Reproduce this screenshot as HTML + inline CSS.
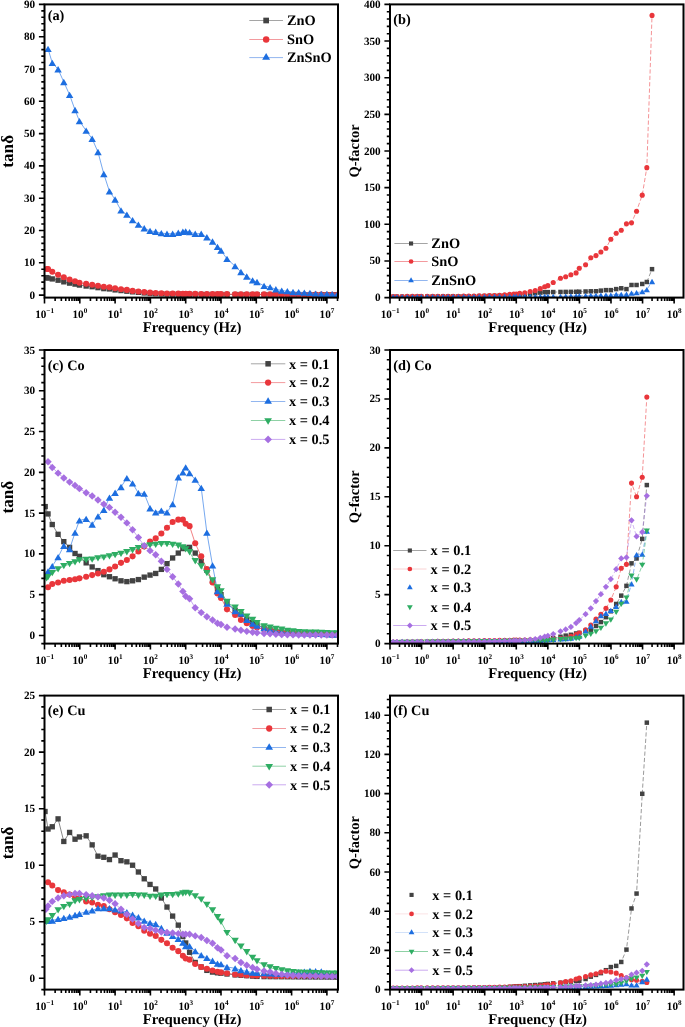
<!DOCTYPE html>
<html><head><meta charset="utf-8"><style>
html,body{margin:0;padding:0;background:#fff;width:685px;height:1027px;overflow:hidden}
svg{display:block;will-change:transform}
text{font-family:"Liberation Serif", serif;font-weight:bold;fill:#000;text-rendering:geometricPrecision}
</style></head><body>
<svg width="685" height="1027" viewBox="0 0 685 1027">
<defs><clipPath id="clip00"><rect x="44.5" y="4.4" width="293.5" height="293.2"/></clipPath><clipPath id="clip10"><rect x="390" y="4.4" width="293.5" height="293.2"/></clipPath><clipPath id="clip01"><rect x="44.5" y="350" width="293.5" height="293.6"/></clipPath><clipPath id="clip11"><rect x="390" y="350" width="293.5" height="293.6"/></clipPath><clipPath id="clip02"><rect x="44.5" y="695.6" width="293.5" height="294"/></clipPath><clipPath id="clip12"><rect x="390" y="695.6" width="293.5" height="294"/></clipPath></defs>
<rect width="685" height="1027" fill="#fff"/>
<g clip-path="url(#clip00)">
<polyline points="46.27,277.64 48.03,278.04 52.27,278.93 58.09,280.22 63.81,281.84 69.6,283.13 75.03,284.1 79.45,285.07 86.15,286.04 92.16,286.68 97.98,287.65 103.8,288.62 109.45,288.94 115.1,289.91 121,290.56 126.85,291.21 132.57,291.85 138.4,292.34 144.22,292.92 150.05,293.47 155.69,293.7 161.34,293.92 166.99,294.11 172.64,294.17 178.29,294.23 182.88,294.27 185.7,294.3 189.58,294.34 195.23,294.39 201.23,294.43 206.88,294.45 212.53,294.46 217.47,294.48 221,294.49 227,294.5 235.12,294.52 240.94,294.53 246.77,294.55 252.59,294.56 257.01,294.57 264.07,294.59 270.07,294.6 275.89,294.62 281.72,294.63 287.36,294.64 293.01,294.66 298.66,294.67 304.31,294.68 309.96,294.7 315.6,294.71 321.25,294.72 326.9,294.74 332.19,294.75 337.49,294.76" fill="none" stroke="#555555" stroke-width="0.7" />
<rect x="43.6" y="274.97" width="5.33" height="5.33" fill="#424242"/>
<rect x="45.36" y="275.38" width="5.33" height="5.33" fill="#424242"/>
<rect x="49.6" y="276.27" width="5.33" height="5.33" fill="#424242"/>
<rect x="55.42" y="277.56" width="5.33" height="5.33" fill="#424242"/>
<rect x="61.14" y="279.17" width="5.33" height="5.33" fill="#424242"/>
<rect x="66.93" y="280.46" width="5.33" height="5.33" fill="#424242"/>
<rect x="72.37" y="281.43" width="5.33" height="5.33" fill="#424242"/>
<rect x="76.78" y="282.4" width="5.33" height="5.33" fill="#424242"/>
<rect x="83.49" y="283.37" width="5.33" height="5.33" fill="#424242"/>
<rect x="89.49" y="284.02" width="5.33" height="5.33" fill="#424242"/>
<rect x="95.31" y="284.99" width="5.33" height="5.33" fill="#424242"/>
<rect x="101.14" y="285.96" width="5.33" height="5.33" fill="#424242"/>
<rect x="106.79" y="286.28" width="5.33" height="5.33" fill="#424242"/>
<rect x="112.43" y="287.25" width="5.33" height="5.33" fill="#424242"/>
<rect x="118.33" y="287.89" width="5.33" height="5.33" fill="#424242"/>
<rect x="124.19" y="288.54" width="5.33" height="5.33" fill="#424242"/>
<rect x="129.91" y="289.18" width="5.33" height="5.33" fill="#424242"/>
<rect x="135.73" y="289.67" width="5.33" height="5.33" fill="#424242"/>
<rect x="141.56" y="290.26" width="5.33" height="5.33" fill="#424242"/>
<rect x="147.38" y="290.8" width="5.33" height="5.33" fill="#424242"/>
<rect x="153.03" y="291.03" width="5.33" height="5.33" fill="#424242"/>
<rect x="158.68" y="291.26" width="5.33" height="5.33" fill="#424242"/>
<rect x="164.32" y="291.45" width="5.33" height="5.33" fill="#424242"/>
<rect x="169.97" y="291.51" width="5.33" height="5.33" fill="#424242"/>
<rect x="175.62" y="291.56" width="5.33" height="5.33" fill="#424242"/>
<rect x="180.21" y="291.61" width="5.33" height="5.33" fill="#424242"/>
<rect x="183.03" y="291.63" width="5.33" height="5.33" fill="#424242"/>
<rect x="186.92" y="291.67" width="5.33" height="5.33" fill="#424242"/>
<rect x="192.56" y="291.72" width="5.33" height="5.33" fill="#424242"/>
<rect x="198.57" y="291.77" width="5.33" height="5.33" fill="#424242"/>
<rect x="204.21" y="291.79" width="5.33" height="5.33" fill="#424242"/>
<rect x="209.86" y="291.8" width="5.33" height="5.33" fill="#424242"/>
<rect x="214.8" y="291.81" width="5.33" height="5.33" fill="#424242"/>
<rect x="218.33" y="291.82" width="5.33" height="5.33" fill="#424242"/>
<rect x="224.33" y="291.83" width="5.33" height="5.33" fill="#424242"/>
<rect x="232.45" y="291.85" width="5.33" height="5.33" fill="#424242"/>
<rect x="238.28" y="291.87" width="5.33" height="5.33" fill="#424242"/>
<rect x="244.1" y="291.88" width="5.33" height="5.33" fill="#424242"/>
<rect x="249.93" y="291.89" width="5.33" height="5.33" fill="#424242"/>
<rect x="254.34" y="291.91" width="5.33" height="5.33" fill="#424242"/>
<rect x="261.4" y="291.92" width="5.33" height="5.33" fill="#424242"/>
<rect x="267.4" y="291.94" width="5.33" height="5.33" fill="#424242"/>
<rect x="273.23" y="291.95" width="5.33" height="5.33" fill="#424242"/>
<rect x="279.05" y="291.96" width="5.33" height="5.33" fill="#424242"/>
<rect x="284.7" y="291.98" width="5.33" height="5.33" fill="#424242"/>
<rect x="290.35" y="291.99" width="5.33" height="5.33" fill="#424242"/>
<rect x="295.99" y="292" width="5.33" height="5.33" fill="#424242"/>
<rect x="301.64" y="292.02" width="5.33" height="5.33" fill="#424242"/>
<rect x="307.29" y="292.03" width="5.33" height="5.33" fill="#424242"/>
<rect x="312.94" y="292.05" width="5.33" height="5.33" fill="#424242"/>
<rect x="318.59" y="292.06" width="5.33" height="5.33" fill="#424242"/>
<rect x="324.23" y="292.07" width="5.33" height="5.33" fill="#424242"/>
<rect x="329.53" y="292.09" width="5.33" height="5.33" fill="#424242"/>
<rect x="334.82" y="292.09" width="5.33" height="5.33" fill="#424242"/>
<polyline points="46.97,268.92 48.03,268.92 52.27,271.83 58.09,274.73 63.81,277.32 69.6,279.58 75.03,281.19 79.45,282.81 86.15,283.78 92.16,284.75 97.98,285.71 103.8,286.68 109.45,287.33 115.1,288.3 121,289.27 126.85,289.91 132.57,290.88 138.4,291.53 144.22,292.11 150.05,292.66 155.69,292.95 161.34,293.23 166.99,293.47 172.64,293.56 178.29,293.64 182.88,293.71 185.7,293.75 189.58,293.8 195.23,293.88 201.23,293.95 206.88,293.99 212.53,294.03 217.47,294.06 221,294.09 227,294.12 235.12,294.18 240.94,294.21 246.77,294.25 252.59,294.28 257.01,294.3 264.07,294.33 270.07,294.35 275.89,294.38 281.72,294.4 287.36,294.42 293.01,294.46 298.66,294.5 304.31,294.54 309.96,294.58 315.6,294.62 321.25,294.66 326.9,294.7 332.19,294.74 337.49,294.76" fill="none" stroke="#ec4a4f" stroke-width="0.7" />
<circle cx="46.97" cy="268.92" r="3.04" fill="#e9363b"/>
<circle cx="48.03" cy="268.92" r="3.04" fill="#e9363b"/>
<circle cx="52.27" cy="271.83" r="3.04" fill="#e9363b"/>
<circle cx="58.09" cy="274.73" r="3.04" fill="#e9363b"/>
<circle cx="63.81" cy="277.32" r="3.04" fill="#e9363b"/>
<circle cx="69.6" cy="279.58" r="3.04" fill="#e9363b"/>
<circle cx="75.03" cy="281.19" r="3.04" fill="#e9363b"/>
<circle cx="79.45" cy="282.81" r="3.04" fill="#e9363b"/>
<circle cx="86.15" cy="283.78" r="3.04" fill="#e9363b"/>
<circle cx="92.16" cy="284.75" r="3.04" fill="#e9363b"/>
<circle cx="97.98" cy="285.71" r="3.04" fill="#e9363b"/>
<circle cx="103.8" cy="286.68" r="3.04" fill="#e9363b"/>
<circle cx="109.45" cy="287.33" r="3.04" fill="#e9363b"/>
<circle cx="115.1" cy="288.3" r="3.04" fill="#e9363b"/>
<circle cx="121" cy="289.27" r="3.04" fill="#e9363b"/>
<circle cx="126.85" cy="289.91" r="3.04" fill="#e9363b"/>
<circle cx="132.57" cy="290.88" r="3.04" fill="#e9363b"/>
<circle cx="138.4" cy="291.53" r="3.04" fill="#e9363b"/>
<circle cx="144.22" cy="292.11" r="3.04" fill="#e9363b"/>
<circle cx="150.05" cy="292.66" r="3.04" fill="#e9363b"/>
<circle cx="155.69" cy="292.95" r="3.04" fill="#e9363b"/>
<circle cx="161.34" cy="293.23" r="3.04" fill="#e9363b"/>
<circle cx="166.99" cy="293.47" r="3.04" fill="#e9363b"/>
<circle cx="172.64" cy="293.56" r="3.04" fill="#e9363b"/>
<circle cx="178.29" cy="293.64" r="3.04" fill="#e9363b"/>
<circle cx="182.88" cy="293.71" r="3.04" fill="#e9363b"/>
<circle cx="185.7" cy="293.75" r="3.04" fill="#e9363b"/>
<circle cx="189.58" cy="293.8" r="3.04" fill="#e9363b"/>
<circle cx="195.23" cy="293.88" r="3.04" fill="#e9363b"/>
<circle cx="201.23" cy="293.95" r="3.04" fill="#e9363b"/>
<circle cx="206.88" cy="293.99" r="3.04" fill="#e9363b"/>
<circle cx="212.53" cy="294.03" r="3.04" fill="#e9363b"/>
<circle cx="217.47" cy="294.06" r="3.04" fill="#e9363b"/>
<circle cx="221" cy="294.09" r="3.04" fill="#e9363b"/>
<circle cx="227" cy="294.12" r="3.04" fill="#e9363b"/>
<circle cx="235.12" cy="294.18" r="3.04" fill="#e9363b"/>
<circle cx="240.94" cy="294.21" r="3.04" fill="#e9363b"/>
<circle cx="246.77" cy="294.25" r="3.04" fill="#e9363b"/>
<circle cx="252.59" cy="294.28" r="3.04" fill="#e9363b"/>
<circle cx="257.01" cy="294.3" r="3.04" fill="#e9363b"/>
<circle cx="264.07" cy="294.33" r="3.04" fill="#e9363b"/>
<circle cx="270.07" cy="294.35" r="3.04" fill="#e9363b"/>
<circle cx="275.89" cy="294.38" r="3.04" fill="#e9363b"/>
<circle cx="281.72" cy="294.4" r="3.04" fill="#e9363b"/>
<circle cx="287.36" cy="294.42" r="3.04" fill="#e9363b"/>
<circle cx="293.01" cy="294.46" r="3.04" fill="#e9363b"/>
<circle cx="298.66" cy="294.5" r="3.04" fill="#e9363b"/>
<circle cx="304.31" cy="294.54" r="3.04" fill="#e9363b"/>
<circle cx="309.96" cy="294.58" r="3.04" fill="#e9363b"/>
<circle cx="315.6" cy="294.62" r="3.04" fill="#e9363b"/>
<circle cx="321.25" cy="294.66" r="3.04" fill="#e9363b"/>
<circle cx="326.9" cy="294.7" r="3.04" fill="#e9363b"/>
<circle cx="332.19" cy="294.74" r="3.04" fill="#e9363b"/>
<circle cx="337.49" cy="294.76" r="3.04" fill="#e9363b"/>
<polyline points="48.03,48.91 52.27,62.79 58.09,69.29 63.81,81.98 69.6,94.8 75.03,109.98 79.45,121.09 86.15,130.68 92.16,138.76 97.98,152 103.8,173.96 109.45,191.4 115.1,199.48 121,210.46 126.85,214.66 132.57,220.15 138.4,224.67 144.22,228.22 150.05,230.81 155.69,231.78 161.34,233.07 166.99,233.71 172.64,233.71 178.29,232.75 182.88,231.78 185.7,231.45 189.58,232.1 195.23,233.71 201.23,233.71 206.88,237.27 212.53,241.47 217.47,246.96 221,250.51 227,258.91 235.12,266.17 240.94,271.99 246.77,276.51 252.59,280.39 257.01,282 264.07,285.88 270.07,287.17 275.89,289.27 281.72,290.56 287.36,291.21 293.01,291.98 298.66,292.17 304.31,292.59 309.96,292.88 315.6,293.63 321.25,293.79 326.9,293.95 332.19,294.11 337.49,294.11" fill="none" stroke="#3b82e8" stroke-width="0.7" />
<polygon points="48.03,45.74 51.75,52.07 44.31,52.07" fill="#1d6ee0"/>
<polygon points="52.27,59.63 55.99,65.96 48.55,65.96" fill="#1d6ee0"/>
<polygon points="58.09,66.12 61.81,72.45 54.37,72.45" fill="#1d6ee0"/>
<polygon points="63.81,78.82 67.53,85.14 60.09,85.14" fill="#1d6ee0"/>
<polygon points="69.6,91.64 73.32,97.96 65.88,97.96" fill="#1d6ee0"/>
<polygon points="75.03,106.82 78.75,113.14 71.31,113.14" fill="#1d6ee0"/>
<polygon points="79.45,117.93 83.17,124.25 75.73,124.25" fill="#1d6ee0"/>
<polygon points="86.15,127.52 89.87,133.85 82.43,133.85" fill="#1d6ee0"/>
<polygon points="92.16,135.6 95.88,141.92 88.44,141.92" fill="#1d6ee0"/>
<polygon points="97.98,148.84 101.7,155.16 94.26,155.16" fill="#1d6ee0"/>
<polygon points="103.8,170.8 107.52,177.13 100.08,177.13" fill="#1d6ee0"/>
<polygon points="109.45,188.24 113.17,194.57 105.73,194.57" fill="#1d6ee0"/>
<polygon points="115.1,196.32 118.82,202.64 111.38,202.64" fill="#1d6ee0"/>
<polygon points="121,207.3 124.72,213.62 117.28,213.62" fill="#1d6ee0"/>
<polygon points="126.85,211.5 130.57,217.82 123.13,217.82" fill="#1d6ee0"/>
<polygon points="132.57,216.99 136.29,223.31 128.85,223.31" fill="#1d6ee0"/>
<polygon points="138.4,221.51 142.12,227.83 134.68,227.83" fill="#1d6ee0"/>
<polygon points="144.22,225.06 147.94,231.39 140.5,231.39" fill="#1d6ee0"/>
<polygon points="150.05,227.65 153.77,233.97 146.33,233.97" fill="#1d6ee0"/>
<polygon points="155.69,228.61 159.41,234.94 151.97,234.94" fill="#1d6ee0"/>
<polygon points="161.34,229.91 165.06,236.23 157.62,236.23" fill="#1d6ee0"/>
<polygon points="166.99,230.55 170.71,236.88 163.27,236.88" fill="#1d6ee0"/>
<polygon points="172.64,230.55 176.36,236.88 168.92,236.88" fill="#1d6ee0"/>
<polygon points="178.29,229.58 182.01,235.91 174.57,235.91" fill="#1d6ee0"/>
<polygon points="182.88,228.61 186.6,234.94 179.16,234.94" fill="#1d6ee0"/>
<polygon points="185.7,228.29 189.42,234.62 181.98,234.62" fill="#1d6ee0"/>
<polygon points="189.58,228.94 193.3,235.26 185.86,235.26" fill="#1d6ee0"/>
<polygon points="195.23,230.55 198.95,236.88 191.51,236.88" fill="#1d6ee0"/>
<polygon points="201.23,230.55 204.95,236.88 197.51,236.88" fill="#1d6ee0"/>
<polygon points="206.88,234.11 210.6,240.43 203.16,240.43" fill="#1d6ee0"/>
<polygon points="212.53,238.3 216.25,244.63 208.81,244.63" fill="#1d6ee0"/>
<polygon points="217.47,243.79 221.19,250.12 213.75,250.12" fill="#1d6ee0"/>
<polygon points="221,247.35 224.72,253.67 217.28,253.67" fill="#1d6ee0"/>
<polygon points="227,255.75 230.72,262.07 223.28,262.07" fill="#1d6ee0"/>
<polygon points="235.12,263.01 238.84,269.34 231.4,269.34" fill="#1d6ee0"/>
<polygon points="240.94,268.83 244.66,275.15 237.22,275.15" fill="#1d6ee0"/>
<polygon points="246.77,273.35 250.49,279.67 243.05,279.67" fill="#1d6ee0"/>
<polygon points="252.59,277.22 256.31,283.55 248.87,283.55" fill="#1d6ee0"/>
<polygon points="257.01,278.84 260.73,285.16 253.29,285.16" fill="#1d6ee0"/>
<polygon points="264.07,282.71 267.79,289.04 260.35,289.04" fill="#1d6ee0"/>
<polygon points="270.07,284.01 273.79,290.33 266.35,290.33" fill="#1d6ee0"/>
<polygon points="275.89,286.11 279.61,292.43 272.17,292.43" fill="#1d6ee0"/>
<polygon points="281.72,287.4 285.44,293.72 278,293.72" fill="#1d6ee0"/>
<polygon points="287.36,288.04 291.08,294.37 283.64,294.37" fill="#1d6ee0"/>
<polygon points="293.01,288.82 296.73,295.14 289.29,295.14" fill="#1d6ee0"/>
<polygon points="298.66,289.01 302.38,295.34 294.94,295.34" fill="#1d6ee0"/>
<polygon points="304.31,289.43 308.03,295.76 300.59,295.76" fill="#1d6ee0"/>
<polygon points="309.96,289.72 313.68,296.05 306.24,296.05" fill="#1d6ee0"/>
<polygon points="315.6,290.47 319.32,296.79 311.88,296.79" fill="#1d6ee0"/>
<polygon points="321.25,290.63 324.97,296.95 317.53,296.95" fill="#1d6ee0"/>
<polygon points="326.9,290.79 330.62,297.11 323.18,297.11" fill="#1d6ee0"/>
<polygon points="332.19,290.95 335.92,297.27 328.47,297.27" fill="#1d6ee0"/>
<polygon points="337.49,290.95 341.21,297.27 333.77,297.27" fill="#1d6ee0"/>
</g>
<rect x="44.5" y="4.4" width="293.5" height="293.2" fill="none" stroke="#000" stroke-width="2"/>
<text transform="translate(35.2 298.58) scale(1.0 1)" font-size="11.2" text-anchor="end" >0</text>
<text transform="translate(35.2 266.28) scale(1.0 1)" font-size="11.2" text-anchor="end" >10</text>
<text transform="translate(35.2 233.99) scale(1.0 1)" font-size="11.2" text-anchor="end" >20</text>
<text transform="translate(35.2 201.69) scale(1.0 1)" font-size="11.2" text-anchor="end" >30</text>
<text transform="translate(35.2 169.39) scale(1.0 1)" font-size="11.2" text-anchor="end" >40</text>
<text transform="translate(35.2 137.09) scale(1.0 1)" font-size="11.2" text-anchor="end" >50</text>
<text transform="translate(35.2 104.79) scale(1.0 1)" font-size="11.2" text-anchor="end" >60</text>
<text transform="translate(35.2 72.5) scale(1.0 1)" font-size="11.2" text-anchor="end" >70</text>
<text transform="translate(35.2 40.2) scale(1.0 1)" font-size="11.2" text-anchor="end" >80</text>
<text transform="translate(35.2 7.9) scale(1.0 1)" font-size="11.2" text-anchor="end" >90</text>
<text transform="translate(44.6 317.6) scale(1.0 1)" font-size="11.2" text-anchor="middle">10<tspan font-size="7.2" dy="-4.2">&#8722;1</tspan></text>
<text transform="translate(79.9 317.6) scale(1.0 1)" font-size="11.2" text-anchor="middle">10<tspan font-size="7.2" dy="-4.2">0</tspan></text>
<text transform="translate(115.2 317.6) scale(1.0 1)" font-size="11.2" text-anchor="middle">10<tspan font-size="7.2" dy="-4.2">1</tspan></text>
<text transform="translate(150.5 317.6) scale(1.0 1)" font-size="11.2" text-anchor="middle">10<tspan font-size="7.2" dy="-4.2">2</tspan></text>
<text transform="translate(185.8 317.6) scale(1.0 1)" font-size="11.2" text-anchor="middle">10<tspan font-size="7.2" dy="-4.2">3</tspan></text>
<text transform="translate(221.1 317.6) scale(1.0 1)" font-size="11.2" text-anchor="middle">10<tspan font-size="7.2" dy="-4.2">4</tspan></text>
<text transform="translate(256.4 317.6) scale(1.0 1)" font-size="11.2" text-anchor="middle">10<tspan font-size="7.2" dy="-4.2">5</tspan></text>
<text transform="translate(291.7 317.6) scale(1.0 1)" font-size="11.2" text-anchor="middle">10<tspan font-size="7.2" dy="-4.2">6</tspan></text>
<text transform="translate(327 317.6) scale(1.0 1)" font-size="11.2" text-anchor="middle">10<tspan font-size="7.2" dy="-4.2">7</tspan></text>
<path d="M38.9 295.08H44.5M41.3 288.62H44.5M41.3 282.16H44.5M41.3 275.7H44.5M41.3 269.24H44.5M38.9 262.78H44.5M41.3 256.32H44.5M41.3 249.86H44.5M41.3 243.4H44.5M41.3 236.94H44.5M38.9 230.49H44.5M41.3 224.03H44.5M41.3 217.57H44.5M41.3 211.11H44.5M41.3 204.65H44.5M38.9 198.19H44.5M41.3 191.73H44.5M41.3 185.27H44.5M41.3 178.81H44.5M41.3 172.35H44.5M38.9 165.89H44.5M41.3 159.43H44.5M41.3 152.97H44.5M41.3 146.51H44.5M41.3 140.05H44.5M38.9 133.59H44.5M41.3 127.13H44.5M41.3 120.67H44.5M41.3 114.21H44.5M41.3 107.75H44.5M38.9 101.29H44.5M41.3 94.83H44.5M41.3 88.37H44.5M41.3 81.91H44.5M41.3 75.46H44.5M38.9 69H44.5M41.3 62.54H44.5M41.3 56.08H44.5M41.3 49.62H44.5M41.3 43.16H44.5M38.9 36.7H44.5M41.3 30.24H44.5M41.3 23.78H44.5M41.3 17.32H44.5M41.3 10.86H44.5M38.9 4.4H44.5M44.5 297.6V303.4M55.13 297.6V300.9M61.34 297.6V300.9M65.75 297.6V300.9M69.17 297.6V300.9M71.97 297.6V300.9M74.33 297.6V300.9M76.38 297.6V300.9M78.18 297.6V300.9M79.8 297.6V303.4M90.43 297.6V300.9M96.64 297.6V300.9M101.05 297.6V300.9M104.47 297.6V300.9M107.27 297.6V300.9M109.63 297.6V300.9M111.68 297.6V300.9M113.48 297.6V300.9M115.1 297.6V303.4M125.73 297.6V300.9M131.94 297.6V300.9M136.35 297.6V300.9M139.77 297.6V300.9M142.57 297.6V300.9M144.93 297.6V300.9M146.98 297.6V300.9M148.78 297.6V300.9M150.4 297.6V303.4M161.03 297.6V300.9M167.24 297.6V300.9M171.65 297.6V300.9M175.07 297.6V300.9M177.87 297.6V300.9M180.23 297.6V300.9M182.28 297.6V300.9M184.08 297.6V300.9M185.7 297.6V303.4M196.33 297.6V300.9M202.54 297.6V300.9M206.95 297.6V300.9M210.37 297.6V300.9M213.17 297.6V300.9M215.53 297.6V300.9M217.58 297.6V300.9M219.38 297.6V300.9M221 297.6V303.4M231.63 297.6V300.9M237.84 297.6V300.9M242.25 297.6V300.9M245.67 297.6V300.9M248.47 297.6V300.9M250.83 297.6V300.9M252.88 297.6V300.9M254.68 297.6V300.9M256.3 297.6V303.4M266.93 297.6V300.9M273.14 297.6V300.9M277.55 297.6V300.9M280.97 297.6V300.9M283.77 297.6V300.9M286.13 297.6V300.9M288.18 297.6V300.9M289.98 297.6V300.9M291.6 297.6V303.4M302.23 297.6V300.9M308.44 297.6V300.9M312.85 297.6V300.9M316.27 297.6V300.9M319.07 297.6V300.9M321.43 297.6V300.9M323.48 297.6V300.9M325.28 297.6V300.9M326.9 297.6V303.4M337.53 297.6V300.9" stroke="#000" stroke-width="1.6" fill="none"/>
<text transform="translate(192.05 332.2) scale(1.0 1)" font-size="14.8" text-anchor="middle" >Frequency (Hz)</text>
<text transform="translate(13 151.3) scale(1.0 1) rotate(-90)" font-size="17.2" text-anchor="middle">tan&#948;</text>
<text transform="translate(47.7 19.9) scale(1.0 1)" font-size="14.3" text-anchor="start" >(a)</text>
<line x1="249.3" y1="20.5" x2="283" y2="20.5" stroke="#a5a5a5" stroke-width="1"/>
<rect x="263.31" y="17.66" width="5.68" height="5.68" fill="#424242"/>
<text transform="translate(287 25.3) scale(1.0 1)" font-size="14.4" text-anchor="start" >ZnO</text>
<line x1="249.3" y1="39.5" x2="283" y2="39.5" stroke="#f39a9e" stroke-width="1"/>
<circle cx="266.15" cy="39.5" r="3.23" fill="#e9363b"/>
<text transform="translate(287 44.3) scale(1.0 1)" font-size="14.4" text-anchor="start" >SnO</text>
<line x1="249.3" y1="57.6" x2="283" y2="57.6" stroke="#92b6ef" stroke-width="1"/>
<polygon points="266.15,53.11 270.11,59.84 262.19,59.84" fill="#1d6ee0"/>
<text transform="translate(287 62.4) scale(1.0 1)" font-size="14.4" text-anchor="start" >ZnSnO</text>
<g clip-path="url(#clip10)">
<polyline points="393.16,296.84 396.95,296.82 402.15,296.78 407.27,296.74 412.45,296.7 417.31,296.67 421.25,296.64 427.25,296.59 432.62,296.55 437.83,296.52 443.04,296.48 448.09,296.44 453.14,296.4 458.41,296.37 463.65,296.33 468.77,296.28 473.98,296.21 479.19,296.12 484.39,296.03 489.45,295.95 494.5,295.86 499.55,295.77 504.6,295.6 509.65,295.41 513.75,295.26 516.28,295.17 519.75,295.03 524.8,294.51 530.17,293.94 535.22,293.22 540.27,292.62 544.69,292.18 547.85,292.13 553.22,292.06 560.48,291.96 565.69,291.89 570.9,291.84 576.11,291.78 579.26,291.74 585.58,291.49 590.79,291.3 595.99,291.22 600.89,290.64 605.94,290.12 610.83,290.12 616.2,289.1 621.25,288.29 626.46,289.1 631.51,284.99 636.56,284.99 642.24,283.97 646.82,281.99 652.03,269.16" fill="none" stroke="#555555" stroke-width="0.6" stroke-dasharray="4.2 2.2"/>
<rect x="390.92" y="294.61" width="4.47" height="4.47" fill="#424242"/>
<rect x="394.71" y="294.58" width="4.47" height="4.47" fill="#424242"/>
<rect x="399.92" y="294.54" width="4.47" height="4.47" fill="#424242"/>
<rect x="405.03" y="294.5" width="4.47" height="4.47" fill="#424242"/>
<rect x="410.21" y="294.47" width="4.47" height="4.47" fill="#424242"/>
<rect x="415.07" y="294.43" width="4.47" height="4.47" fill="#424242"/>
<rect x="419.02" y="294.4" width="4.47" height="4.47" fill="#424242"/>
<rect x="425.02" y="294.36" width="4.47" height="4.47" fill="#424242"/>
<rect x="430.38" y="294.32" width="4.47" height="4.47" fill="#424242"/>
<rect x="435.59" y="294.28" width="4.47" height="4.47" fill="#424242"/>
<rect x="440.8" y="294.24" width="4.47" height="4.47" fill="#424242"/>
<rect x="445.85" y="294.21" width="4.47" height="4.47" fill="#424242"/>
<rect x="450.9" y="294.17" width="4.47" height="4.47" fill="#424242"/>
<rect x="456.18" y="294.13" width="4.47" height="4.47" fill="#424242"/>
<rect x="461.42" y="294.09" width="4.47" height="4.47" fill="#424242"/>
<rect x="466.53" y="294.04" width="4.47" height="4.47" fill="#424242"/>
<rect x="471.74" y="293.98" width="4.47" height="4.47" fill="#424242"/>
<rect x="476.95" y="293.89" width="4.47" height="4.47" fill="#424242"/>
<rect x="482.16" y="293.8" width="4.47" height="4.47" fill="#424242"/>
<rect x="487.21" y="293.71" width="4.47" height="4.47" fill="#424242"/>
<rect x="492.26" y="293.63" width="4.47" height="4.47" fill="#424242"/>
<rect x="497.31" y="293.53" width="4.47" height="4.47" fill="#424242"/>
<rect x="502.36" y="293.36" width="4.47" height="4.47" fill="#424242"/>
<rect x="507.41" y="293.18" width="4.47" height="4.47" fill="#424242"/>
<rect x="511.52" y="293.03" width="4.47" height="4.47" fill="#424242"/>
<rect x="514.04" y="292.93" width="4.47" height="4.47" fill="#424242"/>
<rect x="517.52" y="292.8" width="4.47" height="4.47" fill="#424242"/>
<rect x="522.57" y="292.27" width="4.47" height="4.47" fill="#424242"/>
<rect x="527.93" y="291.7" width="4.47" height="4.47" fill="#424242"/>
<rect x="532.99" y="290.98" width="4.47" height="4.47" fill="#424242"/>
<rect x="538.04" y="290.39" width="4.47" height="4.47" fill="#424242"/>
<rect x="542.46" y="289.94" width="4.47" height="4.47" fill="#424242"/>
<rect x="545.61" y="289.9" width="4.47" height="4.47" fill="#424242"/>
<rect x="550.98" y="289.82" width="4.47" height="4.47" fill="#424242"/>
<rect x="558.24" y="289.72" width="4.47" height="4.47" fill="#424242"/>
<rect x="563.45" y="289.66" width="4.47" height="4.47" fill="#424242"/>
<rect x="568.66" y="289.6" width="4.47" height="4.47" fill="#424242"/>
<rect x="573.87" y="289.54" width="4.47" height="4.47" fill="#424242"/>
<rect x="577.03" y="289.5" width="4.47" height="4.47" fill="#424242"/>
<rect x="583.34" y="289.25" width="4.47" height="4.47" fill="#424242"/>
<rect x="588.55" y="289.06" width="4.47" height="4.47" fill="#424242"/>
<rect x="593.76" y="288.99" width="4.47" height="4.47" fill="#424242"/>
<rect x="598.65" y="288.4" width="4.47" height="4.47" fill="#424242"/>
<rect x="603.7" y="287.89" width="4.47" height="4.47" fill="#424242"/>
<rect x="608.6" y="287.89" width="4.47" height="4.47" fill="#424242"/>
<rect x="613.96" y="286.86" width="4.47" height="4.47" fill="#424242"/>
<rect x="619.01" y="286.05" width="4.47" height="4.47" fill="#424242"/>
<rect x="624.22" y="286.86" width="4.47" height="4.47" fill="#424242"/>
<rect x="629.27" y="282.76" width="4.47" height="4.47" fill="#424242"/>
<rect x="634.33" y="282.76" width="4.47" height="4.47" fill="#424242"/>
<rect x="640.01" y="281.73" width="4.47" height="4.47" fill="#424242"/>
<rect x="644.59" y="279.75" width="4.47" height="4.47" fill="#424242"/>
<rect x="649.79" y="266.92" width="4.47" height="4.47" fill="#424242"/>
<polyline points="393.16,296.49 396.95,296.47 402.15,296.44 407.27,296.42 412.45,296.4 417.31,296.38 421.25,296.36 427.25,296.33 432.62,296.31 437.83,296.28 443.04,296.26 448.09,296.23 453.14,296.21 458.41,296.19 463.65,296.16 468.77,296.13 473.98,295.98 479.19,295.91 484.39,295.8 489.45,295.6 494.5,295.43 499.55,295.33 504.6,294.89 509.65,294.37 513.75,294.12 516.28,294.01 519.75,293.42 524.8,292.91 530.17,291.52 535.22,290.56 540.27,288.66 544.69,286.82 547.85,285.65 553.22,282.43 560.48,278.25 565.69,276.71 570.9,274.73 576.11,272.9 579.26,268.28 585.58,264.69 590.79,257.8 595.99,255.6 600.89,252.01 605.94,248.27 610.83,239.18 616.2,233.32 621.25,230.24 626.46,223.86 631.51,222.83 636.56,211.18 642.24,195.13 646.82,167.64 652.03,15.39" fill="none" stroke="#ec4a4f" stroke-width="0.6" stroke-dasharray="4.2 2.2"/>
<circle cx="393.16" cy="296.49" r="2.55" fill="#e9363b"/>
<circle cx="396.95" cy="296.47" r="2.55" fill="#e9363b"/>
<circle cx="402.15" cy="296.44" r="2.55" fill="#e9363b"/>
<circle cx="407.27" cy="296.42" r="2.55" fill="#e9363b"/>
<circle cx="412.45" cy="296.4" r="2.55" fill="#e9363b"/>
<circle cx="417.31" cy="296.38" r="2.55" fill="#e9363b"/>
<circle cx="421.25" cy="296.36" r="2.55" fill="#e9363b"/>
<circle cx="427.25" cy="296.33" r="2.55" fill="#e9363b"/>
<circle cx="432.62" cy="296.31" r="2.55" fill="#e9363b"/>
<circle cx="437.83" cy="296.28" r="2.55" fill="#e9363b"/>
<circle cx="443.04" cy="296.26" r="2.55" fill="#e9363b"/>
<circle cx="448.09" cy="296.23" r="2.55" fill="#e9363b"/>
<circle cx="453.14" cy="296.21" r="2.55" fill="#e9363b"/>
<circle cx="458.41" cy="296.19" r="2.55" fill="#e9363b"/>
<circle cx="463.65" cy="296.16" r="2.55" fill="#e9363b"/>
<circle cx="468.77" cy="296.13" r="2.55" fill="#e9363b"/>
<circle cx="473.98" cy="295.98" r="2.55" fill="#e9363b"/>
<circle cx="479.19" cy="295.91" r="2.55" fill="#e9363b"/>
<circle cx="484.39" cy="295.8" r="2.55" fill="#e9363b"/>
<circle cx="489.45" cy="295.6" r="2.55" fill="#e9363b"/>
<circle cx="494.5" cy="295.43" r="2.55" fill="#e9363b"/>
<circle cx="499.55" cy="295.33" r="2.55" fill="#e9363b"/>
<circle cx="504.6" cy="294.89" r="2.55" fill="#e9363b"/>
<circle cx="509.65" cy="294.37" r="2.55" fill="#e9363b"/>
<circle cx="513.75" cy="294.12" r="2.55" fill="#e9363b"/>
<circle cx="516.28" cy="294.01" r="2.55" fill="#e9363b"/>
<circle cx="519.75" cy="293.42" r="2.55" fill="#e9363b"/>
<circle cx="524.8" cy="292.91" r="2.55" fill="#e9363b"/>
<circle cx="530.17" cy="291.52" r="2.55" fill="#e9363b"/>
<circle cx="535.22" cy="290.56" r="2.55" fill="#e9363b"/>
<circle cx="540.27" cy="288.66" r="2.55" fill="#e9363b"/>
<circle cx="544.69" cy="286.82" r="2.55" fill="#e9363b"/>
<circle cx="547.85" cy="285.65" r="2.55" fill="#e9363b"/>
<circle cx="553.22" cy="282.43" r="2.55" fill="#e9363b"/>
<circle cx="560.48" cy="278.25" r="2.55" fill="#e9363b"/>
<circle cx="565.69" cy="276.71" r="2.55" fill="#e9363b"/>
<circle cx="570.9" cy="274.73" r="2.55" fill="#e9363b"/>
<circle cx="576.11" cy="272.9" r="2.55" fill="#e9363b"/>
<circle cx="579.26" cy="268.28" r="2.55" fill="#e9363b"/>
<circle cx="585.58" cy="264.69" r="2.55" fill="#e9363b"/>
<circle cx="590.79" cy="257.8" r="2.55" fill="#e9363b"/>
<circle cx="595.99" cy="255.6" r="2.55" fill="#e9363b"/>
<circle cx="600.89" cy="252.01" r="2.55" fill="#e9363b"/>
<circle cx="605.94" cy="248.27" r="2.55" fill="#e9363b"/>
<circle cx="610.83" cy="239.18" r="2.55" fill="#e9363b"/>
<circle cx="616.2" cy="233.32" r="2.55" fill="#e9363b"/>
<circle cx="621.25" cy="230.24" r="2.55" fill="#e9363b"/>
<circle cx="626.46" cy="223.86" r="2.55" fill="#e9363b"/>
<circle cx="631.51" cy="222.83" r="2.55" fill="#e9363b"/>
<circle cx="636.56" cy="211.18" r="2.55" fill="#e9363b"/>
<circle cx="642.24" cy="195.13" r="2.55" fill="#e9363b"/>
<circle cx="646.82" cy="167.64" r="2.55" fill="#e9363b"/>
<circle cx="652.03" cy="15.39" r="2.55" fill="#e9363b"/>
<polyline points="393.16,296.86 396.95,296.84 402.15,296.83 407.27,296.81 412.45,296.79 417.31,296.77 421.25,296.76 427.25,296.74 432.62,296.72 437.83,296.7 443.04,296.68 448.09,296.67 453.14,296.65 458.41,296.63 463.65,296.61 468.77,296.6 473.98,296.58 479.19,296.56 484.39,296.54 489.45,296.52 494.5,296.51 499.55,296.49 504.6,296.47 509.65,296.45 513.75,296.44 516.28,296.43 519.75,296.42 524.8,296.4 530.17,296.38 535.22,296.37 540.27,296.35 544.69,296.33 547.85,296.32 553.22,296.3 560.48,296.28 565.69,296.11 570.9,295.96 576.11,295.81 579.26,295.72 585.58,295.53 590.79,295.4 595.99,295.31 600.89,295.24 605.94,295.17 610.83,295.11 616.2,294.37 621.25,294.3 626.46,294.23 631.51,293.2 636.56,292.69 642.24,291.66 646.82,289.61 652.03,281.47" fill="none" stroke="#3b82e8" stroke-width="0.6" stroke-dasharray="4.2 2.2"/>
<polygon points="393.16,294.2 396.28,299.51 390.04,299.51" fill="#1d6ee0"/>
<polygon points="396.95,294.19 400.07,299.5 393.83,299.5" fill="#1d6ee0"/>
<polygon points="402.15,294.17 405.27,299.48 399.03,299.48" fill="#1d6ee0"/>
<polygon points="407.27,294.16 410.39,299.46 404.15,299.46" fill="#1d6ee0"/>
<polygon points="412.45,294.14 415.57,299.44 409.33,299.44" fill="#1d6ee0"/>
<polygon points="417.31,294.12 420.43,299.42 414.19,299.42" fill="#1d6ee0"/>
<polygon points="421.25,294.11 424.37,299.41 418.13,299.41" fill="#1d6ee0"/>
<polygon points="427.25,294.09 430.37,299.39 424.13,299.39" fill="#1d6ee0"/>
<polygon points="432.62,294.07 435.74,299.37 429.5,299.37" fill="#1d6ee0"/>
<polygon points="437.83,294.05 440.95,299.35 434.71,299.35" fill="#1d6ee0"/>
<polygon points="443.04,294.03 446.16,299.34 439.92,299.34" fill="#1d6ee0"/>
<polygon points="448.09,294.01 451.21,299.32 444.97,299.32" fill="#1d6ee0"/>
<polygon points="453.14,294 456.26,299.3 450.02,299.3" fill="#1d6ee0"/>
<polygon points="458.41,293.98 461.53,299.28 455.29,299.28" fill="#1d6ee0"/>
<polygon points="463.65,293.96 466.77,299.26 460.53,299.26" fill="#1d6ee0"/>
<polygon points="468.77,293.94 471.89,299.25 465.65,299.25" fill="#1d6ee0"/>
<polygon points="473.98,293.93 477.1,299.23 470.86,299.23" fill="#1d6ee0"/>
<polygon points="479.19,293.91 482.31,299.21 476.07,299.21" fill="#1d6ee0"/>
<polygon points="484.39,293.89 487.51,299.19 481.27,299.19" fill="#1d6ee0"/>
<polygon points="489.45,293.87 492.57,299.18 486.33,299.18" fill="#1d6ee0"/>
<polygon points="494.5,293.85 497.62,299.16 491.38,299.16" fill="#1d6ee0"/>
<polygon points="499.55,293.84 502.67,299.14 496.43,299.14" fill="#1d6ee0"/>
<polygon points="504.6,293.82 507.72,299.12 501.48,299.12" fill="#1d6ee0"/>
<polygon points="509.65,293.8 512.77,299.11 506.53,299.11" fill="#1d6ee0"/>
<polygon points="513.75,293.79 516.87,299.09 510.63,299.09" fill="#1d6ee0"/>
<polygon points="516.28,293.78 519.4,299.08 513.16,299.08" fill="#1d6ee0"/>
<polygon points="519.75,293.77 522.87,299.07 516.63,299.07" fill="#1d6ee0"/>
<polygon points="524.8,293.75 527.92,299.05 521.68,299.05" fill="#1d6ee0"/>
<polygon points="530.17,293.73 533.29,299.04 527.05,299.04" fill="#1d6ee0"/>
<polygon points="535.22,293.71 538.34,299.02 532.1,299.02" fill="#1d6ee0"/>
<polygon points="540.27,293.7 543.39,299 537.15,299" fill="#1d6ee0"/>
<polygon points="544.69,293.68 547.81,298.99 541.57,298.99" fill="#1d6ee0"/>
<polygon points="547.85,293.67 550.97,298.97 544.73,298.97" fill="#1d6ee0"/>
<polygon points="553.22,293.65 556.34,298.96 550.1,298.96" fill="#1d6ee0"/>
<polygon points="560.48,293.63 563.6,298.93 557.36,298.93" fill="#1d6ee0"/>
<polygon points="565.69,293.46 568.81,298.77 562.57,298.77" fill="#1d6ee0"/>
<polygon points="570.9,293.31 574.02,298.61 567.78,298.61" fill="#1d6ee0"/>
<polygon points="576.11,293.16 579.23,298.46 572.99,298.46" fill="#1d6ee0"/>
<polygon points="579.26,293.06 582.38,298.37 576.14,298.37" fill="#1d6ee0"/>
<polygon points="585.58,292.88 588.7,298.18 582.46,298.18" fill="#1d6ee0"/>
<polygon points="590.79,292.75 593.91,298.05 587.67,298.05" fill="#1d6ee0"/>
<polygon points="595.99,292.66 599.11,297.97 592.87,297.97" fill="#1d6ee0"/>
<polygon points="600.89,292.59 604.01,297.89 597.77,297.89" fill="#1d6ee0"/>
<polygon points="605.94,292.52 609.06,297.82 602.82,297.82" fill="#1d6ee0"/>
<polygon points="610.83,292.46 613.95,297.76 607.71,297.76" fill="#1d6ee0"/>
<polygon points="616.2,291.72 619.32,297.03 613.08,297.03" fill="#1d6ee0"/>
<polygon points="621.25,291.65 624.37,296.95 618.13,296.95" fill="#1d6ee0"/>
<polygon points="626.46,291.58 629.58,296.88 623.34,296.88" fill="#1d6ee0"/>
<polygon points="631.51,290.55 634.63,295.85 628.39,295.85" fill="#1d6ee0"/>
<polygon points="636.56,290.04 639.68,295.34 633.44,295.34" fill="#1d6ee0"/>
<polygon points="642.24,289.01 645.36,294.31 639.12,294.31" fill="#1d6ee0"/>
<polygon points="646.82,286.96 649.94,292.26 643.7,292.26" fill="#1d6ee0"/>
<polygon points="652.03,278.82 655.15,284.13 648.91,284.13" fill="#1d6ee0"/>
</g>
<rect x="390" y="4.4" width="293.5" height="293.2" fill="none" stroke="#000" stroke-width="2"/>
<text transform="translate(380.7 301.1) scale(1.0 1)" font-size="11.2" text-anchor="end" >0</text>
<text transform="translate(380.7 264.45) scale(1.0 1)" font-size="11.2" text-anchor="end" >50</text>
<text transform="translate(380.7 227.8) scale(1.0 1)" font-size="11.2" text-anchor="end" >100</text>
<text transform="translate(380.7 191.15) scale(1.0 1)" font-size="11.2" text-anchor="end" >150</text>
<text transform="translate(380.7 154.5) scale(1.0 1)" font-size="11.2" text-anchor="end" >200</text>
<text transform="translate(380.7 117.85) scale(1.0 1)" font-size="11.2" text-anchor="end" >250</text>
<text transform="translate(380.7 81.2) scale(1.0 1)" font-size="11.2" text-anchor="end" >300</text>
<text transform="translate(380.7 44.55) scale(1.0 1)" font-size="11.2" text-anchor="end" >350</text>
<text transform="translate(380.7 7.9) scale(1.0 1)" font-size="11.2" text-anchor="end" >400</text>
<text transform="translate(390.1 317.6) scale(1.0 1)" font-size="11.2" text-anchor="middle">10<tspan font-size="7.2" dy="-4.2">&#8722;1</tspan></text>
<text transform="translate(421.67 317.6) scale(1.0 1)" font-size="11.2" text-anchor="middle">10<tspan font-size="7.2" dy="-4.2">0</tspan></text>
<text transform="translate(453.24 317.6) scale(1.0 1)" font-size="11.2" text-anchor="middle">10<tspan font-size="7.2" dy="-4.2">1</tspan></text>
<text transform="translate(484.81 317.6) scale(1.0 1)" font-size="11.2" text-anchor="middle">10<tspan font-size="7.2" dy="-4.2">2</tspan></text>
<text transform="translate(516.38 317.6) scale(1.0 1)" font-size="11.2" text-anchor="middle">10<tspan font-size="7.2" dy="-4.2">3</tspan></text>
<text transform="translate(547.95 317.6) scale(1.0 1)" font-size="11.2" text-anchor="middle">10<tspan font-size="7.2" dy="-4.2">4</tspan></text>
<text transform="translate(579.52 317.6) scale(1.0 1)" font-size="11.2" text-anchor="middle">10<tspan font-size="7.2" dy="-4.2">5</tspan></text>
<text transform="translate(611.09 317.6) scale(1.0 1)" font-size="11.2" text-anchor="middle">10<tspan font-size="7.2" dy="-4.2">6</tspan></text>
<text transform="translate(642.66 317.6) scale(1.0 1)" font-size="11.2" text-anchor="middle">10<tspan font-size="7.2" dy="-4.2">7</tspan></text>
<text transform="translate(674.23 317.6) scale(1.0 1)" font-size="11.2" text-anchor="middle">10<tspan font-size="7.2" dy="-4.2">8</tspan></text>
<path d="M384.4 297.6H390M386.8 290.27H390M386.8 282.94H390M386.8 275.61H390M386.8 268.28H390M384.4 260.95H390M386.8 253.62H390M386.8 246.29H390M386.8 238.96H390M386.8 231.63H390M384.4 224.3H390M386.8 216.97H390M386.8 209.64H390M386.8 202.31H390M386.8 194.98H390M384.4 187.65H390M386.8 180.32H390M386.8 172.99H390M386.8 165.66H390M386.8 158.33H390M384.4 151H390M386.8 143.67H390M386.8 136.34H390M386.8 129.01H390M386.8 121.68H390M384.4 114.35H390M386.8 107.02H390M386.8 99.69H390M386.8 92.36H390M386.8 85.03H390M384.4 77.7H390M386.8 70.37H390M386.8 63.04H390M386.8 55.71H390M386.8 48.38H390M384.4 41.05H390M386.8 33.72H390M386.8 26.39H390M386.8 19.06H390M386.8 11.73H390M384.4 4.4H390M390 297.6V303.4M399.5 297.6V300.9M405.06 297.6V300.9M409.01 297.6V300.9M412.07 297.6V300.9M414.57 297.6V300.9M416.68 297.6V300.9M418.51 297.6V300.9M420.13 297.6V300.9M421.57 297.6V303.4M431.07 297.6V300.9M436.63 297.6V300.9M440.58 297.6V300.9M443.64 297.6V300.9M446.14 297.6V300.9M448.25 297.6V300.9M450.08 297.6V300.9M451.7 297.6V300.9M453.14 297.6V303.4M462.64 297.6V300.9M468.2 297.6V300.9M472.15 297.6V300.9M475.21 297.6V300.9M477.71 297.6V300.9M479.82 297.6V300.9M481.65 297.6V300.9M483.27 297.6V300.9M484.71 297.6V303.4M494.21 297.6V300.9M499.77 297.6V300.9M503.72 297.6V300.9M506.78 297.6V300.9M509.28 297.6V300.9M511.39 297.6V300.9M513.22 297.6V300.9M514.84 297.6V300.9M516.28 297.6V303.4M525.78 297.6V300.9M531.34 297.6V300.9M535.29 297.6V300.9M538.35 297.6V300.9M540.85 297.6V300.9M542.96 297.6V300.9M544.79 297.6V300.9M546.41 297.6V300.9M547.85 297.6V303.4M557.35 297.6V300.9M562.91 297.6V300.9M566.86 297.6V300.9M569.92 297.6V300.9M572.42 297.6V300.9M574.53 297.6V300.9M576.36 297.6V300.9M577.98 297.6V300.9M579.42 297.6V303.4M588.92 297.6V300.9M594.48 297.6V300.9M598.43 297.6V300.9M601.49 297.6V300.9M603.99 297.6V300.9M606.1 297.6V300.9M607.93 297.6V300.9M609.55 297.6V300.9M610.99 297.6V303.4M620.49 297.6V300.9M626.05 297.6V300.9M630 297.6V300.9M633.06 297.6V300.9M635.56 297.6V300.9M637.67 297.6V300.9M639.5 297.6V300.9M641.12 297.6V300.9M642.56 297.6V303.4M652.06 297.6V300.9M657.62 297.6V300.9M661.57 297.6V300.9M664.63 297.6V300.9M667.13 297.6V300.9M669.24 297.6V300.9M671.07 297.6V300.9M672.69 297.6V300.9M674.13 297.6V303.4" stroke="#000" stroke-width="1.6" fill="none"/>
<text transform="translate(537.55 332.2) scale(1.0 1)" font-size="14.8" text-anchor="middle" >Frequency (Hz)</text>
<text transform="translate(358.6 151) scale(1.0 1) rotate(-90)" font-size="14.5" text-anchor="middle">Q-factor</text>
<text transform="translate(393.2 24.3) scale(1.0 1)" font-size="14.3" text-anchor="start" >(b)</text>
<line x1="394.4" y1="243.5" x2="427.7" y2="243.5" stroke="#a5a5a5" stroke-width="1"/>
<rect x="408.99" y="241.44" width="4.13" height="4.13" fill="#424242"/>
<text transform="translate(431.3 248.3) scale(1.0 1)" font-size="14.4" text-anchor="start" >ZnO</text>
<line x1="394.4" y1="261.5" x2="427.7" y2="261.5" stroke="#f39a9e" stroke-width="1"/>
<circle cx="411.05" cy="261.5" r="2.35" fill="#e9363b"/>
<text transform="translate(431.3 266.3) scale(1.0 1)" font-size="14.4" text-anchor="start" >SnO</text>
<line x1="394.4" y1="280.5" x2="427.7" y2="280.5" stroke="#92b6ef" stroke-width="1"/>
<polygon points="411.05,277.24 413.93,282.13 408.17,282.13" fill="#1d6ee0"/>
<text transform="translate(431.3 285.3) scale(1.0 1)" font-size="14.4" text-anchor="start" >ZnSnO</text>
<g clip-path="url(#clip01)">
<polyline points="45.21,506.59 48.03,513.93 52.27,524.53 58.09,534.32 63.81,541.66 69.6,547.36 75.03,553.48 79.45,556.34 86.15,562.86 92.16,566.94 97.98,570.61 103.8,574.69 109.45,576.72 115.1,578.76 121,580.8 126.85,581.62 132.57,580.8 138.4,579.58 144.22,577.13 150.05,575.09 155.69,573.46 161.34,569.38 166.99,563.68 172.64,557.97 178.29,553.07 182.88,548.59 185.7,548.08 189.58,547.36 195.23,553.07 201.23,561.23 206.88,570.2 212.53,580.8 217.47,588.96 221,594.67 227,602.82 235.12,610.16 240.94,614.24 246.77,619.13 252.59,622.4 257.01,624.84 264.07,628.1 270.07,629.74 275.89,631.37 281.72,632 287.36,632.59 293.01,632.86 298.66,633.11 304.31,633.36 309.96,633.61 315.6,633.86 321.25,634.11 326.9,634.36 332.19,634.63 337.49,634.63" fill="none" stroke="#555555" stroke-width="0.7" />
<rect x="42.54" y="503.92" width="5.33" height="5.33" fill="#424242"/>
<rect x="45.36" y="511.26" width="5.33" height="5.33" fill="#424242"/>
<rect x="49.6" y="521.86" width="5.33" height="5.33" fill="#424242"/>
<rect x="55.42" y="531.65" width="5.33" height="5.33" fill="#424242"/>
<rect x="61.14" y="538.99" width="5.33" height="5.33" fill="#424242"/>
<rect x="66.93" y="544.7" width="5.33" height="5.33" fill="#424242"/>
<rect x="72.37" y="550.82" width="5.33" height="5.33" fill="#424242"/>
<rect x="76.78" y="553.67" width="5.33" height="5.33" fill="#424242"/>
<rect x="83.49" y="560.19" width="5.33" height="5.33" fill="#424242"/>
<rect x="89.49" y="564.27" width="5.33" height="5.33" fill="#424242"/>
<rect x="95.31" y="567.94" width="5.33" height="5.33" fill="#424242"/>
<rect x="101.14" y="572.02" width="5.33" height="5.33" fill="#424242"/>
<rect x="106.79" y="574.06" width="5.33" height="5.33" fill="#424242"/>
<rect x="112.43" y="576.1" width="5.33" height="5.33" fill="#424242"/>
<rect x="118.33" y="578.14" width="5.33" height="5.33" fill="#424242"/>
<rect x="124.19" y="578.95" width="5.33" height="5.33" fill="#424242"/>
<rect x="129.91" y="578.14" width="5.33" height="5.33" fill="#424242"/>
<rect x="135.73" y="576.91" width="5.33" height="5.33" fill="#424242"/>
<rect x="141.56" y="574.47" width="5.33" height="5.33" fill="#424242"/>
<rect x="147.38" y="572.43" width="5.33" height="5.33" fill="#424242"/>
<rect x="153.03" y="570.8" width="5.33" height="5.33" fill="#424242"/>
<rect x="158.68" y="566.72" width="5.33" height="5.33" fill="#424242"/>
<rect x="164.32" y="561.01" width="5.33" height="5.33" fill="#424242"/>
<rect x="169.97" y="555.3" width="5.33" height="5.33" fill="#424242"/>
<rect x="175.62" y="550.41" width="5.33" height="5.33" fill="#424242"/>
<rect x="180.21" y="545.92" width="5.33" height="5.33" fill="#424242"/>
<rect x="183.03" y="545.42" width="5.33" height="5.33" fill="#424242"/>
<rect x="186.92" y="544.7" width="5.33" height="5.33" fill="#424242"/>
<rect x="192.56" y="550.41" width="5.33" height="5.33" fill="#424242"/>
<rect x="198.57" y="558.56" width="5.33" height="5.33" fill="#424242"/>
<rect x="204.21" y="567.53" width="5.33" height="5.33" fill="#424242"/>
<rect x="209.86" y="578.14" width="5.33" height="5.33" fill="#424242"/>
<rect x="214.8" y="586.29" width="5.33" height="5.33" fill="#424242"/>
<rect x="218.33" y="592" width="5.33" height="5.33" fill="#424242"/>
<rect x="224.33" y="600.16" width="5.33" height="5.33" fill="#424242"/>
<rect x="232.45" y="607.5" width="5.33" height="5.33" fill="#424242"/>
<rect x="238.28" y="611.57" width="5.33" height="5.33" fill="#424242"/>
<rect x="244.1" y="616.47" width="5.33" height="5.33" fill="#424242"/>
<rect x="249.93" y="619.73" width="5.33" height="5.33" fill="#424242"/>
<rect x="254.34" y="622.18" width="5.33" height="5.33" fill="#424242"/>
<rect x="261.4" y="625.44" width="5.33" height="5.33" fill="#424242"/>
<rect x="267.4" y="627.07" width="5.33" height="5.33" fill="#424242"/>
<rect x="273.23" y="628.7" width="5.33" height="5.33" fill="#424242"/>
<rect x="279.05" y="629.34" width="5.33" height="5.33" fill="#424242"/>
<rect x="284.7" y="629.92" width="5.33" height="5.33" fill="#424242"/>
<rect x="290.35" y="630.19" width="5.33" height="5.33" fill="#424242"/>
<rect x="295.99" y="630.44" width="5.33" height="5.33" fill="#424242"/>
<rect x="301.64" y="630.69" width="5.33" height="5.33" fill="#424242"/>
<rect x="307.29" y="630.94" width="5.33" height="5.33" fill="#424242"/>
<rect x="312.94" y="631.19" width="5.33" height="5.33" fill="#424242"/>
<rect x="318.59" y="631.44" width="5.33" height="5.33" fill="#424242"/>
<rect x="324.23" y="631.69" width="5.33" height="5.33" fill="#424242"/>
<rect x="329.53" y="631.96" width="5.33" height="5.33" fill="#424242"/>
<rect x="334.82" y="631.96" width="5.33" height="5.33" fill="#424242"/>
<polyline points="48.03,587.33 52.27,584.06 58.09,582.43 63.81,580.8 69.6,579.99 75.03,579.17 79.45,578.36 86.15,576.72 92.16,575.09 97.98,573.46 103.8,571.83 109.45,569.38 115.1,566.53 121,562.86 126.85,560.01 132.57,556.34 138.4,551.44 144.22,546.55 150.05,541.66 155.69,538.39 161.34,533.5 166.99,527.79 172.64,522.08 178.29,519.64 182.88,519.64 185.7,523.71 189.58,526.16 195.23,543.29 201.23,556.34 206.88,568.98 212.53,582.43 217.47,593.44 221,597.93 227,609.35 235.12,615.06 240.94,619.95 246.77,623.21 252.59,626.07 257.01,627.53 264.07,629.41 270.07,630.55 275.89,631.77 281.72,632.41 287.36,633 293.01,633.21 298.66,633.41 304.31,633.61 309.96,633.81 315.6,634.01 321.25,634.21 326.9,634.41 332.19,634.63 337.49,634.63" fill="none" stroke="#ec4a4f" stroke-width="0.7" />
<circle cx="48.03" cy="587.33" r="3.04" fill="#e9363b"/>
<circle cx="52.27" cy="584.06" r="3.04" fill="#e9363b"/>
<circle cx="58.09" cy="582.43" r="3.04" fill="#e9363b"/>
<circle cx="63.81" cy="580.8" r="3.04" fill="#e9363b"/>
<circle cx="69.6" cy="579.99" r="3.04" fill="#e9363b"/>
<circle cx="75.03" cy="579.17" r="3.04" fill="#e9363b"/>
<circle cx="79.45" cy="578.36" r="3.04" fill="#e9363b"/>
<circle cx="86.15" cy="576.72" r="3.04" fill="#e9363b"/>
<circle cx="92.16" cy="575.09" r="3.04" fill="#e9363b"/>
<circle cx="97.98" cy="573.46" r="3.04" fill="#e9363b"/>
<circle cx="103.8" cy="571.83" r="3.04" fill="#e9363b"/>
<circle cx="109.45" cy="569.38" r="3.04" fill="#e9363b"/>
<circle cx="115.1" cy="566.53" r="3.04" fill="#e9363b"/>
<circle cx="121" cy="562.86" r="3.04" fill="#e9363b"/>
<circle cx="126.85" cy="560.01" r="3.04" fill="#e9363b"/>
<circle cx="132.57" cy="556.34" r="3.04" fill="#e9363b"/>
<circle cx="138.4" cy="551.44" r="3.04" fill="#e9363b"/>
<circle cx="144.22" cy="546.55" r="3.04" fill="#e9363b"/>
<circle cx="150.05" cy="541.66" r="3.04" fill="#e9363b"/>
<circle cx="155.69" cy="538.39" r="3.04" fill="#e9363b"/>
<circle cx="161.34" cy="533.5" r="3.04" fill="#e9363b"/>
<circle cx="166.99" cy="527.79" r="3.04" fill="#e9363b"/>
<circle cx="172.64" cy="522.08" r="3.04" fill="#e9363b"/>
<circle cx="178.29" cy="519.64" r="3.04" fill="#e9363b"/>
<circle cx="182.88" cy="519.64" r="3.04" fill="#e9363b"/>
<circle cx="185.7" cy="523.71" r="3.04" fill="#e9363b"/>
<circle cx="189.58" cy="526.16" r="3.04" fill="#e9363b"/>
<circle cx="195.23" cy="543.29" r="3.04" fill="#e9363b"/>
<circle cx="201.23" cy="556.34" r="3.04" fill="#e9363b"/>
<circle cx="206.88" cy="568.98" r="3.04" fill="#e9363b"/>
<circle cx="212.53" cy="582.43" r="3.04" fill="#e9363b"/>
<circle cx="217.47" cy="593.44" r="3.04" fill="#e9363b"/>
<circle cx="221" cy="597.93" r="3.04" fill="#e9363b"/>
<circle cx="227" cy="609.35" r="3.04" fill="#e9363b"/>
<circle cx="235.12" cy="615.06" r="3.04" fill="#e9363b"/>
<circle cx="240.94" cy="619.95" r="3.04" fill="#e9363b"/>
<circle cx="246.77" cy="623.21" r="3.04" fill="#e9363b"/>
<circle cx="252.59" cy="626.07" r="3.04" fill="#e9363b"/>
<circle cx="257.01" cy="627.53" r="3.04" fill="#e9363b"/>
<circle cx="264.07" cy="629.41" r="3.04" fill="#e9363b"/>
<circle cx="270.07" cy="630.55" r="3.04" fill="#e9363b"/>
<circle cx="275.89" cy="631.77" r="3.04" fill="#e9363b"/>
<circle cx="281.72" cy="632.41" r="3.04" fill="#e9363b"/>
<circle cx="287.36" cy="633" r="3.04" fill="#e9363b"/>
<circle cx="293.01" cy="633.21" r="3.04" fill="#e9363b"/>
<circle cx="298.66" cy="633.41" r="3.04" fill="#e9363b"/>
<circle cx="304.31" cy="633.61" r="3.04" fill="#e9363b"/>
<circle cx="309.96" cy="633.81" r="3.04" fill="#e9363b"/>
<circle cx="315.6" cy="634.01" r="3.04" fill="#e9363b"/>
<circle cx="321.25" cy="634.21" r="3.04" fill="#e9363b"/>
<circle cx="326.9" cy="634.41" r="3.04" fill="#e9363b"/>
<circle cx="332.19" cy="634.63" r="3.04" fill="#e9363b"/>
<circle cx="337.49" cy="634.63" r="3.04" fill="#e9363b"/>
<polyline points="48.03,571.42 52.27,566.12 58.09,557.15 63.81,545.73 69.6,549 75.03,532.68 79.45,520.45 86.15,518.82 92.16,524.53 97.98,516.37 103.8,509.85 109.45,497.62 115.1,492.72 121,487.01 126.85,478.04 132.57,483.34 138.4,493.13 144.22,493.54 150.05,508.22 155.69,512.3 161.34,510.66 166.99,512.3 172.64,504.14 178.29,477.23 182.88,472.33 185.7,467.44 189.58,473.15 195.23,479.67 201.23,487.83 206.88,532.68 212.53,565.31 217.47,591 221,594.67 227,603.64 235.12,610.98 240.94,613.42 246.77,619.95 252.59,623.62 257.01,625.66 264.07,628.1 270.07,629.74 275.89,631.37 281.72,632 287.36,632.59 293.01,632.8 298.66,633 304.31,633.2 309.96,633.4 315.6,633.6 321.25,633.8 326.9,634 332.19,634.22 337.49,634.22" fill="none" stroke="#3b82e8" stroke-width="0.7" />
<polygon points="48.03,568.26 51.75,574.59 44.31,574.59" fill="#1d6ee0"/>
<polygon points="52.27,562.96 55.99,569.28 48.55,569.28" fill="#1d6ee0"/>
<polygon points="58.09,553.99 61.81,560.31 54.37,560.31" fill="#1d6ee0"/>
<polygon points="63.81,542.57 67.53,548.9 60.09,548.9" fill="#1d6ee0"/>
<polygon points="69.6,545.83 73.32,552.16 65.88,552.16" fill="#1d6ee0"/>
<polygon points="75.03,529.52 78.75,535.85 71.31,535.85" fill="#1d6ee0"/>
<polygon points="79.45,517.29 83.17,523.61 75.73,523.61" fill="#1d6ee0"/>
<polygon points="86.15,515.66 89.87,521.98 82.43,521.98" fill="#1d6ee0"/>
<polygon points="92.16,521.37 95.88,527.69 88.44,527.69" fill="#1d6ee0"/>
<polygon points="97.98,513.21 101.7,519.54 94.26,519.54" fill="#1d6ee0"/>
<polygon points="103.8,506.69 107.52,513.01 100.08,513.01" fill="#1d6ee0"/>
<polygon points="109.45,494.45 113.17,500.78 105.73,500.78" fill="#1d6ee0"/>
<polygon points="115.1,489.56 118.82,495.88 111.38,495.88" fill="#1d6ee0"/>
<polygon points="121,483.85 124.72,490.18 117.28,490.18" fill="#1d6ee0"/>
<polygon points="126.85,474.88 130.57,481.2 123.13,481.2" fill="#1d6ee0"/>
<polygon points="132.57,480.18 136.29,486.51 128.85,486.51" fill="#1d6ee0"/>
<polygon points="138.4,489.97 142.12,496.29 134.68,496.29" fill="#1d6ee0"/>
<polygon points="144.22,490.38 147.94,496.7 140.5,496.7" fill="#1d6ee0"/>
<polygon points="150.05,505.06 153.77,511.38 146.33,511.38" fill="#1d6ee0"/>
<polygon points="155.69,509.13 159.41,515.46 151.97,515.46" fill="#1d6ee0"/>
<polygon points="161.34,507.5 165.06,513.83 157.62,513.83" fill="#1d6ee0"/>
<polygon points="166.99,509.13 170.71,515.46 163.27,515.46" fill="#1d6ee0"/>
<polygon points="172.64,500.98 176.36,507.3 168.92,507.3" fill="#1d6ee0"/>
<polygon points="178.29,474.06 182.01,480.39 174.57,480.39" fill="#1d6ee0"/>
<polygon points="182.88,469.17 186.6,475.5 179.16,475.5" fill="#1d6ee0"/>
<polygon points="185.7,464.28 189.42,470.6 181.98,470.6" fill="#1d6ee0"/>
<polygon points="189.58,469.99 193.3,476.31 185.86,476.31" fill="#1d6ee0"/>
<polygon points="195.23,476.51 198.95,482.84 191.51,482.84" fill="#1d6ee0"/>
<polygon points="201.23,484.67 204.95,490.99 197.51,490.99" fill="#1d6ee0"/>
<polygon points="206.88,529.52 210.6,535.85 203.16,535.85" fill="#1d6ee0"/>
<polygon points="212.53,562.14 216.25,568.47 208.81,568.47" fill="#1d6ee0"/>
<polygon points="217.47,587.83 221.19,594.16 213.75,594.16" fill="#1d6ee0"/>
<polygon points="221,591.5 224.72,597.83 217.28,597.83" fill="#1d6ee0"/>
<polygon points="227,600.48 230.72,606.8 223.28,606.8" fill="#1d6ee0"/>
<polygon points="235.12,607.82 238.84,614.14 231.4,614.14" fill="#1d6ee0"/>
<polygon points="240.94,610.26 244.66,616.59 237.22,616.59" fill="#1d6ee0"/>
<polygon points="246.77,616.79 250.49,623.11 243.05,623.11" fill="#1d6ee0"/>
<polygon points="252.59,620.46 256.31,626.78 248.87,626.78" fill="#1d6ee0"/>
<polygon points="257.01,622.5 260.73,628.82 253.29,628.82" fill="#1d6ee0"/>
<polygon points="264.07,624.94 267.79,631.27 260.35,631.27" fill="#1d6ee0"/>
<polygon points="270.07,626.57 273.79,632.9 266.35,632.9" fill="#1d6ee0"/>
<polygon points="275.89,628.2 279.61,634.53 272.17,634.53" fill="#1d6ee0"/>
<polygon points="281.72,628.84 285.44,635.16 278,635.16" fill="#1d6ee0"/>
<polygon points="287.36,629.43 291.08,635.75 283.64,635.75" fill="#1d6ee0"/>
<polygon points="293.01,629.64 296.73,635.97 289.29,635.97" fill="#1d6ee0"/>
<polygon points="298.66,629.84 302.38,636.17 294.94,636.17" fill="#1d6ee0"/>
<polygon points="304.31,630.04 308.03,636.37 300.59,636.37" fill="#1d6ee0"/>
<polygon points="309.96,630.24 313.68,636.57 306.24,636.57" fill="#1d6ee0"/>
<polygon points="315.6,630.44 319.32,636.77 311.88,636.77" fill="#1d6ee0"/>
<polygon points="321.25,630.64 324.97,636.97 317.53,636.97" fill="#1d6ee0"/>
<polygon points="326.9,630.84 330.62,637.17 323.18,637.17" fill="#1d6ee0"/>
<polygon points="332.19,631.06 335.92,637.38 328.47,637.38" fill="#1d6ee0"/>
<polygon points="337.49,631.06 341.21,637.38 333.77,637.38" fill="#1d6ee0"/>
<polyline points="46.62,578.36 48.03,577.05 52.27,573.05 58.09,569.38 63.81,566.12 69.6,564.08 75.03,562.45 79.45,560.41 86.15,560.01 92.16,559.6 97.98,558.37 103.8,557.56 109.45,556.34 115.1,555.11 121,553.89 126.85,552.26 132.57,550.22 138.4,548.18 144.22,546.55 150.05,545.33 155.69,544.92 161.34,544.1 166.99,544.1 172.64,544.92 178.29,545.73 182.88,547.36 185.7,549.3 189.58,552.26 195.23,561.23 201.23,566.53 206.88,573.05 212.53,580.39 217.47,587.33 221,591.4 227,602.01 235.12,607.72 240.94,612.2 246.77,616.69 252.59,619.95 257.01,623.21 264.07,626.47 270.07,627.7 275.89,628.92 281.72,629.74 287.36,630.96 293.01,631.52 298.66,632.06 304.31,632.34 309.96,632.55 315.6,632.76 321.25,632.97 326.9,633.18 332.19,633.41 337.49,633.41" fill="none" stroke="#3db670" stroke-width="0.7" />
<polygon points="46.62,581.52 50.34,575.19 42.9,575.19" fill="#2ead63"/>
<polygon points="48.03,580.21 51.75,573.89 44.31,573.89" fill="#2ead63"/>
<polygon points="52.27,576.22 55.99,569.89 48.55,569.89" fill="#2ead63"/>
<polygon points="58.09,572.55 61.81,566.22 54.37,566.22" fill="#2ead63"/>
<polygon points="63.81,569.28 67.53,562.96 60.09,562.96" fill="#2ead63"/>
<polygon points="69.6,567.25 73.32,560.92 65.88,560.92" fill="#2ead63"/>
<polygon points="75.03,565.61 78.75,559.29 71.31,559.29" fill="#2ead63"/>
<polygon points="79.45,563.58 83.17,557.25 75.73,557.25" fill="#2ead63"/>
<polygon points="86.15,563.17 89.87,556.84 82.43,556.84" fill="#2ead63"/>
<polygon points="92.16,562.76 95.88,556.44 88.44,556.44" fill="#2ead63"/>
<polygon points="97.98,561.54 101.7,555.21 94.26,555.21" fill="#2ead63"/>
<polygon points="103.8,560.72 107.52,554.4 100.08,554.4" fill="#2ead63"/>
<polygon points="109.45,559.5 113.17,553.17 105.73,553.17" fill="#2ead63"/>
<polygon points="115.1,558.27 118.82,551.95 111.38,551.95" fill="#2ead63"/>
<polygon points="121,557.05 124.72,550.73 117.28,550.73" fill="#2ead63"/>
<polygon points="126.85,555.42 130.57,549.1 123.13,549.1" fill="#2ead63"/>
<polygon points="132.57,553.38 136.29,547.06 128.85,547.06" fill="#2ead63"/>
<polygon points="138.4,551.34 142.12,545.02 134.68,545.02" fill="#2ead63"/>
<polygon points="144.22,549.71 147.94,543.39 140.5,543.39" fill="#2ead63"/>
<polygon points="150.05,548.49 153.77,542.16 146.33,542.16" fill="#2ead63"/>
<polygon points="155.69,548.08 159.41,541.76 151.97,541.76" fill="#2ead63"/>
<polygon points="161.34,547.26 165.06,540.94 157.62,540.94" fill="#2ead63"/>
<polygon points="166.99,547.26 170.71,540.94 163.27,540.94" fill="#2ead63"/>
<polygon points="172.64,548.08 176.36,541.76 168.92,541.76" fill="#2ead63"/>
<polygon points="178.29,548.9 182.01,542.57 174.57,542.57" fill="#2ead63"/>
<polygon points="182.88,550.53 186.6,544.2 179.16,544.2" fill="#2ead63"/>
<polygon points="185.7,552.46 189.42,546.13 181.98,546.13" fill="#2ead63"/>
<polygon points="189.58,555.42 193.3,549.1 185.86,549.1" fill="#2ead63"/>
<polygon points="195.23,564.39 198.95,558.07 191.51,558.07" fill="#2ead63"/>
<polygon points="201.23,569.69 204.95,563.37 197.51,563.37" fill="#2ead63"/>
<polygon points="206.88,576.22 210.6,569.89 203.16,569.89" fill="#2ead63"/>
<polygon points="212.53,583.56 216.25,577.23 208.81,577.23" fill="#2ead63"/>
<polygon points="217.47,590.49 221.19,584.16 213.75,584.16" fill="#2ead63"/>
<polygon points="221,594.57 224.72,588.24 217.28,588.24" fill="#2ead63"/>
<polygon points="227,605.17 230.72,598.84 223.28,598.84" fill="#2ead63"/>
<polygon points="235.12,610.88 238.84,604.55 231.4,604.55" fill="#2ead63"/>
<polygon points="240.94,615.36 244.66,609.04 237.22,609.04" fill="#2ead63"/>
<polygon points="246.77,619.85 250.49,613.52 243.05,613.52" fill="#2ead63"/>
<polygon points="252.59,623.11 256.31,616.79 248.87,616.79" fill="#2ead63"/>
<polygon points="257.01,626.37 260.73,620.05 253.29,620.05" fill="#2ead63"/>
<polygon points="264.07,629.64 267.79,623.31 260.35,623.31" fill="#2ead63"/>
<polygon points="270.07,630.86 273.79,624.53 266.35,624.53" fill="#2ead63"/>
<polygon points="275.89,632.08 279.61,625.76 272.17,625.76" fill="#2ead63"/>
<polygon points="281.72,632.9 285.44,626.57 278,626.57" fill="#2ead63"/>
<polygon points="287.36,634.12 291.08,627.8 283.64,627.8" fill="#2ead63"/>
<polygon points="293.01,634.68 296.73,628.36 289.29,628.36" fill="#2ead63"/>
<polygon points="298.66,635.22 302.38,628.89 294.94,628.89" fill="#2ead63"/>
<polygon points="304.31,635.5 308.03,629.18 300.59,629.18" fill="#2ead63"/>
<polygon points="309.96,635.71 313.68,629.39 306.24,629.39" fill="#2ead63"/>
<polygon points="315.6,635.92 319.32,629.6 311.88,629.6" fill="#2ead63"/>
<polygon points="321.25,636.13 324.97,629.81 317.53,629.81" fill="#2ead63"/>
<polygon points="326.9,636.34 330.62,630.02 323.18,630.02" fill="#2ead63"/>
<polygon points="332.19,636.57 335.92,630.24 328.47,630.24" fill="#2ead63"/>
<polygon points="337.49,636.57 341.21,630.24 333.77,630.24" fill="#2ead63"/>
<polyline points="48.03,461.73 52.27,467.44 58.09,473.15 63.81,478.04 69.6,482.12 75.03,485.38 79.45,488.64 86.15,492.72 92.16,495.98 97.98,500.06 103.8,504.14 109.45,507.4 115.1,512.3 121,517.19 126.85,522.9 132.57,529.83 138.4,537.58 144.22,545.73 150.05,550.63 155.69,554.7 161.34,561.23 166.99,569.38 172.64,576.72 178.29,584.06 182.88,591.4 185.7,596.3 189.58,598.74 195.23,607.72 201.23,612.61 206.88,616.69 212.53,619.95 217.47,623.21 221,624.43 227,627.29 235.12,628.92 240.94,630.22 246.77,631.37 252.59,632.18 257.01,632.75 264.07,633.57 270.07,633.81 275.89,634.3 281.72,634.63 287.36,634.87 293.01,634.89 298.66,634.91 304.31,634.93 309.96,634.95 315.6,634.97 321.25,634.99 326.9,635.01 332.19,635.04 337.49,635.04" fill="none" stroke="#b084e8" stroke-width="0.7" />
<polygon points="48.03,458.01 51.75,461.73 48.03,465.45 44.31,461.73" fill="#a66fe1"/>
<polygon points="52.27,463.72 55.99,467.44 52.27,471.16 48.55,467.44" fill="#a66fe1"/>
<polygon points="58.09,469.43 61.81,473.15 58.09,476.87 54.37,473.15" fill="#a66fe1"/>
<polygon points="63.81,474.32 67.53,478.04 63.81,481.76 60.09,478.04" fill="#a66fe1"/>
<polygon points="69.6,478.4 73.32,482.12 69.6,485.84 65.88,482.12" fill="#a66fe1"/>
<polygon points="75.03,481.66 78.75,485.38 75.03,489.1 71.31,485.38" fill="#a66fe1"/>
<polygon points="79.45,484.92 83.17,488.64 79.45,492.36 75.73,488.64" fill="#a66fe1"/>
<polygon points="86.15,489 89.87,492.72 86.15,496.44 82.43,492.72" fill="#a66fe1"/>
<polygon points="92.16,492.26 95.88,495.98 92.16,499.7 88.44,495.98" fill="#a66fe1"/>
<polygon points="97.98,496.34 101.7,500.06 97.98,503.78 94.26,500.06" fill="#a66fe1"/>
<polygon points="103.8,500.42 107.52,504.14 103.8,507.86 100.08,504.14" fill="#a66fe1"/>
<polygon points="109.45,503.68 113.17,507.4 109.45,511.12 105.73,507.4" fill="#a66fe1"/>
<polygon points="115.1,508.58 118.82,512.3 115.1,516.02 111.38,512.3" fill="#a66fe1"/>
<polygon points="121,513.47 124.72,517.19 121,520.91 117.28,517.19" fill="#a66fe1"/>
<polygon points="126.85,519.18 130.57,522.9 126.85,526.62 123.13,522.9" fill="#a66fe1"/>
<polygon points="132.57,526.11 136.29,529.83 132.57,533.55 128.85,529.83" fill="#a66fe1"/>
<polygon points="138.4,533.86 142.12,537.58 138.4,541.3 134.68,537.58" fill="#a66fe1"/>
<polygon points="144.22,542.01 147.94,545.73 144.22,549.45 140.5,545.73" fill="#a66fe1"/>
<polygon points="150.05,546.91 153.77,550.63 150.05,554.35 146.33,550.63" fill="#a66fe1"/>
<polygon points="155.69,550.98 159.41,554.7 155.69,558.42 151.97,554.7" fill="#a66fe1"/>
<polygon points="161.34,557.51 165.06,561.23 161.34,564.95 157.62,561.23" fill="#a66fe1"/>
<polygon points="166.99,565.66 170.71,569.38 166.99,573.1 163.27,569.38" fill="#a66fe1"/>
<polygon points="172.64,573 176.36,576.72 172.64,580.44 168.92,576.72" fill="#a66fe1"/>
<polygon points="178.29,580.34 182.01,584.06 178.29,587.78 174.57,584.06" fill="#a66fe1"/>
<polygon points="182.88,587.68 186.6,591.4 182.88,595.12 179.16,591.4" fill="#a66fe1"/>
<polygon points="185.7,592.58 189.42,596.3 185.7,600.02 181.98,596.3" fill="#a66fe1"/>
<polygon points="189.58,595.02 193.3,598.74 189.58,602.46 185.86,598.74" fill="#a66fe1"/>
<polygon points="195.23,604 198.95,607.72 195.23,611.44 191.51,607.72" fill="#a66fe1"/>
<polygon points="201.23,608.89 204.95,612.61 201.23,616.33 197.51,612.61" fill="#a66fe1"/>
<polygon points="206.88,612.97 210.6,616.69 206.88,620.41 203.16,616.69" fill="#a66fe1"/>
<polygon points="212.53,616.23 216.25,619.95 212.53,623.67 208.81,619.95" fill="#a66fe1"/>
<polygon points="217.47,619.49 221.19,623.21 217.47,626.93 213.75,623.21" fill="#a66fe1"/>
<polygon points="221,620.71 224.72,624.43 221,628.15 217.28,624.43" fill="#a66fe1"/>
<polygon points="227,623.57 230.72,627.29 227,631.01 223.28,627.29" fill="#a66fe1"/>
<polygon points="235.12,625.2 238.84,628.92 235.12,632.64 231.4,628.92" fill="#a66fe1"/>
<polygon points="240.94,626.5 244.66,630.22 240.94,633.94 237.22,630.22" fill="#a66fe1"/>
<polygon points="246.77,627.65 250.49,631.37 246.77,635.09 243.05,631.37" fill="#a66fe1"/>
<polygon points="252.59,628.46 256.31,632.18 252.59,635.9 248.87,632.18" fill="#a66fe1"/>
<polygon points="257.01,629.03 260.73,632.75 257.01,636.47 253.29,632.75" fill="#a66fe1"/>
<polygon points="264.07,629.85 267.79,633.57 264.07,637.29 260.35,633.57" fill="#a66fe1"/>
<polygon points="270.07,630.09 273.79,633.81 270.07,637.53 266.35,633.81" fill="#a66fe1"/>
<polygon points="275.89,630.58 279.61,634.3 275.89,638.02 272.17,634.3" fill="#a66fe1"/>
<polygon points="281.72,630.91 285.44,634.63 281.72,638.35 278,634.63" fill="#a66fe1"/>
<polygon points="287.36,631.15 291.08,634.87 287.36,638.59 283.64,634.87" fill="#a66fe1"/>
<polygon points="293.01,631.17 296.73,634.89 293.01,638.61 289.29,634.89" fill="#a66fe1"/>
<polygon points="298.66,631.19 302.38,634.91 298.66,638.63 294.94,634.91" fill="#a66fe1"/>
<polygon points="304.31,631.21 308.03,634.93 304.31,638.65 300.59,634.93" fill="#a66fe1"/>
<polygon points="309.96,631.23 313.68,634.95 309.96,638.67 306.24,634.95" fill="#a66fe1"/>
<polygon points="315.6,631.25 319.32,634.97 315.6,638.69 311.88,634.97" fill="#a66fe1"/>
<polygon points="321.25,631.27 324.97,634.99 321.25,638.71 317.53,634.99" fill="#a66fe1"/>
<polygon points="326.9,631.29 330.62,635.01 326.9,638.73 323.18,635.01" fill="#a66fe1"/>
<polygon points="332.19,631.32 335.92,635.04 332.19,638.76 328.47,635.04" fill="#a66fe1"/>
<polygon points="337.49,631.32 341.21,635.04 337.49,638.76 333.77,635.04" fill="#a66fe1"/>
</g>
<rect x="44.5" y="350" width="293.5" height="293.6" fill="none" stroke="#000" stroke-width="2"/>
<text transform="translate(35.2 638.94) scale(1.0 1)" font-size="11.2" text-anchor="end" >0</text>
<text transform="translate(35.2 598.17) scale(1.0 1)" font-size="11.2" text-anchor="end" >5</text>
<text transform="translate(35.2 557.39) scale(1.0 1)" font-size="11.2" text-anchor="end" >10</text>
<text transform="translate(35.2 516.61) scale(1.0 1)" font-size="11.2" text-anchor="end" >15</text>
<text transform="translate(35.2 475.83) scale(1.0 1)" font-size="11.2" text-anchor="end" >20</text>
<text transform="translate(35.2 435.06) scale(1.0 1)" font-size="11.2" text-anchor="end" >25</text>
<text transform="translate(35.2 394.28) scale(1.0 1)" font-size="11.2" text-anchor="end" >30</text>
<text transform="translate(35.2 353.5) scale(1.0 1)" font-size="11.2" text-anchor="end" >35</text>
<text transform="translate(44.6 663.6) scale(1.0 1)" font-size="11.2" text-anchor="middle">10<tspan font-size="7.2" dy="-4.2">&#8722;1</tspan></text>
<text transform="translate(79.9 663.6) scale(1.0 1)" font-size="11.2" text-anchor="middle">10<tspan font-size="7.2" dy="-4.2">0</tspan></text>
<text transform="translate(115.2 663.6) scale(1.0 1)" font-size="11.2" text-anchor="middle">10<tspan font-size="7.2" dy="-4.2">1</tspan></text>
<text transform="translate(150.5 663.6) scale(1.0 1)" font-size="11.2" text-anchor="middle">10<tspan font-size="7.2" dy="-4.2">2</tspan></text>
<text transform="translate(185.8 663.6) scale(1.0 1)" font-size="11.2" text-anchor="middle">10<tspan font-size="7.2" dy="-4.2">3</tspan></text>
<text transform="translate(221.1 663.6) scale(1.0 1)" font-size="11.2" text-anchor="middle">10<tspan font-size="7.2" dy="-4.2">4</tspan></text>
<text transform="translate(256.4 663.6) scale(1.0 1)" font-size="11.2" text-anchor="middle">10<tspan font-size="7.2" dy="-4.2">5</tspan></text>
<text transform="translate(291.7 663.6) scale(1.0 1)" font-size="11.2" text-anchor="middle">10<tspan font-size="7.2" dy="-4.2">6</tspan></text>
<text transform="translate(327 663.6) scale(1.0 1)" font-size="11.2" text-anchor="middle">10<tspan font-size="7.2" dy="-4.2">7</tspan></text>
<path d="M41.3 643.6H44.5M38.9 635.44H44.5M41.3 627.29H44.5M41.3 619.13H44.5M41.3 610.98H44.5M41.3 602.82H44.5M38.9 594.67H44.5M41.3 586.51H44.5M41.3 578.36H44.5M41.3 570.2H44.5M41.3 562.04H44.5M38.9 553.89H44.5M41.3 545.73H44.5M41.3 537.58H44.5M41.3 529.42H44.5M41.3 521.27H44.5M38.9 513.11H44.5M41.3 504.96H44.5M41.3 496.8H44.5M41.3 488.64H44.5M41.3 480.49H44.5M38.9 472.33H44.5M41.3 464.18H44.5M41.3 456.02H44.5M41.3 447.87H44.5M41.3 439.71H44.5M38.9 431.56H44.5M41.3 423.4H44.5M41.3 415.24H44.5M41.3 407.09H44.5M41.3 398.93H44.5M38.9 390.78H44.5M41.3 382.62H44.5M41.3 374.47H44.5M41.3 366.31H44.5M41.3 358.16H44.5M38.9 350H44.5M44.5 643.6V649.4M55.13 643.6V646.9M61.34 643.6V646.9M65.75 643.6V646.9M69.17 643.6V646.9M71.97 643.6V646.9M74.33 643.6V646.9M76.38 643.6V646.9M78.18 643.6V646.9M79.8 643.6V649.4M90.43 643.6V646.9M96.64 643.6V646.9M101.05 643.6V646.9M104.47 643.6V646.9M107.27 643.6V646.9M109.63 643.6V646.9M111.68 643.6V646.9M113.48 643.6V646.9M115.1 643.6V649.4M125.73 643.6V646.9M131.94 643.6V646.9M136.35 643.6V646.9M139.77 643.6V646.9M142.57 643.6V646.9M144.93 643.6V646.9M146.98 643.6V646.9M148.78 643.6V646.9M150.4 643.6V649.4M161.03 643.6V646.9M167.24 643.6V646.9M171.65 643.6V646.9M175.07 643.6V646.9M177.87 643.6V646.9M180.23 643.6V646.9M182.28 643.6V646.9M184.08 643.6V646.9M185.7 643.6V649.4M196.33 643.6V646.9M202.54 643.6V646.9M206.95 643.6V646.9M210.37 643.6V646.9M213.17 643.6V646.9M215.53 643.6V646.9M217.58 643.6V646.9M219.38 643.6V646.9M221 643.6V649.4M231.63 643.6V646.9M237.84 643.6V646.9M242.25 643.6V646.9M245.67 643.6V646.9M248.47 643.6V646.9M250.83 643.6V646.9M252.88 643.6V646.9M254.68 643.6V646.9M256.3 643.6V649.4M266.93 643.6V646.9M273.14 643.6V646.9M277.55 643.6V646.9M280.97 643.6V646.9M283.77 643.6V646.9M286.13 643.6V646.9M288.18 643.6V646.9M289.98 643.6V646.9M291.6 643.6V649.4M302.23 643.6V646.9M308.44 643.6V646.9M312.85 643.6V646.9M316.27 643.6V646.9M319.07 643.6V646.9M321.43 643.6V646.9M323.48 643.6V646.9M325.28 643.6V646.9M326.9 643.6V649.4M337.53 643.6V646.9" stroke="#000" stroke-width="1.6" fill="none"/>
<text transform="translate(192.05 678.2) scale(1.0 1)" font-size="14.8" text-anchor="middle" >Frequency (Hz)</text>
<text transform="translate(13 497.1) scale(1.0 1) rotate(-90)" font-size="17.2" text-anchor="middle">tan&#948;</text>
<text transform="translate(47.7 369.8) scale(1.0 1)" font-size="14.3" text-anchor="start" >(c) Co</text>
<line x1="250.9" y1="363.8" x2="285.3" y2="363.8" stroke="#a5a5a5" stroke-width="1"/>
<rect x="265.35" y="361.05" width="5.5" height="5.5" fill="#424242"/>
<text transform="translate(288.9 368.6) scale(1.0 1)" font-size="14.4" text-anchor="start" >x = 0.1</text>
<line x1="250.9" y1="382.6" x2="285.3" y2="382.6" stroke="#f39a9e" stroke-width="1"/>
<circle cx="268.1" cy="382.6" r="3.14" fill="#e9363b"/>
<text transform="translate(288.9 387.4) scale(1.0 1)" font-size="14.4" text-anchor="start" >x = 0.2</text>
<line x1="250.9" y1="401.5" x2="285.3" y2="401.5" stroke="#92b6ef" stroke-width="1"/>
<polygon points="268.1,397.15 271.94,403.68 264.26,403.68" fill="#1d6ee0"/>
<text transform="translate(288.9 406.3) scale(1.0 1)" font-size="14.4" text-anchor="start" >x = 0.3</text>
<line x1="250.9" y1="420.5" x2="285.3" y2="420.5" stroke="#8ed1a5" stroke-width="1"/>
<polygon points="268.1,424.85 271.94,418.32 264.26,418.32" fill="#2ead63"/>
<text transform="translate(288.9 425.3) scale(1.0 1)" font-size="14.4" text-anchor="start" >x = 0.4</text>
<line x1="250.9" y1="439.4" x2="285.3" y2="439.4" stroke="#cbaaf0" stroke-width="1"/>
<polygon points="268.1,435.56 271.94,439.4 268.1,443.24 264.26,439.4" fill="#a66fe1"/>
<text transform="translate(288.9 444.2) scale(1.0 1)" font-size="14.4" text-anchor="start" >x = 0.5</text>
<g clip-path="url(#clip11)">
<polyline points="393.16,642.58 396.95,642.53 402.15,642.46 407.27,642.4 412.45,642.33 417.31,642.26 421.25,642.21 427.25,642.14 432.62,642.07 437.83,642 443.04,641.93 448.09,641.86 453.14,641.8 458.41,641.73 463.65,641.66 468.77,641.59 473.98,641.53 479.19,641.46 484.39,641.39 489.45,641.32 494.5,641.26 499.55,641.19 504.6,641.13 509.65,641.06 513.75,641.01 516.28,640.97 519.75,640.93 524.8,640.86 530.17,640.79 535.22,640.73 540.27,640.66 544.69,639.75 547.85,639.13 553.22,638.08 560.48,636.75 565.69,635.64 570.9,634.79 576.11,633.46 579.26,632.83 585.58,630.88 590.79,629.9 595.99,625.98 600.89,622.07 605.94,617.18 610.83,611.3 616.2,603.96 621.25,595.65 626.46,585.86 631.51,563.35 636.56,558.46 642.24,538.88 646.82,485.06" fill="none" stroke="#555555" stroke-width="0.6" stroke-dasharray="4.2 2.2"/>
<rect x="390.92" y="640.34" width="4.47" height="4.47" fill="#424242"/>
<rect x="394.71" y="640.29" width="4.47" height="4.47" fill="#424242"/>
<rect x="399.92" y="640.23" width="4.47" height="4.47" fill="#424242"/>
<rect x="405.03" y="640.16" width="4.47" height="4.47" fill="#424242"/>
<rect x="410.21" y="640.09" width="4.47" height="4.47" fill="#424242"/>
<rect x="415.07" y="640.03" width="4.47" height="4.47" fill="#424242"/>
<rect x="419.02" y="639.98" width="4.47" height="4.47" fill="#424242"/>
<rect x="425.02" y="639.9" width="4.47" height="4.47" fill="#424242"/>
<rect x="430.38" y="639.83" width="4.47" height="4.47" fill="#424242"/>
<rect x="435.59" y="639.76" width="4.47" height="4.47" fill="#424242"/>
<rect x="440.8" y="639.69" width="4.47" height="4.47" fill="#424242"/>
<rect x="445.85" y="639.63" width="4.47" height="4.47" fill="#424242"/>
<rect x="450.9" y="639.56" width="4.47" height="4.47" fill="#424242"/>
<rect x="456.18" y="639.49" width="4.47" height="4.47" fill="#424242"/>
<rect x="461.42" y="639.42" width="4.47" height="4.47" fill="#424242"/>
<rect x="466.53" y="639.36" width="4.47" height="4.47" fill="#424242"/>
<rect x="471.74" y="639.29" width="4.47" height="4.47" fill="#424242"/>
<rect x="476.95" y="639.22" width="4.47" height="4.47" fill="#424242"/>
<rect x="482.16" y="639.15" width="4.47" height="4.47" fill="#424242"/>
<rect x="487.21" y="639.09" width="4.47" height="4.47" fill="#424242"/>
<rect x="492.26" y="639.02" width="4.47" height="4.47" fill="#424242"/>
<rect x="497.31" y="638.96" width="4.47" height="4.47" fill="#424242"/>
<rect x="502.36" y="638.89" width="4.47" height="4.47" fill="#424242"/>
<rect x="507.41" y="638.82" width="4.47" height="4.47" fill="#424242"/>
<rect x="511.52" y="638.77" width="4.47" height="4.47" fill="#424242"/>
<rect x="514.04" y="638.74" width="4.47" height="4.47" fill="#424242"/>
<rect x="517.52" y="638.69" width="4.47" height="4.47" fill="#424242"/>
<rect x="522.57" y="638.63" width="4.47" height="4.47" fill="#424242"/>
<rect x="527.93" y="638.56" width="4.47" height="4.47" fill="#424242"/>
<rect x="532.99" y="638.49" width="4.47" height="4.47" fill="#424242"/>
<rect x="538.04" y="638.43" width="4.47" height="4.47" fill="#424242"/>
<rect x="542.46" y="637.51" width="4.47" height="4.47" fill="#424242"/>
<rect x="545.61" y="636.89" width="4.47" height="4.47" fill="#424242"/>
<rect x="550.98" y="635.84" width="4.47" height="4.47" fill="#424242"/>
<rect x="558.24" y="634.51" width="4.47" height="4.47" fill="#424242"/>
<rect x="563.45" y="633.4" width="4.47" height="4.47" fill="#424242"/>
<rect x="568.66" y="632.56" width="4.47" height="4.47" fill="#424242"/>
<rect x="573.87" y="631.23" width="4.47" height="4.47" fill="#424242"/>
<rect x="577.03" y="630.6" width="4.47" height="4.47" fill="#424242"/>
<rect x="583.34" y="628.64" width="4.47" height="4.47" fill="#424242"/>
<rect x="588.55" y="627.66" width="4.47" height="4.47" fill="#424242"/>
<rect x="593.76" y="623.75" width="4.47" height="4.47" fill="#424242"/>
<rect x="598.65" y="619.83" width="4.47" height="4.47" fill="#424242"/>
<rect x="603.7" y="614.94" width="4.47" height="4.47" fill="#424242"/>
<rect x="608.6" y="609.07" width="4.47" height="4.47" fill="#424242"/>
<rect x="613.96" y="601.73" width="4.47" height="4.47" fill="#424242"/>
<rect x="619.01" y="593.41" width="4.47" height="4.47" fill="#424242"/>
<rect x="624.22" y="583.62" width="4.47" height="4.47" fill="#424242"/>
<rect x="629.27" y="561.11" width="4.47" height="4.47" fill="#424242"/>
<rect x="634.33" y="556.22" width="4.47" height="4.47" fill="#424242"/>
<rect x="640.01" y="536.65" width="4.47" height="4.47" fill="#424242"/>
<rect x="644.59" y="482.82" width="4.47" height="4.47" fill="#424242"/>
<polyline points="393.16,642.08 396.95,642.02 402.15,641.93 407.27,641.85 412.45,641.77 417.31,641.69 421.25,641.62 427.25,641.52 432.62,641.44 437.83,641.35 443.04,641.27 448.09,641.18 453.14,641.1 458.41,641.02 463.65,640.93 468.77,640.85 473.98,640.76 479.19,640.68 484.39,640.59 489.45,640.51 494.5,640.43 499.55,640.35 504.6,640.26 509.65,640.18 513.75,640.11 516.28,640.07 519.75,640.02 524.8,639.93 530.17,639.85 535.22,639.76 540.27,639.69 544.69,639.41 547.85,639.23 553.22,638.91 560.48,638.49 565.69,638.22 570.9,636.35 576.11,634.54 579.26,633.13 585.58,629.9 590.79,625.01 595.99,619.13 600.89,614.24 605.94,608.37 610.83,600.05 616.2,586.84 621.25,568.24 626.46,564.33 631.51,483.1 636.56,496.8 642.24,477.23 646.82,396.98" fill="none" stroke="#ec4a4f" stroke-width="0.6" stroke-dasharray="4.2 2.2"/>
<circle cx="393.16" cy="642.08" r="2.55" fill="#e9363b"/>
<circle cx="396.95" cy="642.02" r="2.55" fill="#e9363b"/>
<circle cx="402.15" cy="641.93" r="2.55" fill="#e9363b"/>
<circle cx="407.27" cy="641.85" r="2.55" fill="#e9363b"/>
<circle cx="412.45" cy="641.77" r="2.55" fill="#e9363b"/>
<circle cx="417.31" cy="641.69" r="2.55" fill="#e9363b"/>
<circle cx="421.25" cy="641.62" r="2.55" fill="#e9363b"/>
<circle cx="427.25" cy="641.52" r="2.55" fill="#e9363b"/>
<circle cx="432.62" cy="641.44" r="2.55" fill="#e9363b"/>
<circle cx="437.83" cy="641.35" r="2.55" fill="#e9363b"/>
<circle cx="443.04" cy="641.27" r="2.55" fill="#e9363b"/>
<circle cx="448.09" cy="641.18" r="2.55" fill="#e9363b"/>
<circle cx="453.14" cy="641.1" r="2.55" fill="#e9363b"/>
<circle cx="458.41" cy="641.02" r="2.55" fill="#e9363b"/>
<circle cx="463.65" cy="640.93" r="2.55" fill="#e9363b"/>
<circle cx="468.77" cy="640.85" r="2.55" fill="#e9363b"/>
<circle cx="473.98" cy="640.76" r="2.55" fill="#e9363b"/>
<circle cx="479.19" cy="640.68" r="2.55" fill="#e9363b"/>
<circle cx="484.39" cy="640.59" r="2.55" fill="#e9363b"/>
<circle cx="489.45" cy="640.51" r="2.55" fill="#e9363b"/>
<circle cx="494.5" cy="640.43" r="2.55" fill="#e9363b"/>
<circle cx="499.55" cy="640.35" r="2.55" fill="#e9363b"/>
<circle cx="504.6" cy="640.26" r="2.55" fill="#e9363b"/>
<circle cx="509.65" cy="640.18" r="2.55" fill="#e9363b"/>
<circle cx="513.75" cy="640.11" r="2.55" fill="#e9363b"/>
<circle cx="516.28" cy="640.07" r="2.55" fill="#e9363b"/>
<circle cx="519.75" cy="640.02" r="2.55" fill="#e9363b"/>
<circle cx="524.8" cy="639.93" r="2.55" fill="#e9363b"/>
<circle cx="530.17" cy="639.85" r="2.55" fill="#e9363b"/>
<circle cx="535.22" cy="639.76" r="2.55" fill="#e9363b"/>
<circle cx="540.27" cy="639.69" r="2.55" fill="#e9363b"/>
<circle cx="544.69" cy="639.41" r="2.55" fill="#e9363b"/>
<circle cx="547.85" cy="639.23" r="2.55" fill="#e9363b"/>
<circle cx="553.22" cy="638.91" r="2.55" fill="#e9363b"/>
<circle cx="560.48" cy="638.49" r="2.55" fill="#e9363b"/>
<circle cx="565.69" cy="638.22" r="2.55" fill="#e9363b"/>
<circle cx="570.9" cy="636.35" r="2.55" fill="#e9363b"/>
<circle cx="576.11" cy="634.54" r="2.55" fill="#e9363b"/>
<circle cx="579.26" cy="633.13" r="2.55" fill="#e9363b"/>
<circle cx="585.58" cy="629.9" r="2.55" fill="#e9363b"/>
<circle cx="590.79" cy="625.01" r="2.55" fill="#e9363b"/>
<circle cx="595.99" cy="619.13" r="2.55" fill="#e9363b"/>
<circle cx="600.89" cy="614.24" r="2.55" fill="#e9363b"/>
<circle cx="605.94" cy="608.37" r="2.55" fill="#e9363b"/>
<circle cx="610.83" cy="600.05" r="2.55" fill="#e9363b"/>
<circle cx="616.2" cy="586.84" r="2.55" fill="#e9363b"/>
<circle cx="621.25" cy="568.24" r="2.55" fill="#e9363b"/>
<circle cx="626.46" cy="564.33" r="2.55" fill="#e9363b"/>
<circle cx="631.51" cy="483.1" r="2.55" fill="#e9363b"/>
<circle cx="636.56" cy="496.8" r="2.55" fill="#e9363b"/>
<circle cx="642.24" cy="477.23" r="2.55" fill="#e9363b"/>
<circle cx="646.82" cy="396.98" r="2.55" fill="#e9363b"/>
<polyline points="393.16,641.61 396.95,641.57 402.15,641.52 407.27,641.47 412.45,641.42 417.31,641.38 421.25,641.34 427.25,641.28 432.62,641.23 437.83,641.17 443.04,641.12 448.09,641.07 453.14,641.02 458.41,640.97 463.65,640.92 468.77,640.87 473.98,640.82 479.19,640.77 484.39,640.72 489.45,640.67 494.5,640.62 499.55,640.57 504.6,640.52 509.65,640.47 513.75,640.43 516.28,640.41 519.75,640.37 524.8,640.32 530.17,640.27 535.22,640.22 540.27,640.17 544.69,639.87 547.85,639.66 553.22,639.31 560.48,638.84 565.69,638.5 570.9,638.22 576.11,636.76 579.26,636.06 585.58,630.88 590.79,625.98 595.99,620.6 600.89,615.71 605.94,613.26 610.83,610.33 616.2,606.41 621.25,601.52 626.46,601.03 631.51,583.9 636.56,554.54 642.24,554.05 646.82,531.05" fill="none" stroke="#3b82e8" stroke-width="0.6" stroke-dasharray="4.2 2.2"/>
<polygon points="393.16,638.96 396.28,644.26 390.04,644.26" fill="#1d6ee0"/>
<polygon points="396.95,638.92 400.07,644.23 393.83,644.23" fill="#1d6ee0"/>
<polygon points="402.15,638.87 405.27,644.18 399.03,644.18" fill="#1d6ee0"/>
<polygon points="407.27,638.82 410.39,644.13 404.15,644.13" fill="#1d6ee0"/>
<polygon points="412.45,638.77 415.57,644.07 409.33,644.07" fill="#1d6ee0"/>
<polygon points="417.31,638.72 420.43,644.03 414.19,644.03" fill="#1d6ee0"/>
<polygon points="421.25,638.68 424.37,643.99 418.13,643.99" fill="#1d6ee0"/>
<polygon points="427.25,638.63 430.37,643.93 424.13,643.93" fill="#1d6ee0"/>
<polygon points="432.62,638.57 435.74,643.88 429.5,643.88" fill="#1d6ee0"/>
<polygon points="437.83,638.52 440.95,643.83 434.71,643.83" fill="#1d6ee0"/>
<polygon points="443.04,638.47 446.16,643.78 439.92,643.78" fill="#1d6ee0"/>
<polygon points="448.09,638.42 451.21,643.73 444.97,643.73" fill="#1d6ee0"/>
<polygon points="453.14,638.37 456.26,643.68 450.02,643.68" fill="#1d6ee0"/>
<polygon points="458.41,638.32 461.53,643.63 455.29,643.63" fill="#1d6ee0"/>
<polygon points="463.65,638.27 466.77,643.57 460.53,643.57" fill="#1d6ee0"/>
<polygon points="468.77,638.22 471.89,643.52 465.65,643.52" fill="#1d6ee0"/>
<polygon points="473.98,638.17 477.1,643.47 470.86,643.47" fill="#1d6ee0"/>
<polygon points="479.19,638.12 482.31,643.42 476.07,643.42" fill="#1d6ee0"/>
<polygon points="484.39,638.07 487.51,643.37 481.27,643.37" fill="#1d6ee0"/>
<polygon points="489.45,638.02 492.57,643.32 486.33,643.32" fill="#1d6ee0"/>
<polygon points="494.5,637.97 497.62,643.27 491.38,643.27" fill="#1d6ee0"/>
<polygon points="499.55,637.92 502.67,643.22 496.43,643.22" fill="#1d6ee0"/>
<polygon points="504.6,637.87 507.72,643.17 501.48,643.17" fill="#1d6ee0"/>
<polygon points="509.65,637.82 512.77,643.12 506.53,643.12" fill="#1d6ee0"/>
<polygon points="513.75,637.78 516.87,643.08 510.63,643.08" fill="#1d6ee0"/>
<polygon points="516.28,637.75 519.4,643.06 513.16,643.06" fill="#1d6ee0"/>
<polygon points="519.75,637.72 522.87,643.02 516.63,643.02" fill="#1d6ee0"/>
<polygon points="524.8,637.67 527.92,642.98 521.68,642.98" fill="#1d6ee0"/>
<polygon points="530.17,637.62 533.29,642.92 527.05,642.92" fill="#1d6ee0"/>
<polygon points="535.22,637.57 538.34,642.87 532.1,642.87" fill="#1d6ee0"/>
<polygon points="540.27,637.52 543.39,642.83 537.15,642.83" fill="#1d6ee0"/>
<polygon points="544.69,637.22 547.81,642.52 541.57,642.52" fill="#1d6ee0"/>
<polygon points="547.85,637.01 550.97,642.31 544.73,642.31" fill="#1d6ee0"/>
<polygon points="553.22,636.66 556.34,641.96 550.1,641.96" fill="#1d6ee0"/>
<polygon points="560.48,636.19 563.6,641.49 557.36,641.49" fill="#1d6ee0"/>
<polygon points="565.69,635.85 568.81,641.15 562.57,641.15" fill="#1d6ee0"/>
<polygon points="570.9,635.57 574.02,640.87 567.78,640.87" fill="#1d6ee0"/>
<polygon points="576.11,634.1 579.23,639.41 572.99,639.41" fill="#1d6ee0"/>
<polygon points="579.26,633.41 582.38,638.72 576.14,638.72" fill="#1d6ee0"/>
<polygon points="585.58,628.23 588.7,633.53 582.46,633.53" fill="#1d6ee0"/>
<polygon points="590.79,623.33 593.91,628.64 587.67,628.64" fill="#1d6ee0"/>
<polygon points="595.99,617.95 599.11,623.25 592.87,623.25" fill="#1d6ee0"/>
<polygon points="600.89,613.06 604.01,618.36 597.77,618.36" fill="#1d6ee0"/>
<polygon points="605.94,610.61 609.06,615.91 602.82,615.91" fill="#1d6ee0"/>
<polygon points="610.83,607.67 613.95,612.98 607.71,612.98" fill="#1d6ee0"/>
<polygon points="616.2,603.76 619.32,609.06 613.08,609.06" fill="#1d6ee0"/>
<polygon points="621.25,598.87 624.37,604.17 618.13,604.17" fill="#1d6ee0"/>
<polygon points="626.46,598.38 629.58,603.68 623.34,603.68" fill="#1d6ee0"/>
<polygon points="631.51,581.25 634.63,586.55 628.39,586.55" fill="#1d6ee0"/>
<polygon points="636.56,551.89 639.68,557.19 633.44,557.19" fill="#1d6ee0"/>
<polygon points="642.24,551.4 645.36,556.7 639.12,556.7" fill="#1d6ee0"/>
<polygon points="646.82,528.4 649.94,533.71 643.7,533.71" fill="#1d6ee0"/>
<polyline points="393.16,642.59 396.95,642.55 402.15,642.5 407.27,642.45 412.45,642.4 417.31,642.35 421.25,642.32 427.25,642.26 432.62,642.2 437.83,642.15 443.04,642.1 448.09,642.05 453.14,642 458.41,641.95 463.65,641.9 468.77,641.85 473.98,641.8 479.19,641.75 484.39,641.7 489.45,641.65 494.5,641.6 499.55,641.55 504.6,641.5 509.65,641.45 513.75,641.41 516.28,641.39 519.75,641.35 524.8,641.3 530.17,641.25 535.22,641.2 540.27,641.15 544.69,640.84 547.85,640.62 553.22,640.26 560.48,639.77 565.69,639.41 570.9,639.06 576.11,638.71 579.26,638.51 585.58,636.06 590.79,634.3 595.99,631.86 600.89,628.43 605.94,624.03 610.83,620.11 616.2,612.28 621.25,604.45 626.46,598.09 631.51,576.07 636.56,579.99 642.24,565.31 646.82,531.05" fill="none" stroke="#3db670" stroke-width="0.6" stroke-dasharray="4.2 2.2"/>
<polygon points="393.16,645.24 396.28,639.94 390.04,639.94" fill="#2ead63"/>
<polygon points="396.95,645.21 400.07,639.9 393.83,639.9" fill="#2ead63"/>
<polygon points="402.15,645.15 405.27,639.85 399.03,639.85" fill="#2ead63"/>
<polygon points="407.27,645.1 410.39,639.8 404.15,639.8" fill="#2ead63"/>
<polygon points="412.45,645.05 415.57,639.75 409.33,639.75" fill="#2ead63"/>
<polygon points="417.31,645.01 420.43,639.7 414.19,639.7" fill="#2ead63"/>
<polygon points="421.25,644.97 424.37,639.66 418.13,639.66" fill="#2ead63"/>
<polygon points="427.25,644.91 430.37,639.6 424.13,639.6" fill="#2ead63"/>
<polygon points="432.62,644.86 435.74,639.55 429.5,639.55" fill="#2ead63"/>
<polygon points="437.83,644.81 440.95,639.5 434.71,639.5" fill="#2ead63"/>
<polygon points="443.04,644.75 446.16,639.45 439.92,639.45" fill="#2ead63"/>
<polygon points="448.09,644.7 451.21,639.4 444.97,639.4" fill="#2ead63"/>
<polygon points="453.14,644.66 456.26,639.35 450.02,639.35" fill="#2ead63"/>
<polygon points="458.41,644.6 461.53,639.3 455.29,639.3" fill="#2ead63"/>
<polygon points="463.65,644.55 466.77,639.25 460.53,639.25" fill="#2ead63"/>
<polygon points="468.77,644.5 471.89,639.2 465.65,639.2" fill="#2ead63"/>
<polygon points="473.98,644.45 477.1,639.15 470.86,639.15" fill="#2ead63"/>
<polygon points="479.19,644.4 482.31,639.1 476.07,639.1" fill="#2ead63"/>
<polygon points="484.39,644.35 487.51,639.05 481.27,639.05" fill="#2ead63"/>
<polygon points="489.45,644.3 492.57,639 486.33,639" fill="#2ead63"/>
<polygon points="494.5,644.25 497.62,638.95 491.38,638.95" fill="#2ead63"/>
<polygon points="499.55,644.2 502.67,638.9 496.43,638.9" fill="#2ead63"/>
<polygon points="504.6,644.15 507.72,638.85 501.48,638.85" fill="#2ead63"/>
<polygon points="509.65,644.1 512.77,638.8 506.53,638.8" fill="#2ead63"/>
<polygon points="513.75,644.06 516.87,638.76 510.63,638.76" fill="#2ead63"/>
<polygon points="516.28,644.04 519.4,638.73 513.16,638.73" fill="#2ead63"/>
<polygon points="519.75,644 522.87,638.7 516.63,638.7" fill="#2ead63"/>
<polygon points="524.8,643.95 527.92,638.65 521.68,638.65" fill="#2ead63"/>
<polygon points="530.17,643.9 533.29,638.6 527.05,638.6" fill="#2ead63"/>
<polygon points="535.22,643.85 538.34,638.55 532.1,638.55" fill="#2ead63"/>
<polygon points="540.27,643.81 543.39,638.5 537.15,638.5" fill="#2ead63"/>
<polygon points="544.69,643.49 547.81,638.18 541.57,638.18" fill="#2ead63"/>
<polygon points="547.85,643.27 550.97,637.97 544.73,637.97" fill="#2ead63"/>
<polygon points="553.22,642.91 556.34,637.61 550.1,637.61" fill="#2ead63"/>
<polygon points="560.48,642.42 563.6,637.11 557.36,637.11" fill="#2ead63"/>
<polygon points="565.69,642.06 568.81,636.76 562.57,636.76" fill="#2ead63"/>
<polygon points="570.9,641.71 574.02,636.41 567.78,636.41" fill="#2ead63"/>
<polygon points="576.11,641.36 579.23,636.06 572.99,636.06" fill="#2ead63"/>
<polygon points="579.26,641.16 582.38,635.86 576.14,635.86" fill="#2ead63"/>
<polygon points="585.58,638.72 588.7,633.41 582.46,633.41" fill="#2ead63"/>
<polygon points="590.79,636.95 593.91,631.65 587.67,631.65" fill="#2ead63"/>
<polygon points="595.99,634.51 599.11,629.2 592.87,629.2" fill="#2ead63"/>
<polygon points="600.89,631.08 604.01,625.78 597.77,625.78" fill="#2ead63"/>
<polygon points="605.94,626.68 609.06,621.37 602.82,621.37" fill="#2ead63"/>
<polygon points="610.83,622.76 613.95,617.46 607.71,617.46" fill="#2ead63"/>
<polygon points="616.2,614.93 619.32,609.63 613.08,609.63" fill="#2ead63"/>
<polygon points="621.25,607.11 624.37,601.8 618.13,601.8" fill="#2ead63"/>
<polygon points="626.46,600.74 629.58,595.44 623.34,595.44" fill="#2ead63"/>
<polygon points="631.51,578.72 634.63,573.42 628.39,573.42" fill="#2ead63"/>
<polygon points="636.56,582.64 639.68,577.33 633.44,577.33" fill="#2ead63"/>
<polygon points="642.24,567.96 645.36,562.65 639.12,562.65" fill="#2ead63"/>
<polygon points="646.82,533.71 649.94,528.4 643.7,528.4" fill="#2ead63"/>
<polyline points="393.16,642.11 396.95,642.09 402.15,642.07 407.27,642.04 412.45,642.01 417.31,641.98 421.25,641.96 427.25,641.93 432.62,641.9 437.83,641.87 443.04,641.84 448.09,641.82 453.14,641.79 458.41,641.76 463.65,641.73 468.77,641.7 473.98,641.68 479.19,641.64 484.39,641.54 489.45,641.41 494.5,641.29 499.55,641.16 504.6,641.04 509.65,640.92 513.75,640.86 516.28,640.86 519.75,640.66 524.8,640.14 530.17,639.69 535.22,639 540.27,637.83 544.69,636.61 547.85,635.87 553.22,634.01 560.48,631.37 565.69,629.41 570.9,626.96 576.11,623.05 579.26,620.11 585.58,614.24 590.79,608.37 595.99,601.03 600.89,594.18 605.94,586.84 610.83,579.01 616.2,569.22 621.25,558.46 626.46,557.48 631.51,520.29 636.56,536.44 642.24,532.03 646.82,495.82" fill="none" stroke="#b084e8" stroke-width="0.6" stroke-dasharray="4.2 2.2"/>
<polygon points="393.16,638.99 396.28,642.11 393.16,645.23 390.04,642.11" fill="#a66fe1"/>
<polygon points="396.95,638.97 400.07,642.09 396.95,645.21 393.83,642.09" fill="#a66fe1"/>
<polygon points="402.15,638.95 405.27,642.07 402.15,645.19 399.03,642.07" fill="#a66fe1"/>
<polygon points="407.27,638.92 410.39,642.04 407.27,645.16 404.15,642.04" fill="#a66fe1"/>
<polygon points="412.45,638.89 415.57,642.01 412.45,645.13 409.33,642.01" fill="#a66fe1"/>
<polygon points="417.31,638.86 420.43,641.98 417.31,645.1 414.19,641.98" fill="#a66fe1"/>
<polygon points="421.25,638.84 424.37,641.96 421.25,645.08 418.13,641.96" fill="#a66fe1"/>
<polygon points="427.25,638.81 430.37,641.93 427.25,645.05 424.13,641.93" fill="#a66fe1"/>
<polygon points="432.62,638.78 435.74,641.9 432.62,645.02 429.5,641.9" fill="#a66fe1"/>
<polygon points="437.83,638.75 440.95,641.87 437.83,644.99 434.71,641.87" fill="#a66fe1"/>
<polygon points="443.04,638.72 446.16,641.84 443.04,644.96 439.92,641.84" fill="#a66fe1"/>
<polygon points="448.09,638.7 451.21,641.82 448.09,644.94 444.97,641.82" fill="#a66fe1"/>
<polygon points="453.14,638.67 456.26,641.79 453.14,644.91 450.02,641.79" fill="#a66fe1"/>
<polygon points="458.41,638.64 461.53,641.76 458.41,644.88 455.29,641.76" fill="#a66fe1"/>
<polygon points="463.65,638.61 466.77,641.73 463.65,644.85 460.53,641.73" fill="#a66fe1"/>
<polygon points="468.77,638.58 471.89,641.7 468.77,644.82 465.65,641.7" fill="#a66fe1"/>
<polygon points="473.98,638.56 477.1,641.68 473.98,644.8 470.86,641.68" fill="#a66fe1"/>
<polygon points="479.19,638.52 482.31,641.64 479.19,644.76 476.07,641.64" fill="#a66fe1"/>
<polygon points="484.39,638.42 487.51,641.54 484.39,644.66 481.27,641.54" fill="#a66fe1"/>
<polygon points="489.45,638.29 492.57,641.41 489.45,644.53 486.33,641.41" fill="#a66fe1"/>
<polygon points="494.5,638.17 497.62,641.29 494.5,644.41 491.38,641.29" fill="#a66fe1"/>
<polygon points="499.55,638.04 502.67,641.16 499.55,644.28 496.43,641.16" fill="#a66fe1"/>
<polygon points="504.6,637.92 507.72,641.04 504.6,644.16 501.48,641.04" fill="#a66fe1"/>
<polygon points="509.65,637.8 512.77,640.92 509.65,644.04 506.53,640.92" fill="#a66fe1"/>
<polygon points="513.75,637.74 516.87,640.86 513.75,643.98 510.63,640.86" fill="#a66fe1"/>
<polygon points="516.28,637.74 519.4,640.86 516.28,643.98 513.16,640.86" fill="#a66fe1"/>
<polygon points="519.75,637.54 522.87,640.66 519.75,643.78 516.63,640.66" fill="#a66fe1"/>
<polygon points="524.8,637.02 527.92,640.14 524.8,643.26 521.68,640.14" fill="#a66fe1"/>
<polygon points="530.17,636.57 533.29,639.69 530.17,642.81 527.05,639.69" fill="#a66fe1"/>
<polygon points="535.22,635.88 538.34,639 535.22,642.12 532.1,639" fill="#a66fe1"/>
<polygon points="540.27,634.71 543.39,637.83 540.27,640.95 537.15,637.83" fill="#a66fe1"/>
<polygon points="544.69,633.49 547.81,636.61 544.69,639.73 541.57,636.61" fill="#a66fe1"/>
<polygon points="547.85,632.75 550.97,635.87 547.85,638.99 544.73,635.87" fill="#a66fe1"/>
<polygon points="553.22,630.89 556.34,634.01 553.22,637.13 550.1,634.01" fill="#a66fe1"/>
<polygon points="560.48,628.25 563.6,631.37 560.48,634.49 557.36,631.37" fill="#a66fe1"/>
<polygon points="565.69,626.29 568.81,629.41 565.69,632.53 562.57,629.41" fill="#a66fe1"/>
<polygon points="570.9,623.84 574.02,626.96 570.9,630.08 567.78,626.96" fill="#a66fe1"/>
<polygon points="576.11,619.93 579.23,623.05 576.11,626.17 572.99,623.05" fill="#a66fe1"/>
<polygon points="579.26,616.99 582.38,620.11 579.26,623.23 576.14,620.11" fill="#a66fe1"/>
<polygon points="585.58,611.12 588.7,614.24 585.58,617.36 582.46,614.24" fill="#a66fe1"/>
<polygon points="590.79,605.25 593.91,608.37 590.79,611.49 587.67,608.37" fill="#a66fe1"/>
<polygon points="595.99,597.91 599.11,601.03 595.99,604.15 592.87,601.03" fill="#a66fe1"/>
<polygon points="600.89,591.06 604.01,594.18 600.89,597.3 597.77,594.18" fill="#a66fe1"/>
<polygon points="605.94,583.72 609.06,586.84 605.94,589.96 602.82,586.84" fill="#a66fe1"/>
<polygon points="610.83,575.89 613.95,579.01 610.83,582.13 607.71,579.01" fill="#a66fe1"/>
<polygon points="616.2,566.1 619.32,569.22 616.2,572.34 613.08,569.22" fill="#a66fe1"/>
<polygon points="621.25,555.34 624.37,558.46 621.25,561.58 618.13,558.46" fill="#a66fe1"/>
<polygon points="626.46,554.36 629.58,557.48 626.46,560.6 623.34,557.48" fill="#a66fe1"/>
<polygon points="631.51,517.17 634.63,520.29 631.51,523.41 628.39,520.29" fill="#a66fe1"/>
<polygon points="636.56,533.32 639.68,536.44 636.56,539.56 633.44,536.44" fill="#a66fe1"/>
<polygon points="642.24,528.91 645.36,532.03 642.24,535.15 639.12,532.03" fill="#a66fe1"/>
<polygon points="646.82,492.7 649.94,495.82 646.82,498.94 643.7,495.82" fill="#a66fe1"/>
</g>
<rect x="390" y="350" width="293.5" height="293.6" fill="none" stroke="#000" stroke-width="2"/>
<text transform="translate(380.7 647.1) scale(1.0 1)" font-size="11.2" text-anchor="end" >0</text>
<text transform="translate(380.7 598.17) scale(1.0 1)" font-size="11.2" text-anchor="end" >5</text>
<text transform="translate(380.7 549.23) scale(1.0 1)" font-size="11.2" text-anchor="end" >10</text>
<text transform="translate(380.7 500.3) scale(1.0 1)" font-size="11.2" text-anchor="end" >15</text>
<text transform="translate(380.7 451.37) scale(1.0 1)" font-size="11.2" text-anchor="end" >20</text>
<text transform="translate(380.7 402.43) scale(1.0 1)" font-size="11.2" text-anchor="end" >25</text>
<text transform="translate(380.7 353.5) scale(1.0 1)" font-size="11.2" text-anchor="end" >30</text>
<text transform="translate(390.1 663.6) scale(1.0 1)" font-size="11.2" text-anchor="middle">10<tspan font-size="7.2" dy="-4.2">&#8722;1</tspan></text>
<text transform="translate(421.67 663.6) scale(1.0 1)" font-size="11.2" text-anchor="middle">10<tspan font-size="7.2" dy="-4.2">0</tspan></text>
<text transform="translate(453.24 663.6) scale(1.0 1)" font-size="11.2" text-anchor="middle">10<tspan font-size="7.2" dy="-4.2">1</tspan></text>
<text transform="translate(484.81 663.6) scale(1.0 1)" font-size="11.2" text-anchor="middle">10<tspan font-size="7.2" dy="-4.2">2</tspan></text>
<text transform="translate(516.38 663.6) scale(1.0 1)" font-size="11.2" text-anchor="middle">10<tspan font-size="7.2" dy="-4.2">3</tspan></text>
<text transform="translate(547.95 663.6) scale(1.0 1)" font-size="11.2" text-anchor="middle">10<tspan font-size="7.2" dy="-4.2">4</tspan></text>
<text transform="translate(579.52 663.6) scale(1.0 1)" font-size="11.2" text-anchor="middle">10<tspan font-size="7.2" dy="-4.2">5</tspan></text>
<text transform="translate(611.09 663.6) scale(1.0 1)" font-size="11.2" text-anchor="middle">10<tspan font-size="7.2" dy="-4.2">6</tspan></text>
<text transform="translate(642.66 663.6) scale(1.0 1)" font-size="11.2" text-anchor="middle">10<tspan font-size="7.2" dy="-4.2">7</tspan></text>
<text transform="translate(674.23 663.6) scale(1.0 1)" font-size="11.2" text-anchor="middle">10<tspan font-size="7.2" dy="-4.2">8</tspan></text>
<path d="M384.4 643.6H390M386.8 633.81H390M386.8 624.03H390M386.8 614.24H390M386.8 604.45H390M384.4 594.67H390M386.8 584.88H390M386.8 575.09H390M386.8 565.31H390M386.8 555.52H390M384.4 545.73H390M386.8 535.95H390M386.8 526.16H390M386.8 516.37H390M386.8 506.59H390M384.4 496.8H390M386.8 487.01H390M386.8 477.23H390M386.8 467.44H390M386.8 457.65H390M384.4 447.87H390M386.8 438.08H390M386.8 428.29H390M386.8 418.51H390M386.8 408.72H390M384.4 398.93H390M386.8 389.15H390M386.8 379.36H390M386.8 369.57H390M386.8 359.79H390M384.4 350H390M390 643.6V649.4M399.5 643.6V646.9M405.06 643.6V646.9M409.01 643.6V646.9M412.07 643.6V646.9M414.57 643.6V646.9M416.68 643.6V646.9M418.51 643.6V646.9M420.13 643.6V646.9M421.57 643.6V649.4M431.07 643.6V646.9M436.63 643.6V646.9M440.58 643.6V646.9M443.64 643.6V646.9M446.14 643.6V646.9M448.25 643.6V646.9M450.08 643.6V646.9M451.7 643.6V646.9M453.14 643.6V649.4M462.64 643.6V646.9M468.2 643.6V646.9M472.15 643.6V646.9M475.21 643.6V646.9M477.71 643.6V646.9M479.82 643.6V646.9M481.65 643.6V646.9M483.27 643.6V646.9M484.71 643.6V649.4M494.21 643.6V646.9M499.77 643.6V646.9M503.72 643.6V646.9M506.78 643.6V646.9M509.28 643.6V646.9M511.39 643.6V646.9M513.22 643.6V646.9M514.84 643.6V646.9M516.28 643.6V649.4M525.78 643.6V646.9M531.34 643.6V646.9M535.29 643.6V646.9M538.35 643.6V646.9M540.85 643.6V646.9M542.96 643.6V646.9M544.79 643.6V646.9M546.41 643.6V646.9M547.85 643.6V649.4M557.35 643.6V646.9M562.91 643.6V646.9M566.86 643.6V646.9M569.92 643.6V646.9M572.42 643.6V646.9M574.53 643.6V646.9M576.36 643.6V646.9M577.98 643.6V646.9M579.42 643.6V649.4M588.92 643.6V646.9M594.48 643.6V646.9M598.43 643.6V646.9M601.49 643.6V646.9M603.99 643.6V646.9M606.1 643.6V646.9M607.93 643.6V646.9M609.55 643.6V646.9M610.99 643.6V649.4M620.49 643.6V646.9M626.05 643.6V646.9M630 643.6V646.9M633.06 643.6V646.9M635.56 643.6V646.9M637.67 643.6V646.9M639.5 643.6V646.9M641.12 643.6V646.9M642.56 643.6V649.4M652.06 643.6V646.9M657.62 643.6V646.9M661.57 643.6V646.9M664.63 643.6V646.9M667.13 643.6V646.9M669.24 643.6V646.9M671.07 643.6V646.9M672.69 643.6V646.9M674.13 643.6V649.4" stroke="#000" stroke-width="1.6" fill="none"/>
<text transform="translate(537.55 678.2) scale(1.0 1)" font-size="14.8" text-anchor="middle" >Frequency (Hz)</text>
<text transform="translate(358.6 496.8) scale(1.0 1) rotate(-90)" font-size="14.5" text-anchor="middle">Q-factor</text>
<text transform="translate(393.2 369.8) scale(1.0 1)" font-size="14.3" text-anchor="start" >(d) Co</text>
<line x1="393.2" y1="550.5" x2="426.5" y2="550.5" stroke="#a5a5a5" stroke-width="1"/>
<rect x="407.79" y="548.44" width="4.13" height="4.13" fill="#424242"/>
<text transform="translate(430.6 555.3) scale(1.0 1)" font-size="14.4" text-anchor="start" >x = 0.1</text>
<line x1="393.2" y1="569" x2="426.5" y2="569" stroke="#f9d2d3" stroke-width="1"/>
<circle cx="409.85" cy="569" r="2.35" fill="#e9363b"/>
<text transform="translate(430.6 573.8) scale(1.0 1)" font-size="14.4" text-anchor="start" >x = 0.2</text>
<polygon points="409.85,584.24 412.73,589.13 406.97,589.13" fill="#1d6ee0"/>
<text transform="translate(430.6 592.3) scale(1.0 1)" font-size="14.4" text-anchor="start" >x = 0.3</text>
<polygon points="409.85,610.26 412.73,605.37 406.97,605.37" fill="#2ead63"/>
<text transform="translate(430.6 611.8) scale(1.0 1)" font-size="14.4" text-anchor="start" >x = 0.4</text>
<line x1="393.2" y1="625.5" x2="426.5" y2="625.5" stroke="#cbaaf0" stroke-width="1"/>
<polygon points="409.85,622.62 412.73,625.5 409.85,628.38 406.97,625.5" fill="#a66fe1"/>
<text transform="translate(430.6 630.3) scale(1.0 1)" font-size="14.4" text-anchor="start" >x = 0.5</text>
<g clip-path="url(#clip02)">
<polyline points="45.03,811.5 48.03,829.03 52.27,826.77 58.09,818.85 63.81,841.47 69.6,832.42 75.03,839.21 79.45,836.95 86.15,835.82 92.16,844.86 97.98,856.17 103.8,857.3 109.45,859.56 115.1,855.04 121,860.69 126.85,861.82 132.57,865.22 138.4,872 144.22,878.78 150.05,884.44 155.69,888.96 161.34,898.01 166.99,907.05 172.64,916.1 178.29,925.15 182.88,936.45 185.7,943 189.58,952.28 195.23,962.46 201.23,966.98 206.88,970.38 212.53,972.07 217.47,972.8 221,973.2 227,974 235.12,974.9 240.94,975.3 246.77,975.7 252.59,976.09 257.01,976.39 264.07,976.63 270.07,976.67 275.89,976.71 281.72,976.75 287.36,976.79 293.01,976.84 298.66,976.88 304.31,976.92 309.96,976.96 315.6,977 321.25,977.04 326.9,977.08 332.19,977.12 337.49,977.16" fill="none" stroke="#555555" stroke-width="0.7" />
<rect x="42.36" y="808.84" width="5.33" height="5.33" fill="#424242"/>
<rect x="45.36" y="826.36" width="5.33" height="5.33" fill="#424242"/>
<rect x="49.6" y="824.1" width="5.33" height="5.33" fill="#424242"/>
<rect x="55.42" y="816.19" width="5.33" height="5.33" fill="#424242"/>
<rect x="61.14" y="838.8" width="5.33" height="5.33" fill="#424242"/>
<rect x="66.93" y="829.76" width="5.33" height="5.33" fill="#424242"/>
<rect x="72.37" y="836.54" width="5.33" height="5.33" fill="#424242"/>
<rect x="76.78" y="834.28" width="5.33" height="5.33" fill="#424242"/>
<rect x="83.49" y="833.15" width="5.33" height="5.33" fill="#424242"/>
<rect x="89.49" y="842.2" width="5.33" height="5.33" fill="#424242"/>
<rect x="95.31" y="853.5" width="5.33" height="5.33" fill="#424242"/>
<rect x="101.14" y="854.63" width="5.33" height="5.33" fill="#424242"/>
<rect x="106.79" y="856.9" width="5.33" height="5.33" fill="#424242"/>
<rect x="112.43" y="852.37" width="5.33" height="5.33" fill="#424242"/>
<rect x="118.33" y="858.03" width="5.33" height="5.33" fill="#424242"/>
<rect x="124.19" y="859.16" width="5.33" height="5.33" fill="#424242"/>
<rect x="129.91" y="862.55" width="5.33" height="5.33" fill="#424242"/>
<rect x="135.73" y="869.33" width="5.33" height="5.33" fill="#424242"/>
<rect x="141.56" y="876.12" width="5.33" height="5.33" fill="#424242"/>
<rect x="147.38" y="881.77" width="5.33" height="5.33" fill="#424242"/>
<rect x="153.03" y="886.3" width="5.33" height="5.33" fill="#424242"/>
<rect x="158.68" y="895.34" width="5.33" height="5.33" fill="#424242"/>
<rect x="164.32" y="904.39" width="5.33" height="5.33" fill="#424242"/>
<rect x="169.97" y="913.43" width="5.33" height="5.33" fill="#424242"/>
<rect x="175.62" y="922.48" width="5.33" height="5.33" fill="#424242"/>
<rect x="180.21" y="933.79" width="5.33" height="5.33" fill="#424242"/>
<rect x="183.03" y="940.34" width="5.33" height="5.33" fill="#424242"/>
<rect x="186.92" y="949.62" width="5.33" height="5.33" fill="#424242"/>
<rect x="192.56" y="959.8" width="5.33" height="5.33" fill="#424242"/>
<rect x="198.57" y="964.32" width="5.33" height="5.33" fill="#424242"/>
<rect x="204.21" y="967.71" width="5.33" height="5.33" fill="#424242"/>
<rect x="209.86" y="969.41" width="5.33" height="5.33" fill="#424242"/>
<rect x="214.8" y="970.13" width="5.33" height="5.33" fill="#424242"/>
<rect x="218.33" y="970.54" width="5.33" height="5.33" fill="#424242"/>
<rect x="224.33" y="971.33" width="5.33" height="5.33" fill="#424242"/>
<rect x="232.45" y="972.23" width="5.33" height="5.33" fill="#424242"/>
<rect x="238.28" y="972.64" width="5.33" height="5.33" fill="#424242"/>
<rect x="244.1" y="973.03" width="5.33" height="5.33" fill="#424242"/>
<rect x="249.93" y="973.43" width="5.33" height="5.33" fill="#424242"/>
<rect x="254.34" y="973.73" width="5.33" height="5.33" fill="#424242"/>
<rect x="261.4" y="973.96" width="5.33" height="5.33" fill="#424242"/>
<rect x="267.4" y="974" width="5.33" height="5.33" fill="#424242"/>
<rect x="273.23" y="974.05" width="5.33" height="5.33" fill="#424242"/>
<rect x="279.05" y="974.09" width="5.33" height="5.33" fill="#424242"/>
<rect x="284.7" y="974.13" width="5.33" height="5.33" fill="#424242"/>
<rect x="290.35" y="974.17" width="5.33" height="5.33" fill="#424242"/>
<rect x="295.99" y="974.21" width="5.33" height="5.33" fill="#424242"/>
<rect x="301.64" y="974.25" width="5.33" height="5.33" fill="#424242"/>
<rect x="307.29" y="974.29" width="5.33" height="5.33" fill="#424242"/>
<rect x="312.94" y="974.33" width="5.33" height="5.33" fill="#424242"/>
<rect x="318.59" y="974.37" width="5.33" height="5.33" fill="#424242"/>
<rect x="324.23" y="974.42" width="5.33" height="5.33" fill="#424242"/>
<rect x="329.53" y="974.45" width="5.33" height="5.33" fill="#424242"/>
<rect x="334.82" y="974.5" width="5.33" height="5.33" fill="#424242"/>
<polyline points="48.03,882.18 52.27,885.57 58.09,890.09 63.81,892.35 69.6,894.62 75.03,898.01 79.45,898.01 86.15,901.4 92.16,902.53 97.98,904.79 103.8,905.92 109.45,909.32 115.1,912.14 121,914.97 126.85,918.36 132.57,922.88 138.4,926.28 144.22,930.8 150.05,933.63 155.69,935.89 161.34,939.85 166.99,943.24 172.64,947.76 178.29,951.15 182.88,955.68 185.7,958.5 189.58,959.63 195.23,963.93 201.23,966.98 206.88,968.79 212.53,970.49 217.47,971.73 221,972.41 227,973.2 235.12,974.45 240.94,974.83 246.77,975.24 252.59,975.51 257.01,975.6 264.07,975.73 270.07,975.84 275.89,975.95 281.72,976.01 287.36,975.96 293.01,975.9 298.66,975.85 304.31,975.79 309.96,975.74 315.6,975.68 321.25,975.63 326.9,975.57 332.19,975.52 337.49,975.47" fill="none" stroke="#ec4a4f" stroke-width="0.7" />
<circle cx="48.03" cy="882.18" r="3.04" fill="#e9363b"/>
<circle cx="52.27" cy="885.57" r="3.04" fill="#e9363b"/>
<circle cx="58.09" cy="890.09" r="3.04" fill="#e9363b"/>
<circle cx="63.81" cy="892.35" r="3.04" fill="#e9363b"/>
<circle cx="69.6" cy="894.62" r="3.04" fill="#e9363b"/>
<circle cx="75.03" cy="898.01" r="3.04" fill="#e9363b"/>
<circle cx="79.45" cy="898.01" r="3.04" fill="#e9363b"/>
<circle cx="86.15" cy="901.4" r="3.04" fill="#e9363b"/>
<circle cx="92.16" cy="902.53" r="3.04" fill="#e9363b"/>
<circle cx="97.98" cy="904.79" r="3.04" fill="#e9363b"/>
<circle cx="103.8" cy="905.92" r="3.04" fill="#e9363b"/>
<circle cx="109.45" cy="909.32" r="3.04" fill="#e9363b"/>
<circle cx="115.1" cy="912.14" r="3.04" fill="#e9363b"/>
<circle cx="121" cy="914.97" r="3.04" fill="#e9363b"/>
<circle cx="126.85" cy="918.36" r="3.04" fill="#e9363b"/>
<circle cx="132.57" cy="922.88" r="3.04" fill="#e9363b"/>
<circle cx="138.4" cy="926.28" r="3.04" fill="#e9363b"/>
<circle cx="144.22" cy="930.8" r="3.04" fill="#e9363b"/>
<circle cx="150.05" cy="933.63" r="3.04" fill="#e9363b"/>
<circle cx="155.69" cy="935.89" r="3.04" fill="#e9363b"/>
<circle cx="161.34" cy="939.85" r="3.04" fill="#e9363b"/>
<circle cx="166.99" cy="943.24" r="3.04" fill="#e9363b"/>
<circle cx="172.64" cy="947.76" r="3.04" fill="#e9363b"/>
<circle cx="178.29" cy="951.15" r="3.04" fill="#e9363b"/>
<circle cx="182.88" cy="955.68" r="3.04" fill="#e9363b"/>
<circle cx="185.7" cy="958.5" r="3.04" fill="#e9363b"/>
<circle cx="189.58" cy="959.63" r="3.04" fill="#e9363b"/>
<circle cx="195.23" cy="963.93" r="3.04" fill="#e9363b"/>
<circle cx="201.23" cy="966.98" r="3.04" fill="#e9363b"/>
<circle cx="206.88" cy="968.79" r="3.04" fill="#e9363b"/>
<circle cx="212.53" cy="970.49" r="3.04" fill="#e9363b"/>
<circle cx="217.47" cy="971.73" r="3.04" fill="#e9363b"/>
<circle cx="221" cy="972.41" r="3.04" fill="#e9363b"/>
<circle cx="227" cy="973.2" r="3.04" fill="#e9363b"/>
<circle cx="235.12" cy="974.45" r="3.04" fill="#e9363b"/>
<circle cx="240.94" cy="974.83" r="3.04" fill="#e9363b"/>
<circle cx="246.77" cy="975.24" r="3.04" fill="#e9363b"/>
<circle cx="252.59" cy="975.51" r="3.04" fill="#e9363b"/>
<circle cx="257.01" cy="975.6" r="3.04" fill="#e9363b"/>
<circle cx="264.07" cy="975.73" r="3.04" fill="#e9363b"/>
<circle cx="270.07" cy="975.84" r="3.04" fill="#e9363b"/>
<circle cx="275.89" cy="975.95" r="3.04" fill="#e9363b"/>
<circle cx="281.72" cy="976.01" r="3.04" fill="#e9363b"/>
<circle cx="287.36" cy="975.96" r="3.04" fill="#e9363b"/>
<circle cx="293.01" cy="975.9" r="3.04" fill="#e9363b"/>
<circle cx="298.66" cy="975.85" r="3.04" fill="#e9363b"/>
<circle cx="304.31" cy="975.79" r="3.04" fill="#e9363b"/>
<circle cx="309.96" cy="975.74" r="3.04" fill="#e9363b"/>
<circle cx="315.6" cy="975.68" r="3.04" fill="#e9363b"/>
<circle cx="321.25" cy="975.63" r="3.04" fill="#e9363b"/>
<circle cx="326.9" cy="975.57" r="3.04" fill="#e9363b"/>
<circle cx="332.19" cy="975.52" r="3.04" fill="#e9363b"/>
<circle cx="337.49" cy="975.47" r="3.04" fill="#e9363b"/>
<polyline points="45.91,920.62 48.03,920.62 52.27,920.62 58.09,918.93 63.81,917.8 69.6,916.67 75.03,914.97 79.45,913.84 86.15,911.58 92.16,910.45 97.98,908.18 103.8,908.18 109.45,908.18 115.1,909.32 121,910.45 126.85,912.14 132.57,914.74 138.4,917.23 144.22,920.62 150.05,922.88 155.69,924.02 161.34,927.97 166.99,932.5 172.64,935.89 178.29,938.72 182.88,942.67 185.7,946.07 189.58,946.07 195.23,951.15 201.23,955.11 206.88,957.94 212.53,960.77 217.47,963.59 221,964.16 227,966.98 235.12,968.34 240.94,970.15 246.77,971.51 252.59,972.64 257.01,972.83 264.07,973.12 270.07,973.36 275.89,973.6 281.72,973.62 287.36,973.14 293.01,972.67 298.66,972.19 304.31,971.59 309.96,970.94 315.6,971.26 321.25,971.51 326.9,973.01 332.19,974.33 337.49,974.33" fill="none" stroke="#3b82e8" stroke-width="0.7" />
<polygon points="45.91,917.46 49.63,923.79 42.19,923.79" fill="#1d6ee0"/>
<polygon points="48.03,917.46 51.75,923.79 44.31,923.79" fill="#1d6ee0"/>
<polygon points="52.27,917.46 55.99,923.79 48.55,923.79" fill="#1d6ee0"/>
<polygon points="58.09,915.76 61.81,922.09 54.37,922.09" fill="#1d6ee0"/>
<polygon points="63.81,914.63 67.53,920.96 60.09,920.96" fill="#1d6ee0"/>
<polygon points="69.6,913.5 73.32,919.83 65.88,919.83" fill="#1d6ee0"/>
<polygon points="75.03,911.81 78.75,918.13 71.31,918.13" fill="#1d6ee0"/>
<polygon points="79.45,910.68 83.17,917 75.73,917" fill="#1d6ee0"/>
<polygon points="86.15,908.41 89.87,914.74 82.43,914.74" fill="#1d6ee0"/>
<polygon points="92.16,907.28 95.88,913.61 88.44,913.61" fill="#1d6ee0"/>
<polygon points="97.98,905.02 101.7,911.35 94.26,911.35" fill="#1d6ee0"/>
<polygon points="103.8,905.02 107.52,911.35 100.08,911.35" fill="#1d6ee0"/>
<polygon points="109.45,905.02 113.17,911.35 105.73,911.35" fill="#1d6ee0"/>
<polygon points="115.1,906.15 118.82,912.48 111.38,912.48" fill="#1d6ee0"/>
<polygon points="121,907.28 124.72,913.61 117.28,913.61" fill="#1d6ee0"/>
<polygon points="126.85,908.98 130.57,915.3 123.13,915.3" fill="#1d6ee0"/>
<polygon points="132.57,911.58 136.29,917.91 128.85,917.91" fill="#1d6ee0"/>
<polygon points="138.4,914.07 142.12,920.39 134.68,920.39" fill="#1d6ee0"/>
<polygon points="144.22,917.46 147.94,923.79 140.5,923.79" fill="#1d6ee0"/>
<polygon points="150.05,919.72 153.77,926.05 146.33,926.05" fill="#1d6ee0"/>
<polygon points="155.69,920.85 159.41,927.18 151.97,927.18" fill="#1d6ee0"/>
<polygon points="161.34,924.81 165.06,931.14 157.62,931.14" fill="#1d6ee0"/>
<polygon points="166.99,929.33 170.71,935.66 163.27,935.66" fill="#1d6ee0"/>
<polygon points="172.64,932.73 176.36,939.05 168.92,939.05" fill="#1d6ee0"/>
<polygon points="178.29,935.55 182.01,941.88 174.57,941.88" fill="#1d6ee0"/>
<polygon points="182.88,939.51 186.6,945.84 179.16,945.84" fill="#1d6ee0"/>
<polygon points="185.7,942.9 189.42,949.23 181.98,949.23" fill="#1d6ee0"/>
<polygon points="189.58,942.9 193.3,949.23 185.86,949.23" fill="#1d6ee0"/>
<polygon points="195.23,947.99 198.95,954.32 191.51,954.32" fill="#1d6ee0"/>
<polygon points="201.23,951.95 204.95,958.27 197.51,958.27" fill="#1d6ee0"/>
<polygon points="206.88,954.78 210.6,961.1 203.16,961.1" fill="#1d6ee0"/>
<polygon points="212.53,957.6 216.25,963.93 208.81,963.93" fill="#1d6ee0"/>
<polygon points="217.47,960.43 221.19,966.75 213.75,966.75" fill="#1d6ee0"/>
<polygon points="221,961 224.72,967.32 217.28,967.32" fill="#1d6ee0"/>
<polygon points="227,963.82 230.72,970.15 223.28,970.15" fill="#1d6ee0"/>
<polygon points="235.12,965.18 238.84,971.5 231.4,971.5" fill="#1d6ee0"/>
<polygon points="240.94,966.99 244.66,973.31 237.22,973.31" fill="#1d6ee0"/>
<polygon points="246.77,968.35 250.49,974.67 243.05,974.67" fill="#1d6ee0"/>
<polygon points="252.59,969.48 256.31,975.8 248.87,975.8" fill="#1d6ee0"/>
<polygon points="257.01,969.67 260.73,975.99 253.29,975.99" fill="#1d6ee0"/>
<polygon points="264.07,969.95 267.79,976.28 260.35,976.28" fill="#1d6ee0"/>
<polygon points="270.07,970.2 273.79,976.52 266.35,976.52" fill="#1d6ee0"/>
<polygon points="275.89,970.44 279.61,976.76 272.17,976.76" fill="#1d6ee0"/>
<polygon points="281.72,970.46 285.44,976.79 278,976.79" fill="#1d6ee0"/>
<polygon points="287.36,969.98 291.08,976.31 283.64,976.31" fill="#1d6ee0"/>
<polygon points="293.01,969.5 296.73,975.83 289.29,975.83" fill="#1d6ee0"/>
<polygon points="298.66,969.02 302.38,975.35 294.94,975.35" fill="#1d6ee0"/>
<polygon points="304.31,968.42 308.03,974.75 300.59,974.75" fill="#1d6ee0"/>
<polygon points="309.96,967.78 313.68,974.1 306.24,974.1" fill="#1d6ee0"/>
<polygon points="315.6,968.1 319.32,974.42 311.88,974.42" fill="#1d6ee0"/>
<polygon points="321.25,968.35 324.97,974.67 317.53,974.67" fill="#1d6ee0"/>
<polygon points="326.9,969.85 330.62,976.17 323.18,976.17" fill="#1d6ee0"/>
<polygon points="332.19,971.17 335.92,977.5 328.47,977.5" fill="#1d6ee0"/>
<polygon points="337.49,971.17 341.21,977.5 333.77,977.5" fill="#1d6ee0"/>
<polyline points="46.62,921.75 48.03,920.36 52.27,916.1 58.09,910.45 63.81,907.05 69.6,904.79 75.03,901.4 79.45,900.27 86.15,899.14 92.16,898.01 97.98,897.44 103.8,896.31 109.45,895.75 115.1,895.75 121,895.75 126.85,895.75 132.57,895.18 138.4,895.75 144.22,895.75 150.05,896.88 155.69,896.88 161.34,895.75 166.99,895.18 172.64,895.18 178.29,894.62 182.88,893.48 185.7,892.92 189.58,893.48 195.23,896.31 201.23,899.7 206.88,904.79 212.53,910.45 217.47,917.23 221,921.75 227,933.06 235.12,940.98 240.94,946.63 246.77,952.28 252.59,957.94 257.01,961.33 264.07,965.29 270.07,967.44 275.89,969.25 281.72,970.38 287.36,971.51 293.01,972.19 298.66,972.64 304.31,972.83 309.96,973.01 315.6,973.2 321.25,973.38 326.9,973.57 332.19,973.77 337.49,973.77" fill="none" stroke="#3db670" stroke-width="0.7" />
<polygon points="46.62,924.92 50.34,918.59 42.9,918.59" fill="#2ead63"/>
<polygon points="48.03,923.52 51.75,917.2 44.31,917.2" fill="#2ead63"/>
<polygon points="52.27,919.26 55.99,912.94 48.55,912.94" fill="#2ead63"/>
<polygon points="58.09,913.61 61.81,907.28 54.37,907.28" fill="#2ead63"/>
<polygon points="63.81,910.22 67.53,903.89 60.09,903.89" fill="#2ead63"/>
<polygon points="69.6,907.95 73.32,901.63 65.88,901.63" fill="#2ead63"/>
<polygon points="75.03,904.56 78.75,898.24 71.31,898.24" fill="#2ead63"/>
<polygon points="79.45,903.43 83.17,897.11 75.73,897.11" fill="#2ead63"/>
<polygon points="86.15,902.3 89.87,895.98 82.43,895.98" fill="#2ead63"/>
<polygon points="92.16,901.17 95.88,894.85 88.44,894.85" fill="#2ead63"/>
<polygon points="97.98,900.6 101.7,894.28 94.26,894.28" fill="#2ead63"/>
<polygon points="103.8,899.47 107.52,893.15 100.08,893.15" fill="#2ead63"/>
<polygon points="109.45,898.91 113.17,892.58 105.73,892.58" fill="#2ead63"/>
<polygon points="115.1,898.91 118.82,892.58 111.38,892.58" fill="#2ead63"/>
<polygon points="121,898.91 124.72,892.58 117.28,892.58" fill="#2ead63"/>
<polygon points="126.85,898.91 130.57,892.58 123.13,892.58" fill="#2ead63"/>
<polygon points="132.57,898.34 136.29,892.02 128.85,892.02" fill="#2ead63"/>
<polygon points="138.4,898.91 142.12,892.58 134.68,892.58" fill="#2ead63"/>
<polygon points="144.22,898.91 147.94,892.58 140.5,892.58" fill="#2ead63"/>
<polygon points="150.05,900.04 153.77,893.71 146.33,893.71" fill="#2ead63"/>
<polygon points="155.69,900.04 159.41,893.71 151.97,893.71" fill="#2ead63"/>
<polygon points="161.34,898.91 165.06,892.58 157.62,892.58" fill="#2ead63"/>
<polygon points="166.99,898.34 170.71,892.02 163.27,892.02" fill="#2ead63"/>
<polygon points="172.64,898.34 176.36,892.02 168.92,892.02" fill="#2ead63"/>
<polygon points="178.29,897.78 182.01,891.45 174.57,891.45" fill="#2ead63"/>
<polygon points="182.88,896.65 186.6,890.32 179.16,890.32" fill="#2ead63"/>
<polygon points="185.7,896.08 189.42,889.76 181.98,889.76" fill="#2ead63"/>
<polygon points="189.58,896.65 193.3,890.32 185.86,890.32" fill="#2ead63"/>
<polygon points="195.23,899.47 198.95,893.15 191.51,893.15" fill="#2ead63"/>
<polygon points="201.23,902.87 204.95,896.54 197.51,896.54" fill="#2ead63"/>
<polygon points="206.88,907.95 210.6,901.63 203.16,901.63" fill="#2ead63"/>
<polygon points="212.53,913.61 216.25,907.28 208.81,907.28" fill="#2ead63"/>
<polygon points="217.47,920.39 221.19,914.07 213.75,914.07" fill="#2ead63"/>
<polygon points="221,924.92 224.72,918.59 217.28,918.59" fill="#2ead63"/>
<polygon points="227,936.22 230.72,929.9 223.28,929.9" fill="#2ead63"/>
<polygon points="235.12,944.14 238.84,937.81 231.4,937.81" fill="#2ead63"/>
<polygon points="240.94,949.79 244.66,943.47 237.22,943.47" fill="#2ead63"/>
<polygon points="246.77,955.45 250.49,949.12 243.05,949.12" fill="#2ead63"/>
<polygon points="252.59,961.1 256.31,954.78 248.87,954.78" fill="#2ead63"/>
<polygon points="257.01,964.49 260.73,958.17 253.29,958.17" fill="#2ead63"/>
<polygon points="264.07,968.45 267.79,962.13 260.35,962.13" fill="#2ead63"/>
<polygon points="270.07,970.6 273.79,964.27 266.35,964.27" fill="#2ead63"/>
<polygon points="275.89,972.41 279.61,966.08 272.17,966.08" fill="#2ead63"/>
<polygon points="281.72,973.54 285.44,967.21 278,967.21" fill="#2ead63"/>
<polygon points="287.36,974.67 291.08,968.35 283.64,968.35" fill="#2ead63"/>
<polygon points="293.01,975.35 296.73,969.02 289.29,969.02" fill="#2ead63"/>
<polygon points="298.66,975.8 302.38,969.48 294.94,969.48" fill="#2ead63"/>
<polygon points="304.31,975.99 308.03,969.67 300.59,969.67" fill="#2ead63"/>
<polygon points="309.96,976.18 313.68,969.85 306.24,969.85" fill="#2ead63"/>
<polygon points="315.6,976.36 319.32,970.04 311.88,970.04" fill="#2ead63"/>
<polygon points="321.25,976.55 324.97,970.22 317.53,970.22" fill="#2ead63"/>
<polygon points="326.9,976.73 330.62,970.41 323.18,970.41" fill="#2ead63"/>
<polygon points="332.19,976.93 335.92,970.61 328.47,970.61" fill="#2ead63"/>
<polygon points="337.49,976.93 341.21,970.61 333.77,970.61" fill="#2ead63"/>
<polyline points="45.91,909.32 48.03,905.92 52.27,901.4 58.09,898.01 63.81,895.75 69.6,894.62 75.03,893.48 79.45,893.48 86.15,894.62 92.16,895.75 97.98,896.88 103.8,898.01 109.45,900.27 115.1,903.66 121,909.32 126.85,914.4 132.57,918.93 138.4,923.45 144.22,927.41 150.05,928.54 155.69,930.23 161.34,931.93 166.99,932.5 172.64,933.06 178.29,933.63 182.88,934.19 185.7,934.19 189.58,934.19 195.23,935.89 201.23,937.58 206.88,940.41 212.53,943.24 217.47,947.76 221,950.02 227,955.68 235.12,958.5 240.94,962.46 246.77,965.29 252.59,967.44 257.01,969.25 264.07,970.94 270.07,971.85 275.89,973.54 281.72,974.35 287.36,975.11 293.01,975.54 298.66,975.67 304.31,975.8 309.96,975.94 315.6,976.07 321.25,976.2 326.9,976.33 332.19,976.46 337.49,976.6" fill="none" stroke="#b084e8" stroke-width="0.7" />
<polygon points="45.91,905.6 49.63,909.32 45.91,913.04 42.19,909.32" fill="#a66fe1"/>
<polygon points="48.03,902.2 51.75,905.92 48.03,909.64 44.31,905.92" fill="#a66fe1"/>
<polygon points="52.27,897.68 55.99,901.4 52.27,905.12 48.55,901.4" fill="#a66fe1"/>
<polygon points="58.09,894.29 61.81,898.01 58.09,901.73 54.37,898.01" fill="#a66fe1"/>
<polygon points="63.81,892.03 67.53,895.75 63.81,899.47 60.09,895.75" fill="#a66fe1"/>
<polygon points="69.6,890.9 73.32,894.62 69.6,898.34 65.88,894.62" fill="#a66fe1"/>
<polygon points="75.03,889.76 78.75,893.48 75.03,897.2 71.31,893.48" fill="#a66fe1"/>
<polygon points="79.45,889.76 83.17,893.48 79.45,897.2 75.73,893.48" fill="#a66fe1"/>
<polygon points="86.15,890.9 89.87,894.62 86.15,898.34 82.43,894.62" fill="#a66fe1"/>
<polygon points="92.16,892.03 95.88,895.75 92.16,899.47 88.44,895.75" fill="#a66fe1"/>
<polygon points="97.98,893.16 101.7,896.88 97.98,900.6 94.26,896.88" fill="#a66fe1"/>
<polygon points="103.8,894.29 107.52,898.01 103.8,901.73 100.08,898.01" fill="#a66fe1"/>
<polygon points="109.45,896.55 113.17,900.27 109.45,903.99 105.73,900.27" fill="#a66fe1"/>
<polygon points="115.1,899.94 118.82,903.66 115.1,907.38 111.38,903.66" fill="#a66fe1"/>
<polygon points="121,905.6 124.72,909.32 121,913.04 117.28,909.32" fill="#a66fe1"/>
<polygon points="126.85,910.68 130.57,914.4 126.85,918.12 123.13,914.4" fill="#a66fe1"/>
<polygon points="132.57,915.21 136.29,918.93 132.57,922.65 128.85,918.93" fill="#a66fe1"/>
<polygon points="138.4,919.73 142.12,923.45 138.4,927.17 134.68,923.45" fill="#a66fe1"/>
<polygon points="144.22,923.69 147.94,927.41 144.22,931.13 140.5,927.41" fill="#a66fe1"/>
<polygon points="150.05,924.82 153.77,928.54 150.05,932.26 146.33,928.54" fill="#a66fe1"/>
<polygon points="155.69,926.51 159.41,930.23 155.69,933.95 151.97,930.23" fill="#a66fe1"/>
<polygon points="161.34,928.21 165.06,931.93 161.34,935.65 157.62,931.93" fill="#a66fe1"/>
<polygon points="166.99,928.78 170.71,932.5 166.99,936.22 163.27,932.5" fill="#a66fe1"/>
<polygon points="172.64,929.34 176.36,933.06 172.64,936.78 168.92,933.06" fill="#a66fe1"/>
<polygon points="178.29,929.91 182.01,933.63 178.29,937.35 174.57,933.63" fill="#a66fe1"/>
<polygon points="182.88,930.47 186.6,934.19 182.88,937.91 179.16,934.19" fill="#a66fe1"/>
<polygon points="185.7,930.47 189.42,934.19 185.7,937.91 181.98,934.19" fill="#a66fe1"/>
<polygon points="189.58,930.47 193.3,934.19 189.58,937.91 185.86,934.19" fill="#a66fe1"/>
<polygon points="195.23,932.17 198.95,935.89 195.23,939.61 191.51,935.89" fill="#a66fe1"/>
<polygon points="201.23,933.86 204.95,937.58 201.23,941.3 197.51,937.58" fill="#a66fe1"/>
<polygon points="206.88,936.69 210.6,940.41 206.88,944.13 203.16,940.41" fill="#a66fe1"/>
<polygon points="212.53,939.52 216.25,943.24 212.53,946.96 208.81,943.24" fill="#a66fe1"/>
<polygon points="217.47,944.04 221.19,947.76 217.47,951.48 213.75,947.76" fill="#a66fe1"/>
<polygon points="221,946.3 224.72,950.02 221,953.74 217.28,950.02" fill="#a66fe1"/>
<polygon points="227,951.96 230.72,955.68 227,959.4 223.28,955.68" fill="#a66fe1"/>
<polygon points="235.12,954.78 238.84,958.5 235.12,962.22 231.4,958.5" fill="#a66fe1"/>
<polygon points="240.94,958.74 244.66,962.46 240.94,966.18 237.22,962.46" fill="#a66fe1"/>
<polygon points="246.77,961.57 250.49,965.29 246.77,969.01 243.05,965.29" fill="#a66fe1"/>
<polygon points="252.59,963.72 256.31,967.44 252.59,971.16 248.87,967.44" fill="#a66fe1"/>
<polygon points="257.01,965.53 260.73,969.25 257.01,972.97 253.29,969.25" fill="#a66fe1"/>
<polygon points="264.07,967.22 267.79,970.94 264.07,974.66 260.35,970.94" fill="#a66fe1"/>
<polygon points="270.07,968.13 273.79,971.85 270.07,975.57 266.35,971.85" fill="#a66fe1"/>
<polygon points="275.89,969.82 279.61,973.54 275.89,977.26 272.17,973.54" fill="#a66fe1"/>
<polygon points="281.72,970.63 285.44,974.35 281.72,978.07 278,974.35" fill="#a66fe1"/>
<polygon points="287.36,971.39 291.08,975.11 287.36,978.83 283.64,975.11" fill="#a66fe1"/>
<polygon points="293.01,971.82 296.73,975.54 293.01,979.26 289.29,975.54" fill="#a66fe1"/>
<polygon points="298.66,971.95 302.38,975.67 298.66,979.39 294.94,975.67" fill="#a66fe1"/>
<polygon points="304.31,972.08 308.03,975.8 304.31,979.52 300.59,975.8" fill="#a66fe1"/>
<polygon points="309.96,972.22 313.68,975.94 309.96,979.66 306.24,975.94" fill="#a66fe1"/>
<polygon points="315.6,972.35 319.32,976.07 315.6,979.79 311.88,976.07" fill="#a66fe1"/>
<polygon points="321.25,972.48 324.97,976.2 321.25,979.92 317.53,976.2" fill="#a66fe1"/>
<polygon points="326.9,972.61 330.62,976.33 326.9,980.05 323.18,976.33" fill="#a66fe1"/>
<polygon points="332.19,972.74 335.92,976.46 332.19,980.18 328.47,976.46" fill="#a66fe1"/>
<polygon points="337.49,972.88 341.21,976.6 337.49,980.32 333.77,976.6" fill="#a66fe1"/>
</g>
<rect x="44.5" y="695.6" width="293.5" height="294" fill="none" stroke="#000" stroke-width="2"/>
<text transform="translate(35.2 981.79) scale(1.0 1)" font-size="11.2" text-anchor="end" >0</text>
<text transform="translate(35.2 925.25) scale(1.0 1)" font-size="11.2" text-anchor="end" >5</text>
<text transform="translate(35.2 868.72) scale(1.0 1)" font-size="11.2" text-anchor="end" >10</text>
<text transform="translate(35.2 812.18) scale(1.0 1)" font-size="11.2" text-anchor="end" >15</text>
<text transform="translate(35.2 755.64) scale(1.0 1)" font-size="11.2" text-anchor="end" >20</text>
<text transform="translate(35.2 699.1) scale(1.0 1)" font-size="11.2" text-anchor="end" >25</text>
<text transform="translate(44.6 1009.6) scale(1.0 1)" font-size="11.2" text-anchor="middle">10<tspan font-size="7.2" dy="-4.2">&#8722;1</tspan></text>
<text transform="translate(79.9 1009.6) scale(1.0 1)" font-size="11.2" text-anchor="middle">10<tspan font-size="7.2" dy="-4.2">0</tspan></text>
<text transform="translate(115.2 1009.6) scale(1.0 1)" font-size="11.2" text-anchor="middle">10<tspan font-size="7.2" dy="-4.2">1</tspan></text>
<text transform="translate(150.5 1009.6) scale(1.0 1)" font-size="11.2" text-anchor="middle">10<tspan font-size="7.2" dy="-4.2">2</tspan></text>
<text transform="translate(185.8 1009.6) scale(1.0 1)" font-size="11.2" text-anchor="middle">10<tspan font-size="7.2" dy="-4.2">3</tspan></text>
<text transform="translate(221.1 1009.6) scale(1.0 1)" font-size="11.2" text-anchor="middle">10<tspan font-size="7.2" dy="-4.2">4</tspan></text>
<text transform="translate(256.4 1009.6) scale(1.0 1)" font-size="11.2" text-anchor="middle">10<tspan font-size="7.2" dy="-4.2">5</tspan></text>
<text transform="translate(291.7 1009.6) scale(1.0 1)" font-size="11.2" text-anchor="middle">10<tspan font-size="7.2" dy="-4.2">6</tspan></text>
<text transform="translate(327 1009.6) scale(1.0 1)" font-size="11.2" text-anchor="middle">10<tspan font-size="7.2" dy="-4.2">7</tspan></text>
<path d="M41.3 989.6H44.5M38.9 978.29H44.5M41.3 966.98H44.5M41.3 955.68H44.5M41.3 944.37H44.5M41.3 933.06H44.5M38.9 921.75H44.5M41.3 910.45H44.5M41.3 899.14H44.5M41.3 887.83H44.5M41.3 876.52H44.5M38.9 865.22H44.5M41.3 853.91H44.5M41.3 842.6H44.5M41.3 831.29H44.5M41.3 819.98H44.5M38.9 808.68H44.5M41.3 797.37H44.5M41.3 786.06H44.5M41.3 774.75H44.5M41.3 763.45H44.5M38.9 752.14H44.5M41.3 740.83H44.5M41.3 729.52H44.5M41.3 718.22H44.5M41.3 706.91H44.5M38.9 695.6H44.5M44.5 989.6V995.4M55.13 989.6V992.9M61.34 989.6V992.9M65.75 989.6V992.9M69.17 989.6V992.9M71.97 989.6V992.9M74.33 989.6V992.9M76.38 989.6V992.9M78.18 989.6V992.9M79.8 989.6V995.4M90.43 989.6V992.9M96.64 989.6V992.9M101.05 989.6V992.9M104.47 989.6V992.9M107.27 989.6V992.9M109.63 989.6V992.9M111.68 989.6V992.9M113.48 989.6V992.9M115.1 989.6V995.4M125.73 989.6V992.9M131.94 989.6V992.9M136.35 989.6V992.9M139.77 989.6V992.9M142.57 989.6V992.9M144.93 989.6V992.9M146.98 989.6V992.9M148.78 989.6V992.9M150.4 989.6V995.4M161.03 989.6V992.9M167.24 989.6V992.9M171.65 989.6V992.9M175.07 989.6V992.9M177.87 989.6V992.9M180.23 989.6V992.9M182.28 989.6V992.9M184.08 989.6V992.9M185.7 989.6V995.4M196.33 989.6V992.9M202.54 989.6V992.9M206.95 989.6V992.9M210.37 989.6V992.9M213.17 989.6V992.9M215.53 989.6V992.9M217.58 989.6V992.9M219.38 989.6V992.9M221 989.6V995.4M231.63 989.6V992.9M237.84 989.6V992.9M242.25 989.6V992.9M245.67 989.6V992.9M248.47 989.6V992.9M250.83 989.6V992.9M252.88 989.6V992.9M254.68 989.6V992.9M256.3 989.6V995.4M266.93 989.6V992.9M273.14 989.6V992.9M277.55 989.6V992.9M280.97 989.6V992.9M283.77 989.6V992.9M286.13 989.6V992.9M288.18 989.6V992.9M289.98 989.6V992.9M291.6 989.6V995.4M302.23 989.6V992.9M308.44 989.6V992.9M312.85 989.6V992.9M316.27 989.6V992.9M319.07 989.6V992.9M321.43 989.6V992.9M323.48 989.6V992.9M325.28 989.6V992.9M326.9 989.6V995.4M337.53 989.6V992.9" stroke="#000" stroke-width="1.6" fill="none"/>
<text transform="translate(192.05 1024.2) scale(1.0 1)" font-size="14.8" text-anchor="middle" >Frequency (Hz)</text>
<text transform="translate(13 842.9) scale(1.0 1) rotate(-90)" font-size="17.2" text-anchor="middle">tan&#948;</text>
<text transform="translate(47.7 715.4) scale(1.0 1)" font-size="14.3" text-anchor="start" >(e) Cu</text>
<line x1="252.4" y1="709.5" x2="286" y2="709.5" stroke="#a5a5a5" stroke-width="1"/>
<rect x="266.45" y="706.75" width="5.5" height="5.5" fill="#424242"/>
<text transform="translate(289.9 714.3) scale(1.0 1)" font-size="14.4" text-anchor="start" >x = 0.1</text>
<line x1="252.4" y1="728.5" x2="286" y2="728.5" stroke="#f39a9e" stroke-width="1"/>
<circle cx="269.2" cy="728.5" r="3.14" fill="#e9363b"/>
<text transform="translate(289.9 733.3) scale(1.0 1)" font-size="14.4" text-anchor="start" >x = 0.2</text>
<line x1="252.4" y1="747.5" x2="286" y2="747.5" stroke="#92b6ef" stroke-width="1"/>
<polygon points="269.2,743.15 273.04,749.68 265.36,749.68" fill="#1d6ee0"/>
<text transform="translate(289.9 752.3) scale(1.0 1)" font-size="14.4" text-anchor="start" >x = 0.3</text>
<line x1="252.4" y1="766.2" x2="286" y2="766.2" stroke="#8ed1a5" stroke-width="1"/>
<polygon points="269.2,770.55 273.04,764.02 265.36,764.02" fill="#2ead63"/>
<text transform="translate(289.9 771) scale(1.0 1)" font-size="14.4" text-anchor="start" >x = 0.4</text>
<line x1="252.4" y1="784.8" x2="286" y2="784.8" stroke="#cbaaf0" stroke-width="1"/>
<polygon points="269.2,780.96 273.04,784.8 269.2,788.64 265.36,784.8" fill="#a66fe1"/>
<text transform="translate(289.9 789.6) scale(1.0 1)" font-size="14.4" text-anchor="start" >x = 0.5</text>
<g clip-path="url(#clip12)">
<polyline points="393.16,988.59 396.95,988.56 402.15,988.51 407.27,988.47 412.45,988.42 417.31,988.38 421.25,988.34 427.25,988.29 432.62,988.24 437.83,988.19 443.04,988.15 448.09,988.1 453.14,988.06 458.41,988.01 463.65,987.96 468.77,987.92 473.98,987.87 479.19,987.83 484.39,987.78 489.45,987.73 494.5,987.69 499.55,987.64 504.6,987.3 509.65,986.93 513.75,986.63 516.28,986.44 519.75,986.19 524.8,985.82 530.17,985.42 535.22,985.05 540.27,984.7 544.69,984.24 547.85,983.93 553.22,983.4 560.48,982.74 565.69,982.15 570.9,981.61 576.11,981.07 579.26,980.78 585.58,979.02 590.79,976.66 595.99,974.9 600.89,973.14 605.94,970.2 610.83,967.06 616.2,965.88 621.25,961.96 626.46,949.62 631.51,908.46 636.56,893.56 642.24,793.8 646.82,722.65" fill="none" stroke="#555555" stroke-width="0.6" stroke-dasharray="4.2 2.2"/>
<rect x="390.92" y="986.36" width="4.47" height="4.47" fill="#424242"/>
<rect x="394.71" y="986.32" width="4.47" height="4.47" fill="#424242"/>
<rect x="399.92" y="986.28" width="4.47" height="4.47" fill="#424242"/>
<rect x="405.03" y="986.23" width="4.47" height="4.47" fill="#424242"/>
<rect x="410.21" y="986.18" width="4.47" height="4.47" fill="#424242"/>
<rect x="415.07" y="986.14" width="4.47" height="4.47" fill="#424242"/>
<rect x="419.02" y="986.11" width="4.47" height="4.47" fill="#424242"/>
<rect x="425.02" y="986.05" width="4.47" height="4.47" fill="#424242"/>
<rect x="430.38" y="986" width="4.47" height="4.47" fill="#424242"/>
<rect x="435.59" y="985.96" width="4.47" height="4.47" fill="#424242"/>
<rect x="440.8" y="985.91" width="4.47" height="4.47" fill="#424242"/>
<rect x="445.85" y="985.87" width="4.47" height="4.47" fill="#424242"/>
<rect x="450.9" y="985.82" width="4.47" height="4.47" fill="#424242"/>
<rect x="456.18" y="985.77" width="4.47" height="4.47" fill="#424242"/>
<rect x="461.42" y="985.73" width="4.47" height="4.47" fill="#424242"/>
<rect x="466.53" y="985.68" width="4.47" height="4.47" fill="#424242"/>
<rect x="471.74" y="985.64" width="4.47" height="4.47" fill="#424242"/>
<rect x="476.95" y="985.59" width="4.47" height="4.47" fill="#424242"/>
<rect x="482.16" y="985.54" width="4.47" height="4.47" fill="#424242"/>
<rect x="487.21" y="985.5" width="4.47" height="4.47" fill="#424242"/>
<rect x="492.26" y="985.45" width="4.47" height="4.47" fill="#424242"/>
<rect x="497.31" y="985.4" width="4.47" height="4.47" fill="#424242"/>
<rect x="502.36" y="985.07" width="4.47" height="4.47" fill="#424242"/>
<rect x="507.41" y="984.69" width="4.47" height="4.47" fill="#424242"/>
<rect x="511.52" y="984.39" width="4.47" height="4.47" fill="#424242"/>
<rect x="514.04" y="984.21" width="4.47" height="4.47" fill="#424242"/>
<rect x="517.52" y="983.95" width="4.47" height="4.47" fill="#424242"/>
<rect x="522.57" y="983.58" width="4.47" height="4.47" fill="#424242"/>
<rect x="527.93" y="983.19" width="4.47" height="4.47" fill="#424242"/>
<rect x="532.99" y="982.82" width="4.47" height="4.47" fill="#424242"/>
<rect x="538.04" y="982.46" width="4.47" height="4.47" fill="#424242"/>
<rect x="542.46" y="982" width="4.47" height="4.47" fill="#424242"/>
<rect x="545.61" y="981.69" width="4.47" height="4.47" fill="#424242"/>
<rect x="550.98" y="981.17" width="4.47" height="4.47" fill="#424242"/>
<rect x="558.24" y="980.5" width="4.47" height="4.47" fill="#424242"/>
<rect x="563.45" y="979.91" width="4.47" height="4.47" fill="#424242"/>
<rect x="568.66" y="979.37" width="4.47" height="4.47" fill="#424242"/>
<rect x="573.87" y="978.83" width="4.47" height="4.47" fill="#424242"/>
<rect x="577.03" y="978.54" width="4.47" height="4.47" fill="#424242"/>
<rect x="583.34" y="976.78" width="4.47" height="4.47" fill="#424242"/>
<rect x="588.55" y="974.43" width="4.47" height="4.47" fill="#424242"/>
<rect x="593.76" y="972.66" width="4.47" height="4.47" fill="#424242"/>
<rect x="598.65" y="970.9" width="4.47" height="4.47" fill="#424242"/>
<rect x="603.7" y="967.96" width="4.47" height="4.47" fill="#424242"/>
<rect x="608.6" y="964.82" width="4.47" height="4.47" fill="#424242"/>
<rect x="613.96" y="963.65" width="4.47" height="4.47" fill="#424242"/>
<rect x="619.01" y="959.73" width="4.47" height="4.47" fill="#424242"/>
<rect x="624.22" y="947.38" width="4.47" height="4.47" fill="#424242"/>
<rect x="629.27" y="906.22" width="4.47" height="4.47" fill="#424242"/>
<rect x="634.33" y="891.32" width="4.47" height="4.47" fill="#424242"/>
<rect x="640.01" y="791.56" width="4.47" height="4.47" fill="#424242"/>
<rect x="644.59" y="720.41" width="4.47" height="4.47" fill="#424242"/>
<polyline points="393.16,988.02 396.95,988 402.15,987.98 407.27,987.96 412.45,987.93 417.31,987.91 421.25,987.9 427.25,987.87 432.62,987.85 437.83,987.82 443.04,987.8 448.09,987.78 453.14,987.76 458.41,987.73 463.65,987.71 468.77,987.69 473.98,987.67 479.19,987.64 484.39,987.53 489.45,987.41 494.5,987.28 499.55,987.16 504.6,987.04 509.65,986.91 513.75,986.81 516.28,986.75 519.75,986.66 524.8,986.44 530.17,986.2 535.22,985.98 540.27,985.75 544.69,985.13 547.85,984.7 553.22,983.72 560.48,982.74 565.69,981.56 570.9,980.78 576.11,979.02 579.26,978.04 585.58,976.47 590.79,974.9 595.99,973.72 600.89,971.96 605.94,971.18 610.83,971.96 616.2,973.14 621.25,975.49 626.46,977.84 631.51,979.8 636.56,980.19 642.24,981.37 646.82,982.54" fill="none" stroke="#ec4a4f" stroke-width="0.6" stroke-dasharray="4.2 2.2"/>
<circle cx="393.16" cy="988.02" r="2.55" fill="#e9363b"/>
<circle cx="396.95" cy="988" r="2.55" fill="#e9363b"/>
<circle cx="402.15" cy="987.98" r="2.55" fill="#e9363b"/>
<circle cx="407.27" cy="987.96" r="2.55" fill="#e9363b"/>
<circle cx="412.45" cy="987.93" r="2.55" fill="#e9363b"/>
<circle cx="417.31" cy="987.91" r="2.55" fill="#e9363b"/>
<circle cx="421.25" cy="987.9" r="2.55" fill="#e9363b"/>
<circle cx="427.25" cy="987.87" r="2.55" fill="#e9363b"/>
<circle cx="432.62" cy="987.85" r="2.55" fill="#e9363b"/>
<circle cx="437.83" cy="987.82" r="2.55" fill="#e9363b"/>
<circle cx="443.04" cy="987.8" r="2.55" fill="#e9363b"/>
<circle cx="448.09" cy="987.78" r="2.55" fill="#e9363b"/>
<circle cx="453.14" cy="987.76" r="2.55" fill="#e9363b"/>
<circle cx="458.41" cy="987.73" r="2.55" fill="#e9363b"/>
<circle cx="463.65" cy="987.71" r="2.55" fill="#e9363b"/>
<circle cx="468.77" cy="987.69" r="2.55" fill="#e9363b"/>
<circle cx="473.98" cy="987.67" r="2.55" fill="#e9363b"/>
<circle cx="479.19" cy="987.64" r="2.55" fill="#e9363b"/>
<circle cx="484.39" cy="987.53" r="2.55" fill="#e9363b"/>
<circle cx="489.45" cy="987.41" r="2.55" fill="#e9363b"/>
<circle cx="494.5" cy="987.28" r="2.55" fill="#e9363b"/>
<circle cx="499.55" cy="987.16" r="2.55" fill="#e9363b"/>
<circle cx="504.6" cy="987.04" r="2.55" fill="#e9363b"/>
<circle cx="509.65" cy="986.91" r="2.55" fill="#e9363b"/>
<circle cx="513.75" cy="986.81" r="2.55" fill="#e9363b"/>
<circle cx="516.28" cy="986.75" r="2.55" fill="#e9363b"/>
<circle cx="519.75" cy="986.66" r="2.55" fill="#e9363b"/>
<circle cx="524.8" cy="986.44" r="2.55" fill="#e9363b"/>
<circle cx="530.17" cy="986.2" r="2.55" fill="#e9363b"/>
<circle cx="535.22" cy="985.98" r="2.55" fill="#e9363b"/>
<circle cx="540.27" cy="985.75" r="2.55" fill="#e9363b"/>
<circle cx="544.69" cy="985.13" r="2.55" fill="#e9363b"/>
<circle cx="547.85" cy="984.7" r="2.55" fill="#e9363b"/>
<circle cx="553.22" cy="983.72" r="2.55" fill="#e9363b"/>
<circle cx="560.48" cy="982.74" r="2.55" fill="#e9363b"/>
<circle cx="565.69" cy="981.56" r="2.55" fill="#e9363b"/>
<circle cx="570.9" cy="980.78" r="2.55" fill="#e9363b"/>
<circle cx="576.11" cy="979.02" r="2.55" fill="#e9363b"/>
<circle cx="579.26" cy="978.04" r="2.55" fill="#e9363b"/>
<circle cx="585.58" cy="976.47" r="2.55" fill="#e9363b"/>
<circle cx="590.79" cy="974.9" r="2.55" fill="#e9363b"/>
<circle cx="595.99" cy="973.72" r="2.55" fill="#e9363b"/>
<circle cx="600.89" cy="971.96" r="2.55" fill="#e9363b"/>
<circle cx="605.94" cy="971.18" r="2.55" fill="#e9363b"/>
<circle cx="610.83" cy="971.96" r="2.55" fill="#e9363b"/>
<circle cx="616.2" cy="973.14" r="2.55" fill="#e9363b"/>
<circle cx="621.25" cy="975.49" r="2.55" fill="#e9363b"/>
<circle cx="626.46" cy="977.84" r="2.55" fill="#e9363b"/>
<circle cx="631.51" cy="979.8" r="2.55" fill="#e9363b"/>
<circle cx="636.56" cy="980.19" r="2.55" fill="#e9363b"/>
<circle cx="642.24" cy="981.37" r="2.55" fill="#e9363b"/>
<circle cx="646.82" cy="982.54" r="2.55" fill="#e9363b"/>
<polyline points="393.16,989 396.95,988.99 402.15,988.97 407.27,988.95 412.45,988.93 417.31,988.91 421.25,988.9 427.25,988.88 432.62,988.86 437.83,988.84 443.04,988.82 448.09,988.8 453.14,988.79 458.41,988.77 463.65,988.75 468.77,988.73 473.98,988.71 479.19,988.69 484.39,988.68 489.45,988.66 494.5,988.64 499.55,988.62 504.6,988.53 509.65,988.43 513.75,988.35 516.28,988.3 519.75,988.23 524.8,988.13 530.17,988.03 535.22,987.93 540.27,987.83 544.69,987.74 547.85,987.68 553.22,987.53 560.48,987.3 565.69,987.13 570.9,986.96 576.11,986.79 579.26,986.66 585.58,986.39 590.79,986.13 595.99,985.88 600.89,985.68 605.94,985.32 610.83,985.02 616.2,984.7 621.25,984.21 626.46,983.72 631.51,984.8 636.56,984.8 642.24,981.56 646.82,979.02" fill="none" stroke="#3b82e8" stroke-width="0.6" stroke-dasharray="4.2 2.2"/>
<polygon points="393.16,986.35 396.28,991.65 390.04,991.65" fill="#1d6ee0"/>
<polygon points="396.95,986.34 400.07,991.64 393.83,991.64" fill="#1d6ee0"/>
<polygon points="402.15,986.32 405.27,991.62 399.03,991.62" fill="#1d6ee0"/>
<polygon points="407.27,986.3 410.39,991.6 404.15,991.6" fill="#1d6ee0"/>
<polygon points="412.45,986.28 415.57,991.58 409.33,991.58" fill="#1d6ee0"/>
<polygon points="417.31,986.26 420.43,991.57 414.19,991.57" fill="#1d6ee0"/>
<polygon points="421.25,986.25 424.37,991.55 418.13,991.55" fill="#1d6ee0"/>
<polygon points="427.25,986.23 430.37,991.53 424.13,991.53" fill="#1d6ee0"/>
<polygon points="432.62,986.21 435.74,991.51 429.5,991.51" fill="#1d6ee0"/>
<polygon points="437.83,986.19 440.95,991.49 434.71,991.49" fill="#1d6ee0"/>
<polygon points="443.04,986.17 446.16,991.47 439.92,991.47" fill="#1d6ee0"/>
<polygon points="448.09,986.15 451.21,991.46 444.97,991.46" fill="#1d6ee0"/>
<polygon points="453.14,986.13 456.26,991.44 450.02,991.44" fill="#1d6ee0"/>
<polygon points="458.41,986.12 461.53,991.42 455.29,991.42" fill="#1d6ee0"/>
<polygon points="463.65,986.1 466.77,991.4 460.53,991.4" fill="#1d6ee0"/>
<polygon points="468.77,986.08 471.89,991.38 465.65,991.38" fill="#1d6ee0"/>
<polygon points="473.98,986.06 477.1,991.36 470.86,991.36" fill="#1d6ee0"/>
<polygon points="479.19,986.04 482.31,991.35 476.07,991.35" fill="#1d6ee0"/>
<polygon points="484.39,986.02 487.51,991.33 481.27,991.33" fill="#1d6ee0"/>
<polygon points="489.45,986.01 492.57,991.31 486.33,991.31" fill="#1d6ee0"/>
<polygon points="494.5,985.99 497.62,991.29 491.38,991.29" fill="#1d6ee0"/>
<polygon points="499.55,985.97 502.67,991.27 496.43,991.27" fill="#1d6ee0"/>
<polygon points="504.6,985.88 507.72,991.18 501.48,991.18" fill="#1d6ee0"/>
<polygon points="509.65,985.78 512.77,991.08 506.53,991.08" fill="#1d6ee0"/>
<polygon points="513.75,985.7 516.87,991 510.63,991" fill="#1d6ee0"/>
<polygon points="516.28,985.65 519.4,990.95 513.16,990.95" fill="#1d6ee0"/>
<polygon points="519.75,985.58 522.87,990.88 516.63,990.88" fill="#1d6ee0"/>
<polygon points="524.8,985.48 527.92,990.79 521.68,990.79" fill="#1d6ee0"/>
<polygon points="530.17,985.38 533.29,990.68 527.05,990.68" fill="#1d6ee0"/>
<polygon points="535.22,985.28 538.34,990.58 532.1,990.58" fill="#1d6ee0"/>
<polygon points="540.27,985.18 543.39,990.48 537.15,990.48" fill="#1d6ee0"/>
<polygon points="544.69,985.09 547.81,990.4 541.57,990.4" fill="#1d6ee0"/>
<polygon points="547.85,985.03 550.97,990.33 544.73,990.33" fill="#1d6ee0"/>
<polygon points="553.22,984.88 556.34,990.19 550.1,990.19" fill="#1d6ee0"/>
<polygon points="560.48,984.65 563.6,989.95 557.36,989.95" fill="#1d6ee0"/>
<polygon points="565.69,984.48 568.81,989.78 562.57,989.78" fill="#1d6ee0"/>
<polygon points="570.9,984.31 574.02,989.61 567.78,989.61" fill="#1d6ee0"/>
<polygon points="576.11,984.14 579.23,989.44 572.99,989.44" fill="#1d6ee0"/>
<polygon points="579.26,984.01 582.38,989.31 576.14,989.31" fill="#1d6ee0"/>
<polygon points="585.58,983.73 588.7,989.04 582.46,989.04" fill="#1d6ee0"/>
<polygon points="590.79,983.48 593.91,988.78 587.67,988.78" fill="#1d6ee0"/>
<polygon points="595.99,983.22 599.11,988.53 592.87,988.53" fill="#1d6ee0"/>
<polygon points="600.89,983.03 604.01,988.33 597.77,988.33" fill="#1d6ee0"/>
<polygon points="605.94,982.66 609.06,987.97 602.82,987.97" fill="#1d6ee0"/>
<polygon points="610.83,982.36 613.95,987.67 607.71,987.67" fill="#1d6ee0"/>
<polygon points="616.2,982.05 619.32,987.35 613.08,987.35" fill="#1d6ee0"/>
<polygon points="621.25,981.55 624.37,986.86 618.13,986.86" fill="#1d6ee0"/>
<polygon points="626.46,981.07 629.58,986.37 623.34,986.37" fill="#1d6ee0"/>
<polygon points="631.51,982.15 634.63,987.45 628.39,987.45" fill="#1d6ee0"/>
<polygon points="636.56,982.15 639.68,987.45 633.44,987.45" fill="#1d6ee0"/>
<polygon points="642.24,978.91 645.36,984.22 639.12,984.22" fill="#1d6ee0"/>
<polygon points="646.82,976.36 649.94,981.67 643.7,981.67" fill="#1d6ee0"/>
<polyline points="393.16,989 396.95,988.98 402.15,988.96 407.27,988.93 412.45,988.91 417.31,988.89 421.25,988.87 427.25,988.84 432.62,988.82 437.83,988.8 443.04,988.77 448.09,988.75 453.14,988.73 458.41,988.7 463.65,988.68 468.77,988.66 473.98,988.63 479.19,988.61 484.39,988.59 489.45,988.56 494.5,988.54 499.55,988.52 504.6,988.49 509.65,988.47 513.75,988.45 516.28,988.44 519.75,988.42 524.8,988.33 530.17,988.22 535.22,988.13 540.27,988.03 544.69,987.94 547.85,987.88 553.22,987.77 560.48,987.64 565.69,987.42 570.9,987.21 576.11,987.01 579.26,986.88 585.58,986.64 590.79,986.46 595.99,985.99 600.89,985.61 605.94,985.29 610.83,984.93 616.2,984.6 621.25,983.33 626.46,981.56 631.51,979.02 636.56,978.04 642.24,976.47 646.82,972.55" fill="none" stroke="#3db670" stroke-width="0.6" stroke-dasharray="4.2 2.2"/>
<polygon points="393.16,991.65 396.28,986.35 390.04,986.35" fill="#2ead63"/>
<polygon points="396.95,991.63 400.07,986.33 393.83,986.33" fill="#2ead63"/>
<polygon points="402.15,991.61 405.27,986.31 399.03,986.31" fill="#2ead63"/>
<polygon points="407.27,991.59 410.39,986.28 404.15,986.28" fill="#2ead63"/>
<polygon points="412.45,991.56 415.57,986.26 409.33,986.26" fill="#2ead63"/>
<polygon points="417.31,991.54 420.43,986.24 414.19,986.24" fill="#2ead63"/>
<polygon points="421.25,991.52 424.37,986.22 418.13,986.22" fill="#2ead63"/>
<polygon points="427.25,991.5 430.37,986.19 424.13,986.19" fill="#2ead63"/>
<polygon points="432.62,991.47 435.74,986.17 429.5,986.17" fill="#2ead63"/>
<polygon points="437.83,991.45 440.95,986.14 434.71,986.14" fill="#2ead63"/>
<polygon points="443.04,991.42 446.16,986.12 439.92,986.12" fill="#2ead63"/>
<polygon points="448.09,991.4 451.21,986.1 444.97,986.1" fill="#2ead63"/>
<polygon points="453.14,991.38 456.26,986.07 450.02,986.07" fill="#2ead63"/>
<polygon points="458.41,991.35 461.53,986.05 455.29,986.05" fill="#2ead63"/>
<polygon points="463.65,991.33 466.77,986.03 460.53,986.03" fill="#2ead63"/>
<polygon points="468.77,991.31 471.89,986 465.65,986" fill="#2ead63"/>
<polygon points="473.98,991.28 477.1,985.98 470.86,985.98" fill="#2ead63"/>
<polygon points="479.19,991.26 482.31,985.96 476.07,985.96" fill="#2ead63"/>
<polygon points="484.39,991.24 487.51,985.93 481.27,985.93" fill="#2ead63"/>
<polygon points="489.45,991.21 492.57,985.91 486.33,985.91" fill="#2ead63"/>
<polygon points="494.5,991.19 497.62,985.89 491.38,985.89" fill="#2ead63"/>
<polygon points="499.55,991.17 502.67,985.86 496.43,985.86" fill="#2ead63"/>
<polygon points="504.6,991.15 507.72,985.84 501.48,985.84" fill="#2ead63"/>
<polygon points="509.65,991.12 512.77,985.82 506.53,985.82" fill="#2ead63"/>
<polygon points="513.75,991.1 516.87,985.8 510.63,985.8" fill="#2ead63"/>
<polygon points="516.28,991.09 519.4,985.79 513.16,985.79" fill="#2ead63"/>
<polygon points="519.75,991.08 522.87,985.77 516.63,985.77" fill="#2ead63"/>
<polygon points="524.8,990.98 527.92,985.68 521.68,985.68" fill="#2ead63"/>
<polygon points="530.17,990.88 533.29,985.57 527.05,985.57" fill="#2ead63"/>
<polygon points="535.22,990.78 538.34,985.47 532.1,985.47" fill="#2ead63"/>
<polygon points="540.27,990.68 543.39,985.37 537.15,985.37" fill="#2ead63"/>
<polygon points="544.69,990.59 547.81,985.29 541.57,985.29" fill="#2ead63"/>
<polygon points="547.85,990.53 550.97,985.23 544.73,985.23" fill="#2ead63"/>
<polygon points="553.22,990.42 556.34,985.12 550.1,985.12" fill="#2ead63"/>
<polygon points="560.48,990.29 563.6,984.99 557.36,984.99" fill="#2ead63"/>
<polygon points="565.69,990.07 568.81,984.77 562.57,984.77" fill="#2ead63"/>
<polygon points="570.9,989.86 574.02,984.56 567.78,984.56" fill="#2ead63"/>
<polygon points="576.11,989.66 579.23,984.36 572.99,984.36" fill="#2ead63"/>
<polygon points="579.26,989.54 582.38,984.23 576.14,984.23" fill="#2ead63"/>
<polygon points="585.58,989.29 588.7,983.99 582.46,983.99" fill="#2ead63"/>
<polygon points="590.79,989.12 593.91,983.81 587.67,983.81" fill="#2ead63"/>
<polygon points="595.99,988.65 599.11,983.34 592.87,983.34" fill="#2ead63"/>
<polygon points="600.89,988.26 604.01,982.96 597.77,982.96" fill="#2ead63"/>
<polygon points="605.94,987.94 609.06,982.64 602.82,982.64" fill="#2ead63"/>
<polygon points="610.83,987.58 613.95,982.28 607.71,982.28" fill="#2ead63"/>
<polygon points="616.2,987.25 619.32,981.95 613.08,981.95" fill="#2ead63"/>
<polygon points="621.25,985.98 624.37,980.68 618.13,980.68" fill="#2ead63"/>
<polygon points="626.46,984.22 629.58,978.91 623.34,978.91" fill="#2ead63"/>
<polygon points="631.51,981.67 634.63,976.36 628.39,976.36" fill="#2ead63"/>
<polygon points="636.56,980.69 639.68,975.38 633.44,975.38" fill="#2ead63"/>
<polygon points="642.24,979.12 645.36,973.82 639.12,973.82" fill="#2ead63"/>
<polygon points="646.82,975.2 649.94,969.9 643.7,969.9" fill="#2ead63"/>
<polyline points="393.16,988.61 396.95,988.59 402.15,988.57 407.27,988.54 412.45,988.52 417.31,988.5 421.25,988.48 427.25,988.45 432.62,988.43 437.83,988.4 443.04,988.38 448.09,988.36 453.14,988.33 458.41,988.31 463.65,988.29 468.77,988.26 473.98,988.24 479.19,988.22 484.39,988.19 489.45,988.17 494.5,988.15 499.55,988.12 504.6,988.1 509.65,988.08 513.75,988.06 516.28,988.05 519.75,988.03 524.8,987.91 530.17,987.78 535.22,987.66 540.27,987.54 544.69,987.43 547.85,987.35 553.22,987.22 560.48,987.05 565.69,986.71 570.9,986.39 576.11,986.08 579.26,985.89 585.58,985.48 590.79,985.09 595.99,984.6 600.89,983.72 605.94,982.94 610.83,981.96 616.2,980.19 621.25,979.02 626.46,977.84 631.51,974.51 636.56,972.74 642.24,970.78 646.82,964.32" fill="none" stroke="#b084e8" stroke-width="0.6" stroke-dasharray="4.2 2.2"/>
<polygon points="393.16,985.49 396.28,988.61 393.16,991.73 390.04,988.61" fill="#a66fe1"/>
<polygon points="396.95,985.47 400.07,988.59 396.95,991.71 393.83,988.59" fill="#a66fe1"/>
<polygon points="402.15,985.45 405.27,988.57 402.15,991.69 399.03,988.57" fill="#a66fe1"/>
<polygon points="407.27,985.42 410.39,988.54 407.27,991.66 404.15,988.54" fill="#a66fe1"/>
<polygon points="412.45,985.4 415.57,988.52 412.45,991.64 409.33,988.52" fill="#a66fe1"/>
<polygon points="417.31,985.38 420.43,988.5 417.31,991.62 414.19,988.5" fill="#a66fe1"/>
<polygon points="421.25,985.36 424.37,988.48 421.25,991.6 418.13,988.48" fill="#a66fe1"/>
<polygon points="427.25,985.33 430.37,988.45 427.25,991.57 424.13,988.45" fill="#a66fe1"/>
<polygon points="432.62,985.31 435.74,988.43 432.62,991.55 429.5,988.43" fill="#a66fe1"/>
<polygon points="437.83,985.28 440.95,988.4 437.83,991.52 434.71,988.4" fill="#a66fe1"/>
<polygon points="443.04,985.26 446.16,988.38 443.04,991.5 439.92,988.38" fill="#a66fe1"/>
<polygon points="448.09,985.24 451.21,988.36 448.09,991.48 444.97,988.36" fill="#a66fe1"/>
<polygon points="453.14,985.21 456.26,988.33 453.14,991.45 450.02,988.33" fill="#a66fe1"/>
<polygon points="458.41,985.19 461.53,988.31 458.41,991.43 455.29,988.31" fill="#a66fe1"/>
<polygon points="463.65,985.17 466.77,988.29 463.65,991.41 460.53,988.29" fill="#a66fe1"/>
<polygon points="468.77,985.14 471.89,988.26 468.77,991.38 465.65,988.26" fill="#a66fe1"/>
<polygon points="473.98,985.12 477.1,988.24 473.98,991.36 470.86,988.24" fill="#a66fe1"/>
<polygon points="479.19,985.1 482.31,988.22 479.19,991.34 476.07,988.22" fill="#a66fe1"/>
<polygon points="484.39,985.07 487.51,988.19 484.39,991.31 481.27,988.19" fill="#a66fe1"/>
<polygon points="489.45,985.05 492.57,988.17 489.45,991.29 486.33,988.17" fill="#a66fe1"/>
<polygon points="494.5,985.03 497.62,988.15 494.5,991.27 491.38,988.15" fill="#a66fe1"/>
<polygon points="499.55,985 502.67,988.12 499.55,991.24 496.43,988.12" fill="#a66fe1"/>
<polygon points="504.6,984.98 507.72,988.1 504.6,991.22 501.48,988.1" fill="#a66fe1"/>
<polygon points="509.65,984.96 512.77,988.08 509.65,991.2 506.53,988.08" fill="#a66fe1"/>
<polygon points="513.75,984.94 516.87,988.06 513.75,991.18 510.63,988.06" fill="#a66fe1"/>
<polygon points="516.28,984.93 519.4,988.05 516.28,991.17 513.16,988.05" fill="#a66fe1"/>
<polygon points="519.75,984.91 522.87,988.03 519.75,991.15 516.63,988.03" fill="#a66fe1"/>
<polygon points="524.8,984.79 527.92,987.91 524.8,991.03 521.68,987.91" fill="#a66fe1"/>
<polygon points="530.17,984.66 533.29,987.78 530.17,990.9 527.05,987.78" fill="#a66fe1"/>
<polygon points="535.22,984.54 538.34,987.66 535.22,990.78 532.1,987.66" fill="#a66fe1"/>
<polygon points="540.27,984.42 543.39,987.54 540.27,990.66 537.15,987.54" fill="#a66fe1"/>
<polygon points="544.69,984.31 547.81,987.43 544.69,990.55 541.57,987.43" fill="#a66fe1"/>
<polygon points="547.85,984.23 550.97,987.35 547.85,990.47 544.73,987.35" fill="#a66fe1"/>
<polygon points="553.22,984.1 556.34,987.22 553.22,990.34 550.1,987.22" fill="#a66fe1"/>
<polygon points="560.48,983.93 563.6,987.05 560.48,990.17 557.36,987.05" fill="#a66fe1"/>
<polygon points="565.69,983.59 568.81,986.71 565.69,989.83 562.57,986.71" fill="#a66fe1"/>
<polygon points="570.9,983.27 574.02,986.39 570.9,989.51 567.78,986.39" fill="#a66fe1"/>
<polygon points="576.11,982.96 579.23,986.08 576.11,989.2 572.99,986.08" fill="#a66fe1"/>
<polygon points="579.26,982.77 582.38,985.89 579.26,989.01 576.14,985.89" fill="#a66fe1"/>
<polygon points="585.58,982.36 588.7,985.48 585.58,988.6 582.46,985.48" fill="#a66fe1"/>
<polygon points="590.79,981.97 593.91,985.09 590.79,988.21 587.67,985.09" fill="#a66fe1"/>
<polygon points="595.99,981.48 599.11,984.6 595.99,987.72 592.87,984.6" fill="#a66fe1"/>
<polygon points="600.89,980.6 604.01,983.72 600.89,986.84 597.77,983.72" fill="#a66fe1"/>
<polygon points="605.94,979.82 609.06,982.94 605.94,986.06 602.82,982.94" fill="#a66fe1"/>
<polygon points="610.83,978.84 613.95,981.96 610.83,985.08 607.71,981.96" fill="#a66fe1"/>
<polygon points="616.2,977.07 619.32,980.19 616.2,983.31 613.08,980.19" fill="#a66fe1"/>
<polygon points="621.25,975.9 624.37,979.02 621.25,982.14 618.13,979.02" fill="#a66fe1"/>
<polygon points="626.46,974.72 629.58,977.84 626.46,980.96 623.34,977.84" fill="#a66fe1"/>
<polygon points="631.51,971.39 634.63,974.51 631.51,977.63 628.39,974.51" fill="#a66fe1"/>
<polygon points="636.56,969.62 639.68,972.74 636.56,975.86 633.44,972.74" fill="#a66fe1"/>
<polygon points="642.24,967.66 645.36,970.78 642.24,973.9 639.12,970.78" fill="#a66fe1"/>
<polygon points="646.82,961.2 649.94,964.32 646.82,967.44 643.7,964.32" fill="#a66fe1"/>
</g>
<rect x="390" y="695.6" width="293.5" height="294" fill="none" stroke="#000" stroke-width="2"/>
<text transform="translate(380.7 993.1) scale(1.0 1)" font-size="11.2" text-anchor="end" >0</text>
<text transform="translate(380.7 953.9) scale(1.0 1)" font-size="11.2" text-anchor="end" >20</text>
<text transform="translate(380.7 914.7) scale(1.0 1)" font-size="11.2" text-anchor="end" >40</text>
<text transform="translate(380.7 875.5) scale(1.0 1)" font-size="11.2" text-anchor="end" >60</text>
<text transform="translate(380.7 836.3) scale(1.0 1)" font-size="11.2" text-anchor="end" >80</text>
<text transform="translate(380.7 797.1) scale(1.0 1)" font-size="11.2" text-anchor="end" >100</text>
<text transform="translate(380.7 757.9) scale(1.0 1)" font-size="11.2" text-anchor="end" >120</text>
<text transform="translate(380.7 718.7) scale(1.0 1)" font-size="11.2" text-anchor="end" >140</text>
<text transform="translate(390.1 1009.6) scale(1.0 1)" font-size="11.2" text-anchor="middle">10<tspan font-size="7.2" dy="-4.2">&#8722;1</tspan></text>
<text transform="translate(421.67 1009.6) scale(1.0 1)" font-size="11.2" text-anchor="middle">10<tspan font-size="7.2" dy="-4.2">0</tspan></text>
<text transform="translate(453.24 1009.6) scale(1.0 1)" font-size="11.2" text-anchor="middle">10<tspan font-size="7.2" dy="-4.2">1</tspan></text>
<text transform="translate(484.81 1009.6) scale(1.0 1)" font-size="11.2" text-anchor="middle">10<tspan font-size="7.2" dy="-4.2">2</tspan></text>
<text transform="translate(516.38 1009.6) scale(1.0 1)" font-size="11.2" text-anchor="middle">10<tspan font-size="7.2" dy="-4.2">3</tspan></text>
<text transform="translate(547.95 1009.6) scale(1.0 1)" font-size="11.2" text-anchor="middle">10<tspan font-size="7.2" dy="-4.2">4</tspan></text>
<text transform="translate(579.52 1009.6) scale(1.0 1)" font-size="11.2" text-anchor="middle">10<tspan font-size="7.2" dy="-4.2">5</tspan></text>
<text transform="translate(611.09 1009.6) scale(1.0 1)" font-size="11.2" text-anchor="middle">10<tspan font-size="7.2" dy="-4.2">6</tspan></text>
<text transform="translate(642.66 1009.6) scale(1.0 1)" font-size="11.2" text-anchor="middle">10<tspan font-size="7.2" dy="-4.2">7</tspan></text>
<text transform="translate(674.23 1009.6) scale(1.0 1)" font-size="11.2" text-anchor="middle">10<tspan font-size="7.2" dy="-4.2">8</tspan></text>
<path d="M384.4 989.6H390M386.8 981.76H390M386.8 973.92H390M386.8 966.08H390M386.8 958.24H390M384.4 950.4H390M386.8 942.56H390M386.8 934.72H390M386.8 926.88H390M386.8 919.04H390M384.4 911.2H390M386.8 903.36H390M386.8 895.52H390M386.8 887.68H390M386.8 879.84H390M384.4 872H390M386.8 864.16H390M386.8 856.32H390M386.8 848.48H390M386.8 840.64H390M384.4 832.8H390M386.8 824.96H390M386.8 817.12H390M386.8 809.28H390M386.8 801.44H390M384.4 793.6H390M386.8 785.76H390M386.8 777.92H390M386.8 770.08H390M386.8 762.24H390M384.4 754.4H390M386.8 746.56H390M386.8 738.72H390M386.8 730.88H390M386.8 723.04H390M384.4 715.2H390M386.8 707.36H390M386.8 699.52H390M390 989.6V995.4M399.5 989.6V992.9M405.06 989.6V992.9M409.01 989.6V992.9M412.07 989.6V992.9M414.57 989.6V992.9M416.68 989.6V992.9M418.51 989.6V992.9M420.13 989.6V992.9M421.57 989.6V995.4M431.07 989.6V992.9M436.63 989.6V992.9M440.58 989.6V992.9M443.64 989.6V992.9M446.14 989.6V992.9M448.25 989.6V992.9M450.08 989.6V992.9M451.7 989.6V992.9M453.14 989.6V995.4M462.64 989.6V992.9M468.2 989.6V992.9M472.15 989.6V992.9M475.21 989.6V992.9M477.71 989.6V992.9M479.82 989.6V992.9M481.65 989.6V992.9M483.27 989.6V992.9M484.71 989.6V995.4M494.21 989.6V992.9M499.77 989.6V992.9M503.72 989.6V992.9M506.78 989.6V992.9M509.28 989.6V992.9M511.39 989.6V992.9M513.22 989.6V992.9M514.84 989.6V992.9M516.28 989.6V995.4M525.78 989.6V992.9M531.34 989.6V992.9M535.29 989.6V992.9M538.35 989.6V992.9M540.85 989.6V992.9M542.96 989.6V992.9M544.79 989.6V992.9M546.41 989.6V992.9M547.85 989.6V995.4M557.35 989.6V992.9M562.91 989.6V992.9M566.86 989.6V992.9M569.92 989.6V992.9M572.42 989.6V992.9M574.53 989.6V992.9M576.36 989.6V992.9M577.98 989.6V992.9M579.42 989.6V995.4M588.92 989.6V992.9M594.48 989.6V992.9M598.43 989.6V992.9M601.49 989.6V992.9M603.99 989.6V992.9M606.1 989.6V992.9M607.93 989.6V992.9M609.55 989.6V992.9M610.99 989.6V995.4M620.49 989.6V992.9M626.05 989.6V992.9M630 989.6V992.9M633.06 989.6V992.9M635.56 989.6V992.9M637.67 989.6V992.9M639.5 989.6V992.9M641.12 989.6V992.9M642.56 989.6V995.4M652.06 989.6V992.9M657.62 989.6V992.9M661.57 989.6V992.9M664.63 989.6V992.9M667.13 989.6V992.9M669.24 989.6V992.9M671.07 989.6V992.9M672.69 989.6V992.9M674.13 989.6V995.4" stroke="#000" stroke-width="1.6" fill="none"/>
<text transform="translate(537.55 1024.2) scale(1.0 1)" font-size="14.8" text-anchor="middle" >Frequency (Hz)</text>
<text transform="translate(358.6 842.6) scale(1.0 1) rotate(-90)" font-size="14.5" text-anchor="middle">Q-factor</text>
<text transform="translate(393.2 715.4) scale(1.0 1)" font-size="14.3" text-anchor="start" >(f) Cu</text>
<rect x="409.49" y="892.84" width="4.13" height="4.13" fill="#424242"/>
<text transform="translate(432.3 899.7) scale(1.0 1)" font-size="14.4" text-anchor="start" >x = 0.1</text>
<line x1="395.1" y1="913.9" x2="428" y2="913.9" stroke="#fbe4e5" stroke-width="1"/>
<circle cx="411.55" cy="913.9" r="2.35" fill="#e9363b"/>
<text transform="translate(432.3 918.7) scale(1.0 1)" font-size="14.4" text-anchor="start" >x = 0.2</text>
<line x1="395.1" y1="932.5" x2="428" y2="932.5" stroke="#d3e2f9" stroke-width="1"/>
<polygon points="411.55,929.24 414.43,934.13 408.67,934.13" fill="#1d6ee0"/>
<text transform="translate(432.3 937.3) scale(1.0 1)" font-size="14.4" text-anchor="start" >x = 0.3</text>
<line x1="395.1" y1="951.5" x2="428" y2="951.5" stroke="#8ed1a5" stroke-width="1"/>
<polygon points="411.55,954.76 414.43,949.87 408.67,949.87" fill="#2ead63"/>
<text transform="translate(432.3 956.3) scale(1.0 1)" font-size="14.4" text-anchor="start" >x = 0.4</text>
<line x1="395.1" y1="970.2" x2="428" y2="970.2" stroke="#cbaaf0" stroke-width="1"/>
<polygon points="411.55,967.32 414.43,970.2 411.55,973.08 408.67,970.2" fill="#a66fe1"/>
<text transform="translate(432.3 975) scale(1.0 1)" font-size="14.4" text-anchor="start" >x = 0.5</text>
</svg>
</body></html>
